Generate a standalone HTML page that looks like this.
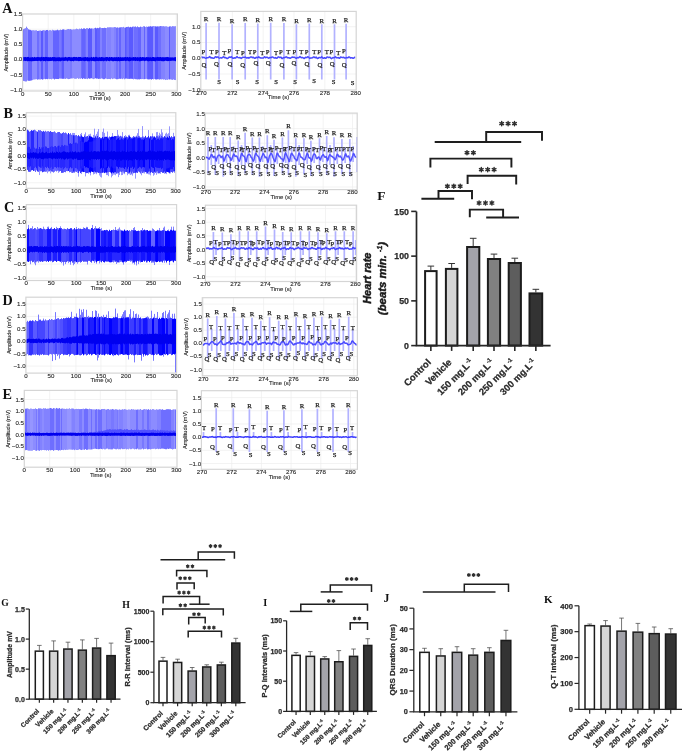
<!DOCTYPE html>
<html><head><meta charset="utf-8"><style>
html,body{margin:0;padding:0;background:#fff;}
svg{display:block;filter:blur(0.45px);}
text{font-family:"Liberation Sans", sans-serif;}
.sb{font-family:"Liberation Serif", serif;font-weight:bold;}
.se{font-family:"Liberation Serif", serif;}
.mo{font-family:"Liberation Mono", monospace;}
.b{font-weight:bold;stroke:#2b2b2b;stroke-width:0.25px;}
.bi{font-weight:bold;font-style:italic;stroke:#1a1a1a;stroke-width:0.45px;}
</style></head><body>
<svg width="685" height="753" viewBox="0 0 685 753">
<rect width="685" height="753" fill="#fff"/>
<path d="M22.6 29.16H177.4M22.6 44.32H177.4M22.6 59.48H177.4M22.6 74.64H177.4M22.6 89.8H177.4M48.22 14V91M73.83 14V91M99.45 14V91M125.07 14V91M150.68 14V91M176.3 14V91" stroke="#eeeeee" stroke-width="0.7" fill="none"/>
<path d="M41.5 30.84V79.16M42.5 30.49V79.62M62.5 29.49V78.81M63.5 29.33V78.81M88.5 28.8V78.32M89.5 27.96V78.75M90.5 28.59V78.46M91.5 28.42V78.26M95.5 27.75V78.28M96.5 28.34V78.61M125.5 27.49V78.65M129.5 27.31V78.9M130.5 26.86V78.78M131.5 27.3V78.79M132.5 26.69V78.9M148.5 26.49V79.43M149.5 26.52V79.36M150.5 26.18V79.17M151.5 26.54V79.62M152.5 26.34V79.02M155.5 26.32V79.4M156.5 26.53V79.51M157.5 26.35V79.25M169.5 26.42V79.46" stroke="#5a5aff" stroke-width="1" fill="none"/>
<path d="M23.5 29.23V80.92M28.5 29.3V80.81M29.5 29.7V80.84M30.5 29.86V80.66M31.5 30.43V80.45M45.5 30.51V79.21M46.5 30.01V78.94M47.5 29.96V79.19M53.5 30.28V78.75M54.5 30.46V79.48M55.5 30.33V78.9M56.5 30.23V78.97M57.5 29.69V79.01M58.5 30.27V79.05M82.5 29.09V79.05M83.5 28.42V78.34M84.5 28.38V78.76M97.5 27.87V78.57M98.5 28.17V78.96M99.5 27.51V78.78M119.5 27.44V78.75M120.5 27.3V78.86M126.5 26.97V78.59M138.5 27.14V79.31M139.5 27.21V79.42M140.5 26.62V79.06M144.5 26.37V79.17M147.5 26.86V79.28" stroke="#6464ff" stroke-width="1" fill="none"/>
<path d="M37.5 30.96V79.68M38.5 30.81V79.37M61.5 30.02V78.67M81.5 28.36V78.27M85.5 28.97V78.86M102.5 28.01V78.71M103.5 28.06V79.19M104.5 27.75V79.15M105.5 27.96V78.5M116.5 27.66V79.27M117.5 27.35V79.24M127.5 26.9V78.84M128.5 26.67V78.88M134.5 26.76V78.87M135.5 26.45V79.18M136.5 27.16V79.25M137.5 26.4V79.45M158.5 26.44V79.25M159.5 26.31V79.58M160.5 26.03V79.26" stroke="#6e6eff" stroke-width="1" fill="none"/>
<path d="M59.5 30.14V78.56M60.5 29.64V78.61M70.5 29.09V78.65M71.5 29.5V78.48" stroke="#7878ff" stroke-width="1" fill="none"/>
<path d="M24.5 28.6V81.21M25.5 28.17V81.51M26.5 26.67V81.46M39.5 30.59V79.45M40.5 30.43V79.47M43.5 30.11V79.26M44.5 30.32V78.86M64.5 29.65V78.73M65.5 29.91V78.96M66.5 29.64V78.43M67.5 29.2V78.81M68.5 29.03V79.13M69.5 29.26V78.98M86.5 28.16V78.69M87.5 28.2V79.11M100.5 27.52V78.84M101.5 28.05V78.43M107.5 27.3V79.08M108.5 27.39V78.95M109.5 27.27V78.98M110.5 27.25V79.22M114.5 27.08V78.54M115.5 27.15V78.87M118.5 27.72V79.07M121.5 27.13V78.65M122.5 27.28V79.12M123.5 26.87V78.5M124.5 27.62V79.27M133.5 26.52V79.36M161.5 26.14V79.44M162.5 26.24V79.21M163.5 26.13V79.58M164.5 26.42V79.36M170.5 26.24V79.4M171.5 26.67V79.65M172.5 26.1V79.88M173.5 26.24V79.43M174.5 26.32V79.93" stroke="#8282ff" stroke-width="1" fill="none"/>
<path d="M27.5 27.93V80.52M32.5 30.24V80.13M33.5 30.21V79.62M34.5 30.43V79.51M35.5 30.3V79.33M36.5 30.22V79.15M48.5 30.62V78.84M49.5 30.18V79.17M50.5 30.12V79.02M51.5 30.55V79.36M52.5 29.77V78.82M72.5 29.55V78.46M73.5 29.3V78.25M74.5 29.37V78.74M75.5 29.2V78.85M76.5 28.61V78.74M77.5 28.97V78.16M78.5 29.29V78.91M79.5 28.63V78.52M80.5 28.96V78.81M92.5 28.49V78.71M93.5 28.64V79.14M94.5 28.09V78.75M106.5 28.05V78.77M111.5 27.31V78.43M112.5 27.39V79.1M113.5 27.34V78.66M141.5 26.9V79.14M142.5 26.9V79.03M143.5 26.21V79.17M145.5 26.94V78.97M146.5 26.51V78.84M153.5 25.99V79.42M154.5 26.21V78.96M165.5 26.29V80.04M166.5 26.26V79.71M167.5 26.7V79.9M168.5 26.82V79.36M175.5 26.17V80.06" stroke="#8c8cff" stroke-width="1" fill="none"/>
<path d="M23.5 57.05V61.14M24.5 57.11V60.82M25.5 57V61.04M26.5 57.24V60.86M27.5 56.96V61.28M28.5 56.94V61.07M29.5 57.49V61.16M30.5 57.37V61.16M31.5 57.33V61.29M32.5 57.12V61.19M33.5 57.44V61.1M34.5 56.94V61.04M35.5 57.33V60.94M36.5 57.2V60.94M37.5 57.03V61.05M38.5 57.08V60.89M39.5 57.2V60.83M40.5 57.21V61.28M41.5 56.91V60.94M42.5 57.2V60.7M43.5 56.99V61.16M44.5 57.16V61.02M45.5 56.93V61.3M46.5 56.97V60.85M47.5 57.17V61.04M48.5 57.16V61.18M49.5 57.29V61.09M50.5 57.14V61.02M51.5 57.4V60.94M52.5 57.03V60.8M53.5 57.1V61.25M54.5 57.05V61.15M55.5 57.3V61.26M56.5 57.41V61.13M57.5 57.31V61.01M58.5 57.25V61.19M59.5 57.2V61.17M60.5 57.5V61.29M61.5 57.41V60.87M62.5 57.38V60.71M63.5 57.37V60.91M64.5 57.31V60.92M65.5 56.92V60.77M66.5 57.32V60.73M67.5 57.36V61.29M68.5 57.01V60.72M69.5 56.98V60.71M70.5 57.28V61.09M71.5 57.25V61.18M72.5 57.33V61M73.5 56.96V61.29M74.5 56.91V60.82M75.5 57.1V60.79M76.5 56.97V60.88M77.5 57.37V60.86M78.5 56.96V61.17M79.5 57V61.08M80.5 56.98V60.93M81.5 57.43V60.96M82.5 57.46V60.77M83.5 57.3V60.93M84.5 57.16V61.16M85.5 56.97V60.96M86.5 57.34V60.82M87.5 57.1V61.24M88.5 57.48V61.15M89.5 57.44V61.2M90.5 57.45V60.75M91.5 56.96V61.12M92.5 57.45V60.9M93.5 56.91V61.12M94.5 57.32V61.26M95.5 56.92V61.23M96.5 56.91V60.97M97.5 57.35V60.97M98.5 57.46V61.13M99.5 57.11V60.91M100.5 57.32V61.1M101.5 56.97V61.12M102.5 57.16V60.94M103.5 57.36V61.26M104.5 57.46V60.91M105.5 57.21V60.78M106.5 57.03V61.25M107.5 57.04V60.7M108.5 57.44V60.99M109.5 56.97V61.21M110.5 57.32V60.75M111.5 57V60.85M112.5 57.25V61.2M113.5 57.36V61.26M114.5 57.18V60.97M115.5 57.27V61.09M116.5 57.12V61.05M117.5 57.29V61.22M118.5 57.01V61.06M119.5 57.37V61.29M120.5 57.12V61.03M121.5 57.36V61M122.5 57.26V60.96M123.5 57.34V60.91M124.5 57.2V60.77M125.5 56.97V61.11M126.5 57.28V60.87M127.5 56.99V60.76M128.5 57.4V61.15M129.5 57.05V61.27M130.5 57.3V60.99M131.5 57.48V60.7M132.5 57.35V60.75M133.5 57.04V60.79M134.5 57.24V60.74M135.5 57.02V61.04M136.5 57.43V60.75M137.5 57.14V61.05M138.5 57.36V60.84M139.5 57.24V61.29M140.5 57V61.17M141.5 57.34V60.94M142.5 57.03V60.81M143.5 57.21V60.78M144.5 57.28V61.13M145.5 57.44V60.85M146.5 57.05V60.71M147.5 57.16V61.11M148.5 57.19V61.3M149.5 57.32V61.06M150.5 57.21V60.91M151.5 57.51V61.13M152.5 57.01V60.99M153.5 57V61.05M154.5 57.32V61.2M155.5 57.29V61.3M156.5 57.26V60.78M157.5 56.96V60.85M158.5 57.12V60.91M159.5 57.13V60.91M160.5 57V60.83M161.5 57.3V61.14M162.5 57.18V61.21M163.5 57.23V61.27M164.5 57.25V61.08M165.5 57.2V60.73M166.5 57.09V60.93M167.5 56.97V61.14M168.5 57.19V61.08M169.5 57.41V60.9M170.5 57.35V60.93M171.5 57.4V60.82M172.5 57.37V60.71M173.5 57.49V60.75M174.5 57.25V60.84M175.5 57.13V61.2" stroke="#0000ee" stroke-width="1" fill="none"/>
<path d="M26.3 116.12H175.8M26.3 129.45H175.8M26.3 142.77H175.8M26.3 156.1H175.8M26.3 169.43H175.8M26.3 182.75H175.8M51.18 112.7V188.3M76.07 112.7V188.3M100.95 112.7V188.3M125.83 112.7V188.3M150.72 112.7V188.3" stroke="#eeeeee" stroke-width="0.7" fill="none"/>
<path d="M27.5 129.81V169.83M28.5 130.61V171.54M29.5 131.77V171.85M30.5 131.16V171.64M31.5 130.22V170.28M32.5 130.8V170.02M33.5 130.31V170.98M34.5 129.81V170.54M35.5 130.52V171.91M36.5 131.37V170.23M37.5 131.78V171.35M38.5 130.11V171.82M39.5 130.54V175.05M40.5 130.34V171.2M41.5 131.01V171.13M42.5 131.73V172.19M43.5 130.9V171.75M44.5 131.77V171.44M45.5 130.86V171.68M46.5 131.78V171.47M47.5 131.4V173.29M48.5 131.28V171.38M49.5 131.88V171.23M50.5 131.06V173.33M51.5 131.98V171.38M52.5 132.14V171.61M53.5 131.94V172.41M54.5 131.51V171.64M55.5 132.54V170.7M56.5 133.16V171.36M57.5 132.35V170.6M58.5 132.07V172.88M59.5 132.07V171.41M60.5 133.35V171.01M61.5 133.74V172.74M62.5 132.96V172.72M63.5 132.32V172.51M64.5 133.15V172.01M65.5 132.67V172.2M66.5 133.45V171.05M67.5 134.52V171.15M68.5 133.02V170.95M69.5 134.31V172.18M70.5 133.3V171.89M71.5 134.83V173.02M72.5 132.93V172.95M73.5 132.96V172.93M74.5 132.97V173.02M75.5 135.43V171.45M76.5 135.07V171.96M77.5 136.22V172.91M78.5 135.24V176.63M79.5 136.42V171.22M80.5 134.05V173.09M81.5 132.94V174.06M82.5 136.76V171.62M83.5 137.13V172.04M84.5 134.25V172.02M85.5 132.37V176.38M86.5 136.57V173.08M87.5 136.01V172.94M88.5 134.65V173.72M89.5 134.35V172.8M90.5 133.73V175.36M91.5 136.72V171.51M92.5 137.55V171.99M93.5 134.91V174.5M94.5 128.69V173.96M95.5 135.56V173.25M96.5 133.93V174.19M97.5 131.66V172.31M98.5 129.01V172.9M99.5 137.05V175.46M100.5 137.89V176.86M101.5 137.96V177.55M102.5 131.86V172.7M103.5 128.54V172.4M104.5 132.88V173.09M105.5 136.81V172.44M106.5 136.84V175.08M107.5 131.54V175.08M108.5 137.66V176.18M109.5 136.6V171.96M110.5 137.21V172.33M111.5 136.09V177.4M112.5 133.04V175.83M113.5 136.76V174.66M114.5 136.14V174.65M115.5 136.18V175.27M116.5 136.19V173.56M117.5 129.99V173.64M118.5 134.71V177.13M119.5 136.62V174.98M120.5 135.9V171.52M121.5 136.62V175.17M122.5 132.13V174.99M123.5 137.79V173.42M124.5 136.2V174.2M125.5 135.07V171.88M126.5 136.65V171.99M127.5 137.24V175.23M128.5 134.93V173.95M129.5 134.78V174.3M130.5 136.95V175.06M131.5 137.82V174.54M132.5 137.51V175.63M133.5 136.24V173.16M134.5 136.81V172.8M135.5 136.52V178.64M136.5 135.59V172.44M137.5 133.2V172.95M138.5 128.92V171.36M139.5 135.84V172.16M140.5 137.43V173.37M141.5 137.47V175.28M142.5 126.1V173.02M143.5 136.42V173.19M144.5 137.36V173.52M145.5 135.92V172.04M146.5 137.7V173.79M147.5 137.32V173.87M148.5 130.05V174.33M149.5 137.61V174.48M150.5 136.34V175.38M151.5 136.6V172.08M152.5 133.42V172.96M153.5 136.73V175.73M154.5 136.56V174.65M155.5 137.72V172.69M156.5 132.15V174.83M157.5 131.96V173.25M158.5 135.36V173.27M159.5 132.76V173.19M160.5 134.34V173.82M161.5 129.24V171.99M162.5 132.41V172.84M163.5 137.45V172.68M164.5 136.17V173.8M165.5 133.71V173.19M166.5 132.68V174.15M167.5 134.17V172.03M168.5 133.18V172.33M169.5 126.32V173.65M170.5 137.45V173.44M171.5 136.3V171.97M172.5 137.32V172.59M173.5 132.84V171.43M174.5 136.52V172.92" stroke="#9696ff" stroke-width="1" fill="none"/>
<path d="M89.5 136.09V171.96M90.5 136.43V172.71M91.5 136.72V171.51M92.5 137.55V171.99M111.5 137.03V173.41M112.5 136.62V172.38M129.5 136.28V172.67" stroke="#0000ff" stroke-width="1" fill="none"/>
<path d="M82.5 136.76V171.62M83.5 137.13V172.04M106.5 136.84V172.67M154.5 136.56V171.79M166.5 137.74V171.78M167.5 136.72V172.03M168.5 137.81V172.33M169.5 136.09V172.77" stroke="#0a0aff" stroke-width="1" fill="none"/>
<path d="M102.5 137.07V172.7M104.5 137.08V173.09M105.5 136.81V172.44M110.5 137.21V172.33M113.5 136.76V173.08M114.5 136.14V172.34M115.5 136.18V172.27" stroke="#1414ff" stroke-width="1" fill="none"/>
<path d="M68.5 133.02V170.95M73.5 135.19V171.68M81.5 135.45V171.89M93.5 137.68V172.19M94.5 137.79V171.52M95.5 136.48V171.99M150.5 136.34V172.69M174.5 136.52V171.32" stroke="#1e1eff" stroke-width="1" fill="none"/>
<path d="M31.5 130.22V170.28M32.5 130.8V170.02M33.5 130.31V170.98M37.5 131.78V171.35M135.5 137.43V172.85M136.5 136.6V172.44M145.5 135.92V172.04M146.5 137.7V172.38M147.5 137.32V173.06M148.5 135.98V171.73M163.5 137.45V172.68M164.5 136.17V171.64M165.5 137.44V173.19" stroke="#2828ff" stroke-width="1" fill="none"/>
<path d="M42.5 131.73V172.19M78.5 135.24V172.96M79.5 136.42V171.22M80.5 136.57V173.09M96.5 137.76V172.39M97.5 136.01V172.31M98.5 137.92V172.9M99.5 137.05V172.76M126.5 136.65V171.99" stroke="#3232ff" stroke-width="1" fill="none"/>
<path d="M27.5 129.81V169.83M28.5 130.61V171.54M43.5 130.9V171.75M44.5 131.77V171.44M74.5 135.46V171.76M84.5 135.93V172.02M85.5 136.9V172.7M86.5 136.57V173.08M87.5 136.01V172.94M88.5 137.57V172.38M100.5 137.89V173.15M101.5 137.96V172.82M107.5 136.7V172.31M143.5 137.7V171.71M144.5 137.36V171.73M149.5 137.61V171.4M173.5 136.84V171.43" stroke="#3c3cff" stroke-width="1" fill="none"/>
<path d="M49.5 131.88V171.23M50.5 131.06V170.43M51.5 131.98V171.38M52.5 132.14V171.61M61.5 133.74V172.74M62.5 132.96V172.72M103.5 137.63V172.4M116.5 136.19V173.56M117.5 136.1V172.6M118.5 136.08V173.12M119.5 136.62V171.84M124.5 136.2V172.81M125.5 137.08V171.88M127.5 137.24V172.66M130.5 136.95V171.68M131.5 137.82V173.45M132.5 137.51V171.73M133.5 136.24V173.16M134.5 136.81V172.8M137.5 137.09V172.95M138.5 136.2V171.36M139.5 136.67V172.16M151.5 136.6V172.08M152.5 136.13V172.96M153.5 136.73V172.83M155.5 137.72V172.69M156.5 136.12V171.69M157.5 136.22V171.34M158.5 137.36V173.27M159.5 135.95V173.19M160.5 137.61V171.95M161.5 135.9V171.99M162.5 136.71V172.84M170.5 137.45V171.78M171.5 136.3V171.97M172.5 137.32V172.59" stroke="#4646ff" stroke-width="1" fill="none"/>
<path d="M29.5 131.77V171.85M30.5 131.16V171.64M58.5 132.07V170.6M59.5 132.07V171.41M60.5 133.35V171.01M108.5 137.66V172.22M109.5 136.6V171.96M120.5 135.9V171.52M121.5 136.62V172.01M122.5 136.64V171.48M123.5 137.79V171.55M128.5 136.21V173.13M140.5 137.43V173.37M141.5 137.47V171.51M142.5 136.53V173.02" stroke="#5050ff" stroke-width="1" fill="none"/>
<path d="M38.5 130.11V171.82M39.5 130.54V170.59M40.5 130.34V171.2M41.5 131.01V171.13M57.5 132.35V170.6M63.5 132.32V172.51M64.5 133.15V172.01M65.5 132.67V172.2M66.5 133.45V171.05M67.5 134.52V171.15M69.5 134.31V172.18M71.5 134.83V171.66M72.5 135.35V172.95M75.5 135.43V171.45M76.5 135.07V171.96M77.5 136.22V171.13" stroke="#5a5aff" stroke-width="1" fill="none"/>
<path d="M34.5 129.81V170.54M35.5 130.52V171.91M36.5 131.37V170.23M45.5 130.86V171.68M46.5 131.78V171.47M47.5 131.4V170.29M48.5 131.28V171.38M53.5 131.94V172.41M54.5 131.51V171.64M55.5 132.54V170.7M56.5 133.16V171.36M70.5 133.3V171.89" stroke="#6464ff" stroke-width="1" fill="none"/>
<path d="M84.5 142.64V166.04M85.5 141.8V167.5M86.5 141.82V167.2M87.5 141.37V167.74M88.5 140.15V168.1M100.5 139.25V168.74M101.5 139.3V167.85M107.5 138.25V168M143.5 139.88V167.03M144.5 138.84V167.46M149.5 138.68V168.54" stroke="#0000ff" stroke-width="1" fill="none"/>
<path d="M103.5 138.92V168.28M116.5 139.79V166.48M117.5 138.71V166.91M118.5 138.02V168.63M119.5 139.83V166.98M124.5 138.36V168.97M125.5 137.89V167.17M127.5 139.51V168.73M132.5 138.76V166.76M133.5 138.01V169.03M134.5 137.62V167.62M138.5 138.09V167.91M139.5 138.06V166.82M151.5 139.92V166.88M152.5 139.38V167.61M153.5 137.94V168.05M173.5 139.48V167.04" stroke="#0a0aff" stroke-width="1" fill="none"/>
<path d="M89.5 141.78V167.88M90.5 141.77V167.13M91.5 141.64V167.97M92.5 141.28V168.23M108.5 139.03V166.55M109.5 140V167.77M111.5 138.84V166.6M112.5 138.17V167.76M120.5 139.59V167.58M121.5 138.31V167.78M122.5 139.31V167.56M123.5 139.61V167.91M128.5 138.27V166.89M129.5 138.73V166.95M130.5 138.57V167.72M131.5 138.77V167.88M137.5 138.36V168.71M140.5 138.34V167.4M141.5 139.47V168.55M142.5 139.36V167.36M155.5 137.76V167.09M156.5 139.75V167.59M157.5 138.96V167.83M158.5 138.82V167.91M159.5 139.85V168.09M160.5 138.48V167.7M161.5 138.24V169.19M162.5 138.53V168.23M170.5 137.8V169.37M171.5 140.05V169.12M172.5 139.01V169.22" stroke="#1414ff" stroke-width="1" fill="none"/>
<path d="M30.5 148.84V166.33M36.5 148.51V168.27M39.5 147.04V166.92M40.5 148.79V167.72M42.5 147.65V166.33M48.5 148.09V168.08M58.5 145.72V167.54M69.5 143.74V168.45M70.5 143.18V167.23M71.5 144V168.3M80.5 140.86V168.46M82.5 141.87V168.45M83.5 142.12V168.43M102.5 139.4V166.4M104.5 140.23V168.14M105.5 137.91V167.73M106.5 138.12V167.22M110.5 139.9V167.39M113.5 138.19V168.41M114.5 139.63V168.49M115.5 138.03V168.5M154.5 139.96V167.53M166.5 138.05V168.66M167.5 139.83V168.32M168.5 140.06V168.05M169.5 137.52V167.63" stroke="#1e1eff" stroke-width="1" fill="none"/>
<path d="M27.5 147.44V166.86M28.5 146.73V166.14M29.5 146.98V167.29M31.5 148.87V166.72M32.5 146.92V166.35M37.5 146.59V168.78M43.5 147.09V168.29M45.5 146.36V167.07M46.5 146.76V168.06M47.5 148.05V166.81M50.5 146.86V167.78M52.5 146.56V168.9M55.5 146V167.13M56.5 147.27V168.15M60.5 146.92V167.8M61.5 145.34V168.04M62.5 145.11V167.26M63.5 146.08V169.34M64.5 144.9V168.1M75.5 142.71V168.03M77.5 143.47V169.45M81.5 141.74V166.34M93.5 141.2V168.23M94.5 140.28V167.47M95.5 140.07V167.24M126.5 138.9V168.01M135.5 139.59V168.29M136.5 138.31V166.82M145.5 138.68V167.5M146.5 138.37V168.08M147.5 139.99V168.93M148.5 138.44V166.72M150.5 139.83V167.52M163.5 138.87V167.25M164.5 137.79V168.6M165.5 137.73V168.41M174.5 139.53V166.97" stroke="#2828ff" stroke-width="1" fill="none"/>
<path d="M33.5 148.8V166.35M34.5 147.65V167.96M35.5 148.68V166.83M38.5 149V166.23M41.5 147.42V167.81M44.5 148.68V168.51M49.5 147.76V168.77M51.5 146.28V166.9M53.5 146.98V168.83M54.5 146.15V167.18M57.5 146.29V166.98M59.5 145.66V167.25M65.5 145.34V167.17M66.5 145.53V168.22M67.5 145.7V168.24M68.5 144.79V169.22M72.5 143.54V168.15M73.5 143.79V168.5M74.5 143.07V167.57M76.5 142.64V168.3M78.5 141.97V168.27M79.5 142.64V168.47M96.5 140.11V166.38M97.5 139.09V166.51M98.5 138.81V168.7M99.5 138.77V167.12" stroke="#3232ff" stroke-width="1" fill="none"/>
<path d="M27.5 152.71V158.09M28.5 152.94V158.65M29.5 153.26V159.06M30.5 152.44V157.67M31.5 152.85V158.29M32.5 152.66V157.69M33.5 152.09V158.69M34.5 152.71V157.71M35.5 152.46V158.79M36.5 152.81V158.1M37.5 153.43V158.86M38.5 153.38V158.74M39.5 152.21V157.94M40.5 153.19V158.4M41.5 152.48V159.13M42.5 151.76V159.01M43.5 152.49V159.39M44.5 152.96V158.59M45.5 152.47V158.51M46.5 151.8V158.49M47.5 153.22V158.76M48.5 153.1V158.3M49.5 153.08V158.17M50.5 152.45V158.27M51.5 152.79V158.79M52.5 151.54V159.36M53.5 152.75V158.54M54.5 152.27V158.49M55.5 152.84V158.95M56.5 151.56V158.55M57.5 152.04V159.06M58.5 152.98V158.21M59.5 151.8V158.81M60.5 152.64V158.22M61.5 152.41V159.36M62.5 151.85V158.55M63.5 151.36V159.24M64.5 151.42V159.73M65.5 151.85V159.25M66.5 152.4V158.36M67.5 152.11V159.45M68.5 152.49V158.85M69.5 152.23V158.55M70.5 151.55V158.41M71.5 152.44V158.46M72.5 151.38V159.4M73.5 152.14V159.65M74.5 151.83V158.71M75.5 151.31V159.13M76.5 152.45V158.52M77.5 152.33V159.89M78.5 151.78V160.05M79.5 152.38V160M80.5 152.28V160.02M81.5 151.62V159.46M82.5 151.62V159.91M83.5 151.24V158.94M84.5 150.89V158.84M85.5 151.28V159.57M86.5 151.78V159.48M87.5 151.63V159.94M88.5 151.38V159.31M89.5 151.84V159.98M90.5 151.73V160.3M91.5 150.76V158.95M92.5 152.18V159.39M93.5 151.41V159.16M94.5 150.99V159.56M95.5 151.19V159.01M96.5 151.63V159.99M97.5 151.36V159.01M98.5 151.29V159.6M99.5 151.66V159.15M100.5 151.74V160.32M101.5 150.64V160.43M102.5 150.82V159.6M103.5 151.4V159.89M104.5 150.76V159.08M105.5 151.04V159.74M106.5 150.57V160.44M107.5 150.83V160.07M108.5 151.19V159.98M109.5 151.92V159.12M110.5 151.46V159.16M111.5 150.55V159.23M112.5 151.66V159.83M113.5 151.17V160.25M114.5 150.98V159.15M115.5 151.81V160M116.5 151.82V159.34M117.5 151.64V160.59M118.5 151.74V159.64M119.5 151.3V159.16M120.5 152.07V160.6M121.5 151.63V160.53M122.5 150.7V159.77M123.5 151.45V159.58M124.5 151.01V160.03M125.5 151.82V159.57M126.5 151.93V160.26M127.5 150.57V159.14M128.5 151.8V160.63M129.5 151.61V159.96M130.5 151.18V160.12M131.5 151.08V160.38M132.5 151.84V160.52M133.5 151.2V159.2M134.5 150.78V159.83M135.5 151.63V159.1M136.5 152.03V160.12M137.5 150.84V159.96M138.5 150.6V159.18M139.5 152.05V160.58M140.5 151.05V159.97M141.5 151.76V159.56M142.5 150.7V160.3M143.5 151.2V159.59M144.5 151.13V160.06M145.5 151.73V159.63M146.5 151.78V160.09M147.5 151.63V159.37M148.5 150.9V159.44M149.5 150.87V159.34M150.5 150.53V159.88M151.5 151.66V159.42M152.5 150.71V160.03M153.5 151.42V159.47M154.5 151.26V159.99M155.5 151.84V159.53M156.5 152.01V160.3M157.5 150.74V160.47M158.5 151.32V159.1M159.5 150.77V160.36M160.5 151.1V160M161.5 150.81V160.29M162.5 151.59V159.78M163.5 151.57V160.62M164.5 150.89V159.1M165.5 150.63V160.09M166.5 151.2V159.8M167.5 150.88V159.54M168.5 151.25V159.62M169.5 150.86V160M170.5 152.07V160.34M171.5 151.44V160.44M172.5 151.38V160.4M173.5 151.3V160.19M174.5 151.09V160.55" stroke="#0000f0" stroke-width="1" fill="none"/>
<path d="M26.3 208.1H176.6M26.3 222.1H176.6M26.3 236.1H176.6M26.3 250.1H176.6M26.3 264.1H176.6M26.3 278.1H176.6M51.25 204.6V280.5M76.2 204.6V280.5M101.15 204.6V280.5M126.1 204.6V280.5M151.05 204.6V280.5" stroke="#eeeeee" stroke-width="0.7" fill="none"/>
<path d="M27.5 229.26V261.35M28.5 224.91V261.91M29.5 229.41V261.18M30.5 228.39V264.24M31.5 228.46V260.61M32.5 226.23V262.15M33.5 229.01V261.73M34.5 228.22V263.45M35.5 228.46V265.25M36.5 229.51V262.23M37.5 227.01V261.22M38.5 228.81V262.7M39.5 228.3V261.22M40.5 228.15V261.68M41.5 228.72V261.2M42.5 229.26V261.83M43.5 226.68V261.28M44.5 228.88V261.09M45.5 229.56V261.1M46.5 229.12V261.71M47.5 226.87V260.91M48.5 226.53V261.95M49.5 229.1V260.79M50.5 228.57V261.58M51.5 226.96V260.78M52.5 229.08V262.17M53.5 228.96V261.6M54.5 228.08V260.7M55.5 229.29V260.96M56.5 226.88V261.97M57.5 228.14V261.06M58.5 228.24V260.96M59.5 228.08V261.22M60.5 226.29V261.73M61.5 228.11V263.16M62.5 229.2V261.89M63.5 228.75V265.6M64.5 228.82V261.8M65.5 229.05V264.16M66.5 229.53V262.07M67.5 228.31V261.2M68.5 228.95V263.12M69.5 228.95V261.59M70.5 228.33V264.74M71.5 228.33V261.11M72.5 229.65V262.96M73.5 229.36V265.3M74.5 228.06V263.99M75.5 229.48V262.42M76.5 226.97V262.07M77.5 228.99V263.69M78.5 228.4V262.11M79.5 228.85V261.99M80.5 228.79V262.86M81.5 229.13V261.96M82.5 228.97V260.75M83.5 227.29V261.67M84.5 227.99V261.48M85.5 228.72V261.48M86.5 226.83V261.5M87.5 226.94V264.48M88.5 229.23V260.72M89.5 229.5V260.79M90.5 229.65V261.76M91.5 228.06V262.98M92.5 224.97V260.64M93.5 229.16V261.1M94.5 228.04V263.04M95.5 226.15V261.31M96.5 228.56V263.67M97.5 228.73V261.15M98.5 228.46V260.94M99.5 227.04V263.42M100.5 228.98V261.36M101.5 228.14V262.22M102.5 230.64V260.96M103.5 230.67V262.04M104.5 230.03V262.36M105.5 230.41V261.28M106.5 229.9V261.47M107.5 230.23V261.46M108.5 231.28V261.44M109.5 229.84V262.15M110.5 230.95V262.27M111.5 230.17V262.16M112.5 230.1V261.75M113.5 229.39V262.59M114.5 230.17V261.37M115.5 226.99V261.63M116.5 229.88V264M117.5 229.32V262.65M118.5 228.7V262.3M119.5 227.4V262.47M120.5 229.59V261.74M121.5 230.56V261.9M122.5 230.76V262.24M123.5 230.63V264.63M124.5 229.7V261.49M125.5 230.83V262.61M126.5 230.69V261.77M127.5 230.11V260.78M128.5 230.95V260.89M129.5 230.32V261.03M130.5 231.3V261.5M131.5 229.92V261.16M132.5 230.11V263.44M133.5 228.01V262.9M134.5 227.09V264.53M135.5 230.32V261.93M136.5 231.15V265.43M137.5 230.97V260.79M138.5 230.76V264.14M139.5 230.99V261.36M140.5 230.53V262.28M141.5 230.32V262M142.5 228.03V261.99M143.5 230.31V260.59M144.5 229.74V261.47M145.5 230.02V260.59M146.5 230.27V262.34M147.5 230.09V262.35M148.5 231.08V260.93M149.5 230.71V262.1M150.5 230.74V260.75M151.5 230.84V262.87M152.5 228.35V262.32M153.5 229.1V262.35M154.5 230.42V265.04M155.5 231.27V261.58M156.5 230.92V262.15M157.5 229.81V261.87M158.5 230.55V261.12M159.5 227.99V262.09M160.5 230.75V261.53M161.5 230.81V261.4M162.5 230.31V262.36M163.5 227.72V260.63M164.5 226.59V262.79M165.5 230.88V260.56M166.5 231.12V263.13M167.5 230.46V260.96M168.5 229.56V260.54M169.5 231.26V265.05M170.5 229.49V261.15M171.5 226.71V260.71M172.5 230.69V261.45M173.5 226.61V262.27M174.5 230.74V260.56M175.5 230.76V260.95" stroke="#8282ff" stroke-width="1" fill="none"/>
<path d="M76.5 229.25V262.07M96.5 228.56V262.18M97.5 228.73V261.15M98.5 228.46V260.94M99.5 229.02V260.71M124.5 229.7V261.49M156.5 230.92V262.15M157.5 230.41V261.87M165.5 230.88V260.56M166.5 231.12V261.93M167.5 230.46V260.96M168.5 230.87V260.54M169.5 231.26V261.96" stroke="#0000ff" stroke-width="1" fill="none"/>
<path d="M27.5 229.26V261.35M28.5 228.25V261.91M122.5 230.76V262.24M123.5 231.29V262.24M147.5 230.09V260.96M148.5 231.08V260.93M149.5 230.71V262.1M150.5 230.74V260.75M155.5 231.27V261.58M170.5 230.21V261.15M171.5 229.96V260.71M172.5 230.69V260.48M173.5 229.8V262.27M174.5 230.74V260.56" stroke="#0a0aff" stroke-width="1" fill="none"/>
<path d="M47.5 229.03V260.91M48.5 228.31V261.95M49.5 229.1V260.79M50.5 228.57V260.69M58.5 229.64V260.96M59.5 228.08V261.22M60.5 228.35V261.73M104.5 230.03V262.36M105.5 230.41V261.28M108.5 231.28V261.44M109.5 229.84V262.15M110.5 230.95V262.27M111.5 230.17V262.16M121.5 230.56V260.59M125.5 230.83V261.23M133.5 230.38V262.2M134.5 230.36V262.4M135.5 230.32V260.87M136.5 231.15V262.37M141.5 230.32V262M142.5 231.2V261.99M143.5 230.31V260.59M144.5 229.74V261.47" stroke="#1414ff" stroke-width="1" fill="none"/>
<path d="M53.5 228.96V261.6M54.5 228.08V260.7M55.5 229.29V260.96M56.5 229.09V261.97M91.5 228.06V261.65M92.5 228.17V260.64M93.5 229.16V261.1M101.5 230.89V262.22M102.5 230.64V260.96M103.5 230.67V262.04M126.5 230.69V261.77M127.5 230.11V260.78M128.5 230.95V260.89M137.5 230.97V260.79M138.5 230.76V261.24M158.5 230.55V261.12M159.5 230.47V262.09M160.5 230.75V261.53" stroke="#1e1eff" stroke-width="1" fill="none"/>
<path d="M69.5 228.95V261.59M70.5 228.33V261.91M71.5 228.33V261.11M74.5 228.06V261.29M75.5 229.48V260.95M106.5 229.9V261.47M107.5 230.23V261.46M115.5 230.07V261.63M116.5 230.45V261.25M117.5 231.01V262.01M118.5 230.52V262.3M145.5 230.85V260.59M146.5 230.27V262.34M161.5 230.81V261.4M162.5 230.31V262.36M163.5 230.15V260.63M175.5 230.76V260.95" stroke="#2828ff" stroke-width="1" fill="none"/>
<path d="M39.5 228.97V261.22M40.5 228.15V261.68M41.5 228.72V261.2M42.5 229.26V261.83M80.5 228.79V261.55" stroke="#3232ff" stroke-width="1" fill="none"/>
<path d="M29.5 229.41V261.18M30.5 228.39V261.26M31.5 228.46V260.61M32.5 229.5V262.15M33.5 229.01V261.73M34.5 228.22V260.48M37.5 229.59V261.22M38.5 228.81V260.46M43.5 228.96V261.28M44.5 228.88V261.09M45.5 229.56V261.1M46.5 229.12V261.71M51.5 228.3V260.78M52.5 229.08V262.17M61.5 228.11V260.84M66.5 229.53V262.07M67.5 228.31V261.2M68.5 228.95V261.06M72.5 229.65V262.14M73.5 229.36V262.37M81.5 229.13V261.96M82.5 228.97V260.75M83.5 228.85V261.67M84.5 227.99V261.48M85.5 228.72V261.48M86.5 228.05V261.5M87.5 228.23V261.95M88.5 229.23V260.72M89.5 229.5V260.79" stroke="#4646ff" stroke-width="1" fill="none"/>
<path d="M35.5 228.46V262.01M36.5 229.51V260.85M57.5 228.14V261.06M62.5 229.2V261.89M63.5 229.66V262.31M64.5 228.82V261.8M65.5 229.05V262.05M77.5 228.99V261.73M78.5 228.4V262.11M79.5 228.85V261.16M90.5 229.65V261.76" stroke="#5050ff" stroke-width="1" fill="none"/>
<path d="M94.5 228.04V261.1M95.5 228.52V261.31M100.5 228.98V261.36M112.5 230.1V261.75M113.5 230.07V261.47M114.5 230.17V261.37M131.5 229.92V261.16M132.5 230.11V261.77M139.5 230.99V261.36M140.5 230.53V262.28M164.5 229.73V261.16" stroke="#5a5aff" stroke-width="1" fill="none"/>
<path d="M129.5 230.32V261.03M130.5 231.3V261.5M151.5 230.84V261.94M152.5 231.06V262.32M153.5 229.69V262.35M154.5 230.42V262.24" stroke="#6464ff" stroke-width="1" fill="none"/>
<path d="M119.5 230.66V261.64M120.5 230.29V261.74" stroke="#6e6eff" stroke-width="1" fill="none"/>
<path d="M27.5 246.95V252.89M28.5 246.49V252.18M29.5 246.27V252.83M30.5 246.21V251.92M31.5 245.97V251.92M32.5 246.68V252.33M33.5 246.26V251.86M34.5 246.01V252.26M35.5 246.06V251.79M36.5 246.16V251.92M37.5 246.03V251.8M38.5 246.98V252.68M39.5 246.67V251.83M40.5 246.3V252.23M41.5 246.54V252.09M42.5 246.41V252.89M43.5 246.95V252.2M44.5 246.19V252.88M45.5 246.51V252.24M46.5 246.35V252.56M47.5 246.67V252.65M48.5 246.91V252.54M49.5 246.83V252.52M50.5 246.43V252.69M51.5 246.3V252M52.5 246.72V252.51M53.5 246.85V252.89M54.5 245.96V251.86M55.5 246.44V252.58M56.5 246.11V252.85M57.5 246.01V252.25M58.5 246.43V252.44M59.5 246.05V252.37M60.5 246.83V252.01M61.5 246.05V252.84M62.5 246.49V252.03M63.5 246.06V252.8M64.5 246.3V252.24M65.5 246.22V252.47M66.5 246.14V252.47M67.5 246.46V252.11M68.5 246.24V252.82M69.5 246.6V251.89M70.5 246.28V251.91M71.5 246.9V252.24M72.5 246.91V251.91M73.5 246.27V251.96M74.5 246.45V252.1M75.5 246.39V251.97M76.5 246.58V252.49M77.5 245.93V252.44M78.5 246.27V252.32M79.5 246.18V251.87M80.5 246.8V252.24M81.5 246.69V252.11M82.5 246.78V252.87M83.5 246.15V252.74M84.5 246.09V251.98M85.5 246.57V252.08M86.5 246.26V251.83M87.5 246.06V251.89M88.5 246.2V252.8M89.5 246.37V252.14M90.5 246.78V252.24M91.5 246.27V252.77M92.5 246.15V252.05M93.5 246.72V252.06M96.5 246.21V252.23M97.5 246.82V252.82M98.5 246.62V252.6M99.5 246.62V252.53M101.5 246.81V252.69M102.5 246.36V252.74M103.5 246.79V252.62M104.5 245.96V252.47M105.5 246.25V252.56M106.5 247.02V252.04M107.5 246.8V252.31M108.5 246.39V251.83M109.5 246.96V252.5M110.5 246.66V251.93M111.5 245.98V252.1M115.5 246.61V252.48M116.5 246.86V252.38M117.5 246.9V252.71M118.5 246.23V252.84M121.5 246.11V252.2M122.5 246.36V252.9M123.5 246.01V252.68M124.5 245.97V252.86M125.5 246.07V252.77M126.5 246.82V252.07M127.5 246.61V252.44M128.5 246.83V252.09M133.5 246.85V252.18M134.5 246.55V252.03M135.5 246.93V251.98M136.5 246.92V252.38M137.5 246.17V251.92M138.5 246.35V251.99M141.5 246.64V252.42M142.5 246.04V251.8M143.5 245.96V251.89M144.5 245.9V251.87M145.5 246.69V252.32M146.5 246.54V252.51M147.5 246.56V252.81M148.5 245.92V251.92M149.5 246.43V252.29M150.5 246.03V252M155.5 246V251.99M156.5 246.45V251.97M157.5 246.02V251.89M158.5 246.35V252.44M159.5 246.41V252.44M160.5 245.95V252.73M161.5 246.09V251.86M162.5 246.47V252.59M163.5 246.44V251.9M165.5 246.58V252.58M166.5 246.8V252.81M167.5 246.1V252.89M168.5 246.72V252.29M169.5 246.82V251.79M170.5 246.82V252.69M171.5 246.59V252.78M172.5 246.88V252.51M173.5 245.92V252.62M174.5 246.67V252.88M175.5 246.5V252.3" stroke="#0000f0" stroke-width="1" fill="none"/>
<path d="M94.5 250.1V259.7M95.5 250.1V259.91M100.5 250.1V259.96M112.5 250.1V260.35M113.5 250.1V260.07M114.5 250.1V259.97M119.5 250.1V260.24M120.5 250.1V260.34M129.5 250.1V259.63M130.5 250.1V260.1M131.5 250.1V259.76M132.5 250.1V260.37M139.5 250.1V259.96M140.5 250.1V260.88M151.5 250.1V260.54M152.5 250.1V260.92M153.5 250.1V260.95M154.5 250.1V260.84M164.5 250.1V259.76" stroke="#2828ff" stroke-width="1" fill="none"/>
<path d="M94.5 246.63V252.1M95.5 246.82V251.9M100.5 246.07V252.77M112.5 246.06V252.41M113.5 246.84V252.34M114.5 246.68V252.38M119.5 246.49V252.72M120.5 246.71V252.02M129.5 246.85V252.1M130.5 246.91V252.63M131.5 246.52V251.9M132.5 245.95V252.78M139.5 246.93V252.51M140.5 246.55V252.17M151.5 246.43V252.3M152.5 245.92V252.02M153.5 246.64V252.84M154.5 246.55V252.61M164.5 246.09V252.55" stroke="#0000f0" stroke-width="1" fill="none"/>
<path d="M25.9 304H176.6M25.9 316.42H176.6M25.9 328.84H176.6M25.9 341.26H176.6M25.9 353.68H176.6M25.9 366.1H176.6M50.92 297.2V373.1M75.93 297.2V373.1M100.95 297.2V373.1M125.97 297.2V373.1M150.98 297.2V373.1" stroke="#eeeeee" stroke-width="0.7" fill="none"/>
<path d="M26.5 321.98V355.24M27.5 320.88V354.03M28.5 321.9V355.23M29.5 320.88V355.08M30.5 320.68V355.27M31.5 321.2V355.26M32.5 320.47V354.42M33.5 320.85V354.67M34.5 321.59V354.33M35.5 320.09V355.08M36.5 320.96V354.12M37.5 321.31V355.02M38.5 314.62V354.62M39.5 319.8V355.39M40.5 319.74V354.34M41.5 320.86V354.76M42.5 320.73V354.06M43.5 318.61V355.06M44.5 320.75V354.57M45.5 319.57V354.71M46.5 320.59V354.69M47.5 320.51V354.98M48.5 320.26V355.33M49.5 319.05V354.28M50.5 319.99V353.9M51.5 319.03V354.3M52.5 319.74V361.09M53.5 319.99V353.86M54.5 319.72V354.31M55.5 312.11V360.09M56.5 318.98V353.89M57.5 318.56V356.05M58.5 318.34V354.36M59.5 319.53V358.58M60.5 319V355.01M61.5 318.45V353.88M62.5 319.19V353.89M63.5 318.02V355.13M64.5 318.62V354.48M65.5 318.23V354.57M66.5 317.69V354.8M67.5 317.96V354.87M68.5 317.49V354.05M69.5 318.16V356.4M70.5 317.27V354.77M71.5 311.82V353.79M72.5 318.42V353.77M73.5 318.13V354.4M74.5 316.84V355.22M75.5 316.96V354.89M76.5 313.44V354.88M77.5 317.58V354.72M78.5 317.91V354.48M79.5 308.77V355.15M80.5 314.84V355.26M81.5 309.69V355M82.5 312.26V353.75M83.5 309.12V355.21M84.5 317.15V354.28M85.5 317.22V354.16M86.5 309.78V355.3M87.5 316.99V354.85M88.5 315.85V353.75M89.5 317.47V354.59M90.5 317.25V353.82M91.5 317.44V355.23M92.5 311.03V354.38M93.5 317.88V353.86M94.5 317.01V353.88M95.5 310.32V354.8M96.5 310.92V355.07M97.5 316.91V360.46M98.5 313.55V357.62M99.5 317.18V354.9M100.5 316.95V354.11M101.5 315.99V354.66M102.5 317.3V354.71M103.5 314.84V354.53M104.5 317.31V355.27M105.5 317.06V354.26M106.5 314.72V353.7M107.5 318.03V354.43M108.5 311.26V354.17M109.5 318.01V354.85M110.5 318.25V355.05M111.5 318.43V353.85M112.5 318.22V355.18M113.5 317.42V356.15M114.5 317.69V355.08M115.5 308.59V355.09M116.5 317.33V354.15M117.5 313.46V354.74M118.5 318.38V355.37M119.5 318.15V354.45M120.5 318.33V354.35M121.5 316.4V354.03M122.5 314.34V354.32M123.5 311.99V354.97M124.5 310.52V354.6M125.5 310.24V354.38M126.5 317.49V354.37M127.5 317.38V355.06M128.5 317.36V359.45M129.5 314.18V354.67M130.5 309.19V354M131.5 318.71V354.91M132.5 317.73V354.32M133.5 311.16V355.18M134.5 317.87V362.39M135.5 314.02V354.68M136.5 313.55V354.33M137.5 317.92V355.08M138.5 314.51V354.84M139.5 318.07V354.91M140.5 317.61V354.85M141.5 318.76V360.72M142.5 318.45V353.74M143.5 318.4V356.85M144.5 318.19V354.14M145.5 317.83V355.42M146.5 317.46V354.67M147.5 316.37V355.37M148.5 317.56V354.87M149.5 318.74V353.82M150.5 318.25V354.17M151.5 310.7V354.84M152.5 318.64V354.59M153.5 317.67V360.79M154.5 313.91V354.93M155.5 317.96V353.72M156.5 317.85V354.81M157.5 311.99V354.26M158.5 318.95V353.76M159.5 317.84V355.15M160.5 318.91V355.31M161.5 317.82V355.31M162.5 312.99V355.04M163.5 312V356.63M164.5 318.53V354.18M165.5 310.74V354.75M166.5 317.98V353.99M167.5 314.27V355.17M168.5 312.52V354.44M169.5 310.1V353.89M170.5 317.7V353.75M171.5 318.19V355.09M172.5 313.81V354.62M173.5 318.85V354.01M174.5 313.64V354.38M175.5 318.86V372.5" stroke="#7878ff" stroke-width="1" fill="none"/>
<path d="M77.5 317.58V354.72M82.5 317.41V353.75M83.5 317.76V355.21M94.5 317.01V353.88M95.5 316.88V354.8M99.5 317.18V354.9M109.5 318.01V354.85M110.5 318.25V355.05M111.5 318.43V353.85M121.5 317.96V354.03M122.5 318.15V354.32M152.5 318.64V354.59M153.5 317.67V355.2M162.5 317.83V355.04M163.5 317.97V353.83M164.5 318.53V354.18M172.5 319V354.62M173.5 318.85V354.01M174.5 318.54V354.38M175.5 318.86V353.72" stroke="#0000ff" stroke-width="1" fill="none"/>
<path d="M104.5 317.31V355.27M125.5 317.59V354.38M126.5 317.49V354.37M127.5 317.38V355.06M128.5 317.36V354.92M158.5 318.95V353.76M159.5 317.84V355.15M160.5 318.91V355.31M161.5 317.82V355.31M166.5 317.98V353.99M167.5 318.91V355.17" stroke="#0a0aff" stroke-width="1" fill="none"/>
<path d="M88.5 318.26V353.75M89.5 317.47V354.59M112.5 318.22V355.18M113.5 317.42V353.96M114.5 317.69V355.08M115.5 317.14V355.09M116.5 317.33V354.15M117.5 317.5V354.74M120.5 318.33V354.35M143.5 318.4V355.26M144.5 318.19V354.14M145.5 317.83V355.42M146.5 317.46V354.67" stroke="#1414ff" stroke-width="1" fill="none"/>
<path d="M76.5 317.12V354.88M90.5 317.25V353.82M91.5 317.44V355.23M92.5 316.99V354.38M93.5 317.88V353.86M98.5 318.36V354.14M102.5 317.3V354.71M134.5 317.87V355.21M135.5 317.94V354.68M139.5 318.07V354.91M140.5 317.61V354.85" stroke="#1e1eff" stroke-width="1" fill="none"/>
<path d="M97.5 316.91V353.98M103.5 318.05V354.53M105.5 317.06V354.26M106.5 317.78V353.7M107.5 318.03V354.43M108.5 318.21V354.17M123.5 317.24V354.97M124.5 318.35V354.6M147.5 318.56V355.37" stroke="#2828ff" stroke-width="1" fill="none"/>
<path d="M29.5 320.88V355.08M30.5 320.68V355.27M31.5 321.2V355.26M32.5 320.47V354.42M67.5 317.96V354.87M68.5 317.49V354.05M69.5 318.16V354.27M70.5 317.27V354.77" stroke="#3232ff" stroke-width="1" fill="none"/>
<path d="M37.5 321.31V355.02M48.5 320.26V355.33M63.5 318.02V355.13M64.5 318.62V354.48M65.5 318.23V354.57M66.5 317.69V354.8M84.5 317.15V354.28M85.5 317.22V354.16M96.5 317.99V355.07M118.5 318.38V355.37M119.5 318.15V354.45M130.5 317.28V354M131.5 318.71V354.91M132.5 317.73V354.32M133.5 318.08V355.18M137.5 317.92V355.08M138.5 318.11V354.84M141.5 318.76V355.41M142.5 318.45V353.74M168.5 318.53V354.44M169.5 318.25V353.89M170.5 317.7V353.75M171.5 318.19V355.09" stroke="#3c3cff" stroke-width="1" fill="none"/>
<path d="M38.5 321.05V354.62M39.5 319.8V355.39M40.5 319.74V354.34M41.5 320.86V354.76M42.5 320.73V354.06M43.5 320.26V355.06M44.5 320.75V354.57M55.5 319.88V353.81M56.5 318.98V353.89M71.5 317.93V353.79M72.5 318.42V353.77M73.5 318.13V354.4M74.5 316.84V355.22M75.5 316.96V354.89M78.5 317.91V354.48M79.5 317.27V355.15M80.5 317.74V355.26M81.5 317.99V355M86.5 317.54V355.3M87.5 316.99V354.85M100.5 316.95V354.11M101.5 317.36V354.66M129.5 318.58V354.67M136.5 318.39V354.33M148.5 317.56V354.87M149.5 318.74V353.82M150.5 318.25V354.17M151.5 318.48V354.84M154.5 317.83V354.93M155.5 317.96V353.72M156.5 317.85V354.81M157.5 317.86V354.26M165.5 318.32V354.75" stroke="#4646ff" stroke-width="1" fill="none"/>
<path d="M60.5 319V355.01M61.5 318.45V353.88M62.5 319.19V353.89" stroke="#5050ff" stroke-width="1" fill="none"/>
<path d="M33.5 320.85V354.67M34.5 321.59V354.33M35.5 320.09V355.08M36.5 320.96V354.12M53.5 319.99V353.86M54.5 319.72V354.31M58.5 318.34V354.36M59.5 319.53V353.96" stroke="#5a5aff" stroke-width="1" fill="none"/>
<path d="M26.5 321.98V355.24M27.5 320.88V354.03M28.5 321.9V355.23M45.5 319.57V354.71M46.5 320.59V354.69M47.5 320.51V354.98M49.5 319.05V354.28M50.5 319.99V353.9M51.5 319.03V354.3M52.5 319.74V353.81M57.5 318.56V354.6" stroke="#6464ff" stroke-width="1" fill="none"/>
<path d="M26.5 339.46V342.85M27.5 338.99V342.97M28.5 338.7V342.45M29.5 338.79V342.4M30.5 339.02V343.07M31.5 338.98V342.95M32.5 339.02V342.84M33.5 338.71V343.2M34.5 339.05V342.91M35.5 338.89V342.97M36.5 338.62V343.15M37.5 339.29V342.92M38.5 338.57V342.52M39.5 338.75V342.84M40.5 339.33V342.81M41.5 339.51V343.2M42.5 339.42V342.27M43.5 338.85V343.1M44.5 339.4V342.72M45.5 339.28V342.84M46.5 338.7V342.75M47.5 339.29V342.38M48.5 338.54V342.85M49.5 339.03V343.15M50.5 339.19V342.59M51.5 338.87V342.57M52.5 338.57V342.58M53.5 338.86V343.19M54.5 338.6V343.03M55.5 338.74V342.37M56.5 339.12V342.38M57.5 338.73V342.81M58.5 338.44V342.81M59.5 338.7V342.58M60.5 338.86V343.28M61.5 337.98V342.65M62.5 337.87V343.03M63.5 338.43V342.99M64.5 338.45V343.2M65.5 338.26V343.3M66.5 337.59V342.9M67.5 337.18V343.3M68.5 337.82V342.87M69.5 337.03V343.49M70.5 337.09V343.61M71.5 337.29V343.71M72.5 336.66V342.81M73.5 336.41V343.04M74.5 336.47V343.21M75.5 336.5V342.96M76.5 335.98V342.99M77.5 336.43V343.9M78.5 336.36V343M79.5 335.68V343.38M80.5 335.58V343.24M81.5 335.56V343.36M82.5 336.13V344.04M83.5 335.21V343.41M84.5 335.26V343.58M85.5 335.7V343.33M86.5 335.34V343.52M87.5 335.57V343.36M88.5 334.66V344.03M89.5 334.53V343.3M90.5 334.39V343.49M91.5 334.8V343.71M92.5 334.13V343.72M93.5 334.03V343.53M94.5 334.13V343.92M95.5 334.07V343.88M96.5 333.86V344.37M97.5 333.93V343.87M98.5 333.67V343.75M99.5 334.52V344.08M100.5 333.87V343.71M101.5 333.63V344.22M102.5 334.23V343.87M103.5 333.64V344.36M104.5 334.46V344.28M105.5 334.44V344.15M106.5 334.44V343.52M107.5 334.48V343.65M108.5 334.35V344.45M109.5 334.19V343.51M110.5 333.87V343.52M111.5 333.72V344.39M112.5 334.02V344.13M113.5 334.34V344.25M114.5 334.19V343.79M115.5 334.53V344.3M116.5 334.51V344.18M117.5 334.2V344.05M118.5 334.14V344.38M119.5 333.59V343.97M120.5 333.83V344.47M121.5 334.27V344.06M122.5 334.01V343.54M123.5 334.19V343.63M124.5 333.57V344.35M125.5 334.47V343.55M126.5 334.5V344.02M127.5 333.87V343.54M128.5 333.71V343.65M129.5 334.27V343.65M130.5 333.56V344.48M131.5 334.46V343.85M132.5 333.87V344.43M133.5 334.22V344.21M134.5 334.4V343.73M135.5 334.03V343.96M136.5 334.01V343.91M137.5 333.83V343.54M138.5 334.24V344.28M139.5 334.24V343.63M140.5 334.46V343.5M141.5 334V344.27M142.5 334.11V343.76M143.5 334.55V343.5M144.5 334.21V344.14M145.5 333.98V344M146.5 334.47V344.1M147.5 333.82V343.74M148.5 334.16V343.58M149.5 333.73V343.78M150.5 333.94V343.57M151.5 333.88V344.25M152.5 334.13V344.07M153.5 333.79V344.02M154.5 333.84V343.93M155.5 333.59V343.57M156.5 333.77V343.6M157.5 333.91V344.31M158.5 334.51V343.68M159.5 333.98V344.22M160.5 333.92V344.27M161.5 334.55V344.3M162.5 333.98V343.92M163.5 334.46V343.63M164.5 334.35V344.24M165.5 333.69V343.65M166.5 333.74V343.58M167.5 334.03V343.64M168.5 334.55V344.09M169.5 334.4V343.72M170.5 334.01V343.84M171.5 334.48V344.18M172.5 333.73V343.73M173.5 333.65V344.48M174.5 334.21V343.79M175.5 333.79V344.16" stroke="#0000f0" stroke-width="1" fill="none"/>
<path d="M24.3 399.5H177M24.3 411.18H177M24.3 422.86H177M24.3 434.54H177M24.3 446.22H177M24.3 457.9H177M49.65 390.4V467.2M75 390.4V467.2M100.35 390.4V467.2M125.7 390.4V467.2M151.05 390.4V467.2" stroke="#eeeeee" stroke-width="0.7" fill="none"/>
<path d="M25.5 408.71V450.2M26.5 408.59V450.03M50.5 407.99V450.39M51.5 408.34V450.12M52.5 408.83V450.04M53.5 408.08V450.77M56.5 407.95V450.04M57.5 408.44V450.12M58.5 408.54V450.64M59.5 408.05V450.16M61.5 408.65V449.95M84.5 409.11V449.84M85.5 408.58V449.04M86.5 408.66V449.91M87.5 408.94V449.75M91.5 409.21V449.46M95.5 409.53V448.72M96.5 409.1V449.04M98.5 409.31V449.21M99.5 409.53V449.09M100.5 409.77V448.76M101.5 409.19V449.04M136.5 409.74V449.27M137.5 409.49V448.58M147.5 409.71V449.38M148.5 409.16V449.2M161.5 409.67V448.64M162.5 409.25V448.62M163.5 409.88V448.73M164.5 409.94V448.95M165.5 409.78V449.23M166.5 409.28V449.26M167.5 409.2V448.7M168.5 409.21V449.03M169.5 409.32V448.65M170.5 409.36V448.68M175.5 409.45V448.86" stroke="#6e6eff" stroke-width="1" fill="none"/>
<path d="M36.5 408.99V450.83M38.5 408.33V450.44M39.5 408.42V450.84M79.5 409.13V449.29M80.5 409.11V449.72M81.5 409.04V450.04M106.5 409.58V448.72M111.5 409.46V449.42M112.5 408.99V449.36M113.5 409.36V448.61M117.5 409.66V448.82M142.5 409.87V448.58M143.5 409.41V449.41" stroke="#7878ff" stroke-width="1" fill="none"/>
<path d="M40.5 408.36V450.1M41.5 408.7V450.35M44.5 408.51V450.17M45.5 408.24V450.09M46.5 408.89V450.57M47.5 408.64V450.03M48.5 408.64V450.73M49.5 408.28V449.96M72.5 408.48V449.8M73.5 408.65V449.59M74.5 409.22V450.13M107.5 409.13V448.58M108.5 409.02V449.29M109.5 409.68V449.22M110.5 409.42V449.34M114.5 409.68V448.9M115.5 409.24V449.24M116.5 409.34V449.37M119.5 409.39V449.19M120.5 409.79V449.35M121.5 409.73V448.58M122.5 409.26V449.16M149.5 409.85V449.09M150.5 409.28V449.45M157.5 409.62V448.69M158.5 409.56V449.15M159.5 409.19V448.81M160.5 409.3V449.07M171.5 409.99V449.01M172.5 409.7V449.47M173.5 409.35V449.12" stroke="#8282ff" stroke-width="1" fill="none"/>
<path d="M27.5 408.38V450.29M28.5 408.81V450.66M29.5 409.22V450.69M33.5 408.9V449.99M34.5 408.96V450.01M35.5 408.3V450.61M42.5 408.86V450M43.5 408.15V450.01M54.5 408.26V450.16M55.5 408.72V450.08M60.5 408.88V450.46M62.5 408.38V449.94M63.5 408.76V450.17M64.5 408.77V449.71M65.5 409.05V450.05M66.5 408.65V449.77M71.5 408.54V449.7M75.5 409.06V449.61M76.5 408.85V450.01M77.5 409.01V450.02M78.5 408.9V449.81M82.5 408.9V449.72M83.5 408.67V449.62M88.5 409.18V449.45M89.5 408.65V449.47M90.5 409.02V449.55M92.5 409.35V449.29M93.5 409.36V448.97M94.5 409.4V448.8M97.5 409.44V449.08M102.5 408.99V449.31M103.5 409.01V448.84M104.5 408.94V449.36M105.5 409.49V449.35M118.5 409.75V449.37M123.5 409.52V449.13M124.5 409.1V449.09M125.5 409.32V448.8M126.5 409.67V449.45M130.5 409.72V449.22M131.5 409.01V449.15M132.5 409.44V448.61M133.5 409.25V448.81M134.5 409.67V449.42M135.5 409.59V449.05M138.5 409.51V449.45M139.5 409.57V449.4M140.5 409.03V449.44M141.5 409.85V449.25M144.5 409.05V448.93M145.5 409.41V449.04M146.5 409.24V448.64M151.5 409.84V449.1M152.5 409.1V448.88M153.5 409.18V448.88M154.5 409.69V448.73M155.5 409.79V449.25M156.5 409.24V448.97" stroke="#8c8cff" stroke-width="1" fill="none"/>
<path d="M30.5 408.5V450.74M31.5 408.62V450.77M32.5 408.99V450.69M37.5 409.11V450.26M67.5 408.78V449.9M68.5 408.8V449.68M69.5 408.23V449.54M70.5 409.01V449.63M127.5 409.86V449.05M128.5 409.43V449.4M129.5 409.51V448.67M174.5 409.36V448.86" stroke="#9696ff" stroke-width="1" fill="none"/>
<path d="M25.5 432.65V435.5M26.5 433.01V435.72M27.5 432.6V435.89M28.5 432.77V435.67M29.5 432.89V435.51M30.5 432.65V435.88M31.5 433.02V435.53M32.5 432.56V435.53M33.5 432.77V435.62M34.5 432.7V435.49M35.5 432.85V435.86M36.5 432.88V435.66M37.5 432.86V435.8M38.5 432.87V435.72M39.5 432.57V435.93M40.5 433.01V435.57M41.5 433.02V435.92M42.5 432.93V435.59M43.5 432.86V435.78M44.5 432.97V435.59M45.5 433V435.5M46.5 432.74V435.51M47.5 432.77V435.8M48.5 432.99V435.87M49.5 432.95V435.92M50.5 432.83V435.83M51.5 432.81V435.74M52.5 433.01V435.71M53.5 432.68V435.5M54.5 432.97V435.74M55.5 432.88V435.73M56.5 432.57V435.73M57.5 432.8V435.81M58.5 432.85V435.48M59.5 432.79V435.78M60.5 432.66V435.54M61.5 432.66V435.62M62.5 432.85V435.61M63.5 432.66V435.62M64.5 432.72V435.67M65.5 432.9V435.63M66.5 432.72V435.57M67.5 432.68V435.55M68.5 432.62V435.62M69.5 432.78V435.69M70.5 432.58V435.72M71.5 432.68V435.86M72.5 432.71V435.75M73.5 432.72V435.61M74.5 432.82V435.64M75.5 432.73V435.92M76.5 433V435.88M77.5 432.93V435.92M78.5 432.74V435.67M79.5 433.02V435.75M80.5 432.97V435.55M81.5 432.73V435.9M82.5 432.75V435.49M83.5 432.64V435.64M84.5 432.74V435.68M85.5 432.74V435.78M86.5 432.97V435.68M87.5 432.73V435.53M88.5 432.92V435.81M89.5 432.57V435.51M90.5 432.56V435.71M91.5 432.56V435.71" stroke="#0000ee" stroke-width="1" fill="none"/>
<path d="M92.5 432.86V435.71M93.5 432.03V435.71M94.5 431.9V435.71M95.5 432.18V435.71M96.5 431.59V435.71M97.5 431.8V435.71M98.5 431.24V435.71M99.5 430.91V435.71M100.5 431.19V435.71M101.5 430.57V435.71M102.5 430.97V435.71M103.5 430.67V435.71M104.5 430.46V435.71M105.5 430.18V435.71M106.5 429.82V435.71M107.5 429.45V435.71M108.5 429.61V435.71M109.5 429.18V435.71M110.5 429.29V435.71M111.5 429.83V435.71M112.5 429.49V435.71M113.5 429.55V435.71M114.5 429.44V435.71M115.5 429.41V435.71M116.5 429.72V435.71M117.5 429.34V435.71M118.5 429.41V435.71M119.5 429.23V435.71M120.5 429.09V435.71M121.5 429.37V435.71M122.5 429.79V435.71M123.5 429.89V435.71M124.5 429.23V435.71M125.5 429.67V435.71M126.5 429.22V435.71M127.5 429.23V435.71M128.5 429.93V435.71M129.5 429.94V435.71M130.5 429.88V435.71M131.5 429.23V435.71M132.5 430.01V435.71M133.5 429.98V435.71M134.5 429.77V435.71M135.5 429.89V435.71M136.5 429.54V435.71M137.5 430.17V435.71M138.5 429.68V435.71M139.5 430.14V435.71M140.5 429.99V435.71M141.5 429.84V435.71M142.5 430.07V435.71M143.5 429.95V435.71M144.5 429.46V435.71M145.5 429.74V435.71M146.5 430V435.71M147.5 430V435.71M148.5 430.18V435.71M149.5 429.78V435.71M150.5 430.14V435.71M151.5 430.06V435.71M152.5 429.68V435.71M153.5 429.53V435.71M154.5 430.11V435.71M155.5 429.87V435.71M156.5 430.51V435.71M157.5 429.69V435.71M158.5 430.3V435.71M159.5 430.56V435.71M160.5 429.81V435.71M161.5 430.29V435.71M162.5 430.26V435.71M163.5 430.4V435.71M164.5 430.38V435.71M165.5 430.68V435.71M166.5 430.58V435.71M167.5 430.36V435.71M168.5 430.94V435.71M169.5 430.83V435.71M170.5 430.47V435.71M171.5 430.54V435.71M172.5 430.83V435.71M173.5 430.24V435.71M174.5 430.7V435.71M175.5 430.75V435.71" stroke="#5050ff" stroke-width="1" fill="none"/>
<path d="M92.5 432.73V435.73M93.5 433.02V435.69M94.5 432.91V435.82M95.5 432.74V435.72M96.5 432.97V435.59M97.5 432.88V435.69M98.5 432.75V435.92M99.5 432.61V435.69M100.5 432.75V435.61M101.5 432.84V435.76M102.5 432.63V435.91M103.5 432.89V435.58M104.5 432.77V435.71M105.5 432.64V435.91M106.5 432.71V435.93M107.5 432.69V435.92M108.5 432.58V435.61M109.5 432.95V435.66M110.5 433V435.89M111.5 432.75V435.59M112.5 432.87V435.66M113.5 433V435.62M114.5 432.6V435.68M115.5 432.9V435.59M116.5 432.85V435.6M117.5 432.98V435.63M118.5 432.91V435.53M119.5 433.01V435.6M120.5 432.7V435.84M121.5 432.64V435.88M122.5 432.87V435.65M123.5 432.63V435.64M124.5 432.78V435.66M125.5 432.98V435.93M126.5 432.8V435.59M127.5 432.73V435.74M128.5 432.95V435.77M129.5 432.9V435.81M130.5 432.8V435.93M131.5 432.7V435.63M132.5 432.71V435.81M133.5 432.93V435.93M134.5 432.57V435.77M135.5 432.68V435.61M136.5 432.58V435.64M137.5 432.99V435.58M138.5 432.56V435.7M139.5 432.6V435.71M140.5 433V435.76M141.5 432.88V435.92M142.5 432.78V435.75M143.5 432.97V435.69M144.5 432.92V435.93M145.5 432.85V435.65M146.5 432.81V435.56M147.5 432.98V435.58M148.5 432.98V435.83M149.5 432.91V435.91M150.5 432.89V435.77M151.5 432.67V435.68M152.5 432.75V435.74M153.5 432.68V435.61M154.5 432.96V435.91M155.5 432.89V435.91M156.5 433V435.88M157.5 432.74V435.83M158.5 433.02V435.67M159.5 432.77V435.86M160.5 432.65V435.89M161.5 432.82V435.74M162.5 432.57V435.66M163.5 433V435.48M164.5 432.61V435.76M165.5 432.76V435.77M166.5 432.91V435.48M167.5 432.83V435.87M168.5 432.94V435.9M169.5 432.65V435.79M170.5 432.65V435.77M171.5 432.94V435.76M172.5 432.84V435.72M173.5 432.64V435.51M174.5 432.65V435.77M175.5 432.89V435.91" stroke="#0000ee" stroke-width="1" fill="none"/>
<rect x="22.6" y="14" width="154.8" height="77" fill="none" stroke="#d5d5d5" stroke-width="1.2"/>
<g font-size="5.5" fill="#2c2c2c" stroke="#2c2c2c" stroke-width="0.12"><text transform="translate(22.3 16) scale(1.12 1)" text-anchor="end">1.5</text><text transform="translate(22.3 31.16) scale(1.12 1)" text-anchor="end">1.0</text><text transform="translate(22.3 46.32) scale(1.12 1)" text-anchor="end">0.5</text><text transform="translate(22.3 61.48) scale(1.12 1)" text-anchor="end">0.0</text><text transform="translate(22.3 76.64) scale(1.12 1)" text-anchor="end">−0.5</text><text transform="translate(22.3 91.8) scale(1.12 1)" text-anchor="end">−1.0</text><text transform="translate(22.6 95.8) scale(1.12 1)" text-anchor="middle">0</text><text transform="translate(48.22 95.8) scale(1.12 1)" text-anchor="middle">50</text><text transform="translate(73.83 95.8) scale(1.12 1)" text-anchor="middle">100</text><text transform="translate(99.45 95.8) scale(1.12 1)" text-anchor="middle">150</text><text transform="translate(125.07 95.8) scale(1.12 1)" text-anchor="middle">200</text><text transform="translate(150.68 95.8) scale(1.12 1)" text-anchor="middle">250</text><text transform="translate(176.3 95.8) scale(1.12 1)" text-anchor="middle">300</text><text transform="translate(100 100.3) scale(1.08 1)" text-anchor="middle">Time (s)</text><text transform="translate(8.3 52.5) rotate(-90)" text-anchor="middle">Amplitude (mV)</text></g>
<rect x="26.3" y="112.7" width="149.5" height="75.6" fill="none" stroke="#d5d5d5" stroke-width="1.2"/>
<g font-size="5.5" fill="#2c2c2c" stroke="#2c2c2c" stroke-width="0.12"><text transform="translate(26 118.12) scale(1.12 1)" text-anchor="end">1.5</text><text transform="translate(26 131.45) scale(1.12 1)" text-anchor="end">1.0</text><text transform="translate(26 144.77) scale(1.12 1)" text-anchor="end">0.5</text><text transform="translate(26 158.1) scale(1.12 1)" text-anchor="end">0.0</text><text transform="translate(26 171.43) scale(1.12 1)" text-anchor="end">−0.5</text><text transform="translate(26 184.75) scale(1.12 1)" text-anchor="end">−1.0</text><text transform="translate(26.3 193.1) scale(1.12 1)" text-anchor="middle">0</text><text transform="translate(51.18 193.1) scale(1.12 1)" text-anchor="middle">50</text><text transform="translate(76.07 193.1) scale(1.12 1)" text-anchor="middle">100</text><text transform="translate(100.95 193.1) scale(1.12 1)" text-anchor="middle">150</text><text transform="translate(125.83 193.1) scale(1.12 1)" text-anchor="middle">200</text><text transform="translate(150.72 193.1) scale(1.12 1)" text-anchor="middle">250</text><text transform="translate(175.6 193.1) scale(1.12 1)" text-anchor="middle">300</text><text transform="translate(101.05 197.6) scale(1.08 1)" text-anchor="middle">Time (s)</text><text transform="translate(11.7 150.5) rotate(-90)" text-anchor="middle">Amplitude (mV)</text></g>
<rect x="26.3" y="204.6" width="150.3" height="75.9" fill="none" stroke="#d5d5d5" stroke-width="1.2"/>
<g font-size="5.5" fill="#2c2c2c" stroke="#2c2c2c" stroke-width="0.12"><text transform="translate(26 210.1) scale(1.12 1)" text-anchor="end">1.5</text><text transform="translate(26 224.1) scale(1.12 1)" text-anchor="end">1.0</text><text transform="translate(26 238.1) scale(1.12 1)" text-anchor="end">0.5</text><text transform="translate(26 252.1) scale(1.12 1)" text-anchor="end">0.0</text><text transform="translate(26 266.1) scale(1.12 1)" text-anchor="end">−0.5</text><text transform="translate(26 280.1) scale(1.12 1)" text-anchor="end">−1.0</text><text transform="translate(26.3 285.3) scale(1.12 1)" text-anchor="middle">0</text><text transform="translate(51.25 285.3) scale(1.12 1)" text-anchor="middle">50</text><text transform="translate(76.2 285.3) scale(1.12 1)" text-anchor="middle">100</text><text transform="translate(101.15 285.3) scale(1.12 1)" text-anchor="middle">150</text><text transform="translate(126.1 285.3) scale(1.12 1)" text-anchor="middle">200</text><text transform="translate(151.05 285.3) scale(1.12 1)" text-anchor="middle">250</text><text transform="translate(176 285.3) scale(1.12 1)" text-anchor="middle">300</text><text transform="translate(101.45 289.8) scale(1.08 1)" text-anchor="middle">Time (s)</text><text transform="translate(11.3 242.55) rotate(-90)" text-anchor="middle">Amplitude (mV)</text></g>
<rect x="25.9" y="297.2" width="150.7" height="75.9" fill="none" stroke="#d5d5d5" stroke-width="1.2"/>
<g font-size="5.5" fill="#2c2c2c" stroke="#2c2c2c" stroke-width="0.12"><text transform="translate(25.6 306) scale(1.12 1)" text-anchor="end">1.5</text><text transform="translate(25.6 318.42) scale(1.12 1)" text-anchor="end">1.0</text><text transform="translate(25.6 330.84) scale(1.12 1)" text-anchor="end">0.5</text><text transform="translate(25.6 343.26) scale(1.12 1)" text-anchor="end">0.0</text><text transform="translate(25.6 355.68) scale(1.12 1)" text-anchor="end">−0.5</text><text transform="translate(25.6 368.1) scale(1.12 1)" text-anchor="end">−1.0</text><text transform="translate(25.9 377.9) scale(1.12 1)" text-anchor="middle">0</text><text transform="translate(50.92 377.9) scale(1.12 1)" text-anchor="middle">50</text><text transform="translate(75.93 377.9) scale(1.12 1)" text-anchor="middle">100</text><text transform="translate(100.95 377.9) scale(1.12 1)" text-anchor="middle">150</text><text transform="translate(125.97 377.9) scale(1.12 1)" text-anchor="middle">200</text><text transform="translate(150.98 377.9) scale(1.12 1)" text-anchor="middle">250</text><text transform="translate(176 377.9) scale(1.12 1)" text-anchor="middle">300</text><text transform="translate(101.25 382.4) scale(1.08 1)" text-anchor="middle">Time (s)</text><text transform="translate(11.3 335.15) rotate(-90)" text-anchor="middle">Amplitude (mV)</text></g>
<rect x="24.3" y="390.4" width="152.7" height="76.8" fill="none" stroke="#d5d5d5" stroke-width="1.2"/>
<g font-size="5.5" fill="#2c2c2c" stroke="#2c2c2c" stroke-width="0.12"><text transform="translate(24 401.5) scale(1.12 1)" text-anchor="end">1.5</text><text transform="translate(24 413.18) scale(1.12 1)" text-anchor="end">1.0</text><text transform="translate(24 424.86) scale(1.12 1)" text-anchor="end">0.5</text><text transform="translate(24 436.54) scale(1.12 1)" text-anchor="end">0.0</text><text transform="translate(24 448.22) scale(1.12 1)" text-anchor="end">−0.5</text><text transform="translate(24 459.9) scale(1.12 1)" text-anchor="end">−1.0</text><text transform="translate(24.3 472) scale(1.12 1)" text-anchor="middle">0</text><text transform="translate(49.65 472) scale(1.12 1)" text-anchor="middle">50</text><text transform="translate(75 472) scale(1.12 1)" text-anchor="middle">100</text><text transform="translate(100.35 472) scale(1.12 1)" text-anchor="middle">150</text><text transform="translate(125.7 472) scale(1.12 1)" text-anchor="middle">200</text><text transform="translate(151.05 472) scale(1.12 1)" text-anchor="middle">250</text><text transform="translate(176.4 472) scale(1.12 1)" text-anchor="middle">300</text><text transform="translate(100.65 476.5) scale(1.08 1)" text-anchor="middle">Time (s)</text><text transform="translate(10.2 428.8) rotate(-90)" text-anchor="middle">Amplitude (mV)</text></g>
<path d="M200.8 26.7H356.2M200.8 42.48H356.2M200.8 58.25H356.2M200.8 74.03H356.2M232.34 11.4V90M263.18 11.4V90M294.02 11.4V90M324.86 11.4V90" stroke="#eeeeee" stroke-width="0.7" fill="none"/>
<path d="M205.2 114H357.2M205.2 128.6H357.2M205.2 143.2H357.2M205.2 157.8H357.2M205.2 172.4H357.2M205.2 187H357.2M235.14 113.1V189.6M264.48 113.1V189.6M293.82 113.1V189.6M323.16 113.1V189.6M352.5 113.1V189.6" stroke="#eeeeee" stroke-width="0.7" fill="none"/>
<path d="M205.4 208.6H356.6M205.4 222.24H356.6M205.4 235.88H356.6M205.4 249.52H356.6M205.4 263.16H356.6M205.4 276.8H356.6M235.42 205.2V281.5M265.44 205.2V281.5M295.46 205.2V281.5M325.48 205.2V281.5M355.5 205.2V281.5" stroke="#eeeeee" stroke-width="0.7" fill="none"/>
<path d="M202.3 304.1H357.4M202.3 317.18H357.4M202.3 330.26H357.4M202.3 343.34H357.4M202.3 356.42H357.4M202.3 369.5H357.4M203.4 297.7V375.8M233.48 297.7V375.8M263.56 297.7V375.8M293.64 297.7V375.8M323.72 297.7V375.8M353.8 297.7V375.8" stroke="#eeeeee" stroke-width="0.7" fill="none"/>
<path d="M201.4 397.6H357.4M201.4 410.78H357.4M201.4 423.96H357.4M201.4 437.14H357.4M201.4 450.32H357.4M201.4 463.5H357.4M231.7 390.7V469.3M261.4 390.7V469.3M291.1 390.7V469.3M320.8 390.7V469.3M350.5 390.7V469.3" stroke="#eeeeee" stroke-width="0.7" fill="none"/>
<path d="M206.1 23.1V79.5M219 22.8V79.5M232.1 24.3V79.5M245.2 23.1V79.5M257.8 23.6V79.5M270.7 22.8V79.5M283.9 23.1V79.5M296.4 24.3V79.5M309.3 23.6V79.5M321.8 24.3V79.5M334.5 24.3V79.5M346.1 23.8V79.5" stroke="#b2b2ff" stroke-width="1.7" fill="none"/>
<polyline points="201.3,57.02 202,57 202.7,57.64 203.4,57.4 204.1,57.24 204.8,57.78 205.5,58.24 206.2,58.19 206.9,57.65 207.6,57.72 208.3,57.48 209,57.08 209.7,56.56 210.4,57.42 211.1,58.01 211.8,57.62 212.5,57.96 213.2,58.36 213.9,58.34 214.6,57.62 215.3,56.82 216,56.99 216.7,57.46 217.4,56.94 218.1,57.09 218.8,57.89 219.5,58.14 220.2,57.89 220.9,57.59 221.6,57.99 222.3,57.62 223,56.98 223.7,56.85 224.4,57.61 225.1,57.81 225.8,57.51 226.5,58.09 227.2,58.6 227.9,58.28 228.6,57.43 229.3,57.04 230,57.3 230.7,57.17 231.4,56.76 232.1,57.59 232.8,58.16 233.5,58.35 234.2,57.68 234.9,58.05 235.6,58.12 236.3,57.12 237,56.63 237.7,57.3 238.4,57.64 239.1,57.84 239.8,57.49 240.5,57.89 241.2,58.49 241.9,57.98 242.6,57.14 243.3,57.18 244,57.38 244.7,57.25 245.4,57.11 246.1,57.55 246.8,58.09 247.5,57.72 248.2,57.55 248.9,58.22 249.6,57.72 250.3,57.12 251,56.82 251.7,57.2 252.4,57.69 253.1,57.18 253.8,57.74 254.5,58.15 255.2,58.25 255.9,57.45 256.6,57.27 257.3,57.82 258,57.44 258.7,56.72 259.4,57.37 260.1,57.8 260.8,57.98 261.5,57.93 262.2,58.04 262.9,58.01 263.6,57.89 264.3,56.79 265,56.95 265.7,57.62 266.4,57.26 267.1,57.18 267.8,57.72 268.5,58.23 269.2,58.06 269.9,57.39 270.6,57.68 271.3,57.55 272,57 272.7,57.03 273.4,57.45 274.1,58 274.8,57.96 275.5,57.62 276.2,58.06 276.9,58.36 277.6,57.52 278.3,56.86 279,57.17 279.7,57.53 280.4,57.33 281.1,57.25 281.8,58.41 282.5,58.51 283.2,57.83 283.9,57.61 284.6,57.64 285.3,57.22 286,57.04 286.7,56.85 287.4,57.77 288.1,57.67 288.8,57.77 289.5,58.03 290.2,58.29 290.9,57.76 291.6,57.31 292.3,56.99 293,57.32 293.7,57.21 294.4,57.19 295.1,57.72 295.8,58.18 296.5,58.27 297.2,57.55 297.9,57.65 298.6,57.76 299.3,57.15 300,56.55 300.7,57.1 301.4,57.63 302.1,57.58 302.8,57.45 303.5,58.18 304.2,58.55 304.9,57.89 305.6,57.31 306.3,57.55 307,57.42 307.7,56.75 308.4,56.88 309.1,57.69 309.8,58.4 310.5,57.93 311.2,58.06 311.9,57.86 312.6,57.78 313.3,56.93 314,57.05 314.7,57.38 315.4,57.78 316.1,57.15 316.8,57.86 317.5,58.55 318.2,58.34 318.9,57.59 319.6,57.54 320.3,57.73 321,57.35 321.7,56.74 322.4,57.47 323.1,58.25 323.8,58.14 324.5,57.71 325.2,58.22 325.9,58.33 326.6,57.47 327.3,56.95 328,57.14 328.7,57.54 329.4,57.33 330.1,57.17 330.8,58.19 331.5,58.66 332.2,58.05 332.9,57.61 333.6,57.63 334.3,57.63 335,56.93 335.7,56.87 336.4,57.81 337.1,57.76 337.8,57.85 338.5,57.63 339.2,58.35 339.9,57.99 340.6,57.06 341.3,57.13 342,57.4 342.7,57.39 343.4,57.31 344.1,57.46 344.8,58.07 345.5,58.11 346.2,57.77 346.9,57.55 347.6,57.65 348.3,57.47 349,56.83 349.7,57.12 350.4,57.97 351.1,57.65 351.8,57.72 352.5,57.97 353.2,58.33 353.9,57.88 354.6,57.33 355.3,57.48" stroke="#4848ff" stroke-width="1.5" fill="none" stroke-linejoin="round"/>
<text class="se" x="206.1" y="21.3" text-anchor="middle" font-size="6.7" fill="#262626" stroke="#262626" stroke-width="0.25">R</text>
<text class="se" x="203.38" y="53.77" text-anchor="middle" font-size="6.7" fill="#262626" stroke="#262626" stroke-width="0.25">P</text>
<text class="se" x="203.9" y="66.77" text-anchor="middle" font-size="6.7" fill="#262626" stroke="#262626" stroke-width="0.25">Q</text>
<text class="se" x="219" y="21" text-anchor="middle" font-size="6.7" fill="#262626" stroke="#262626" stroke-width="0.25">R</text>
<text class="se" x="216.75" y="54.02" text-anchor="middle" font-size="6.7" fill="#262626" stroke="#262626" stroke-width="0.25">P</text>
<text class="se" x="211.65" y="53.95" text-anchor="middle" font-size="6.7" fill="#262626" stroke="#262626" stroke-width="0.25">T</text>
<text class="se" x="216.54" y="66" text-anchor="middle" font-size="6.7" fill="#262626" stroke="#262626" stroke-width="0.25">Q</text>
<text class="se" x="232.1" y="22.5" text-anchor="middle" font-size="6.7" fill="#262626" stroke="#262626" stroke-width="0.25">R</text>
<text class="se" x="229.28" y="53.03" text-anchor="middle" font-size="6.7" fill="#262626" stroke="#262626" stroke-width="0.25">P</text>
<text class="se" x="224.21" y="54.65" text-anchor="middle" font-size="6.7" fill="#262626" stroke="#262626" stroke-width="0.25">T</text>
<text class="se" x="229.9" y="65.73" text-anchor="middle" font-size="6.7" fill="#262626" stroke="#262626" stroke-width="0.25">Q</text>
<text class="se" x="245.2" y="21.3" text-anchor="middle" font-size="6.7" fill="#262626" stroke="#262626" stroke-width="0.25">R</text>
<text class="se" x="242.94" y="54.56" text-anchor="middle" font-size="6.7" fill="#262626" stroke="#262626" stroke-width="0.25">P</text>
<text class="se" x="237.35" y="53.55" text-anchor="middle" font-size="6.7" fill="#262626" stroke="#262626" stroke-width="0.25">T</text>
<text class="se" x="242.63" y="66.85" text-anchor="middle" font-size="6.7" fill="#262626" stroke="#262626" stroke-width="0.25">Q</text>
<text class="se" x="257.8" y="21.8" text-anchor="middle" font-size="6.7" fill="#262626" stroke="#262626" stroke-width="0.25">R</text>
<text class="se" x="254.74" y="54.02" text-anchor="middle" font-size="6.7" fill="#262626" stroke="#262626" stroke-width="0.25">P</text>
<text class="se" x="250.07" y="54.02" text-anchor="middle" font-size="6.7" fill="#262626" stroke="#262626" stroke-width="0.25">T</text>
<text class="se" x="255.83" y="65.14" text-anchor="middle" font-size="6.7" fill="#262626" stroke="#262626" stroke-width="0.25">Q</text>
<text class="se" x="270.7" y="21" text-anchor="middle" font-size="6.7" fill="#262626" stroke="#262626" stroke-width="0.25">R</text>
<text class="se" x="267.74" y="53.51" text-anchor="middle" font-size="6.7" fill="#262626" stroke="#262626" stroke-width="0.25">P</text>
<text class="se" x="262.42" y="55.06" text-anchor="middle" font-size="6.7" fill="#262626" stroke="#262626" stroke-width="0.25">T</text>
<text class="se" x="268.29" y="65.38" text-anchor="middle" font-size="6.7" fill="#262626" stroke="#262626" stroke-width="0.25">Q</text>
<text class="se" x="283.9" y="21.3" text-anchor="middle" font-size="6.7" fill="#262626" stroke="#262626" stroke-width="0.25">R</text>
<text class="se" x="280.85" y="53.86" text-anchor="middle" font-size="6.7" fill="#262626" stroke="#262626" stroke-width="0.25">P</text>
<text class="se" x="276.05" y="54.66" text-anchor="middle" font-size="6.7" fill="#262626" stroke="#262626" stroke-width="0.25">T</text>
<text class="se" x="281.82" y="66.71" text-anchor="middle" font-size="6.7" fill="#262626" stroke="#262626" stroke-width="0.25">Q</text>
<text class="se" x="296.4" y="22.5" text-anchor="middle" font-size="6.7" fill="#262626" stroke="#262626" stroke-width="0.25">R</text>
<text class="se" x="294.26" y="53.97" text-anchor="middle" font-size="6.7" fill="#262626" stroke="#262626" stroke-width="0.25">P</text>
<text class="se" x="288.3" y="54.35" text-anchor="middle" font-size="6.7" fill="#262626" stroke="#262626" stroke-width="0.25">T</text>
<text class="se" x="293.94" y="65.12" text-anchor="middle" font-size="6.7" fill="#262626" stroke="#262626" stroke-width="0.25">Q</text>
<text class="se" x="309.3" y="21.8" text-anchor="middle" font-size="6.7" fill="#262626" stroke="#262626" stroke-width="0.25">R</text>
<text class="se" x="306.67" y="54.03" text-anchor="middle" font-size="6.7" fill="#262626" stroke="#262626" stroke-width="0.25">P</text>
<text class="se" x="301.18" y="53.94" text-anchor="middle" font-size="6.7" fill="#262626" stroke="#262626" stroke-width="0.25">T</text>
<text class="se" x="306.98" y="66.49" text-anchor="middle" font-size="6.7" fill="#262626" stroke="#262626" stroke-width="0.25">Q</text>
<text class="se" x="321.8" y="22.5" text-anchor="middle" font-size="6.7" fill="#262626" stroke="#262626" stroke-width="0.25">R</text>
<text class="se" x="319.22" y="53.83" text-anchor="middle" font-size="6.7" fill="#262626" stroke="#262626" stroke-width="0.25">P</text>
<text class="se" x="314.26" y="54.19" text-anchor="middle" font-size="6.7" fill="#262626" stroke="#262626" stroke-width="0.25">T</text>
<text class="se" x="319.83" y="66.91" text-anchor="middle" font-size="6.7" fill="#262626" stroke="#262626" stroke-width="0.25">Q</text>
<text class="se" x="334.5" y="22.5" text-anchor="middle" font-size="6.7" fill="#262626" stroke="#262626" stroke-width="0.25">R</text>
<text class="se" x="331.49" y="54.47" text-anchor="middle" font-size="6.7" fill="#262626" stroke="#262626" stroke-width="0.25">P</text>
<text class="se" x="326.92" y="53.66" text-anchor="middle" font-size="6.7" fill="#262626" stroke="#262626" stroke-width="0.25">T</text>
<text class="se" x="332.26" y="66.35" text-anchor="middle" font-size="6.7" fill="#262626" stroke="#262626" stroke-width="0.25">Q</text>
<text class="se" x="346.1" y="22" text-anchor="middle" font-size="6.7" fill="#262626" stroke="#262626" stroke-width="0.25">R</text>
<text class="se" x="343.91" y="53.35" text-anchor="middle" font-size="6.7" fill="#262626" stroke="#262626" stroke-width="0.25">P</text>
<text class="se" x="338.37" y="55.16" text-anchor="middle" font-size="6.7" fill="#262626" stroke="#262626" stroke-width="0.25">T</text>
<text class="se" x="344.14" y="66.99" text-anchor="middle" font-size="6.7" fill="#262626" stroke="#262626" stroke-width="0.25">Q</text>
<text class="se" x="219" y="83.8" text-anchor="middle" font-size="6.7" fill="#262626" stroke="#262626" stroke-width="0.25">S</text>
<text class="se" x="237.7" y="83.5" text-anchor="middle" font-size="6.7" fill="#262626" stroke="#262626" stroke-width="0.25">S</text>
<text class="se" x="257" y="83.8" text-anchor="middle" font-size="6.7" fill="#262626" stroke="#262626" stroke-width="0.25">S</text>
<text class="se" x="276" y="83.5" text-anchor="middle" font-size="6.7" fill="#262626" stroke="#262626" stroke-width="0.25">S</text>
<text class="se" x="295" y="83.8" text-anchor="middle" font-size="6.7" fill="#262626" stroke="#262626" stroke-width="0.25">S</text>
<text class="se" x="314" y="83.2" text-anchor="middle" font-size="6.7" fill="#262626" stroke="#262626" stroke-width="0.25">S</text>
<text class="se" x="333.5" y="84" text-anchor="middle" font-size="6.7" fill="#262626" stroke="#262626" stroke-width="0.25">S</text>
<text class="se" x="352.5" y="84.5" text-anchor="middle" font-size="6.7" fill="#262626" stroke="#262626" stroke-width="0.25">S</text>
<path d="M208 136.9V173.5M215.3 136.9V175.1M223.2 136.9V176.7M230.2 136.9V174.3M238.2 140.4V175.9M245.1 132.8V173.5M252.3 137.5V175.1M259.4 137.5V176.7M267.3 135.2V174.3M274 139.8V175.9M282.4 137.6V173.5M288.4 130.2V175.1M295.8 138.3V176.7M303.9 138.3V174.3M310.9 140.7V175.9M319.5 138.3V173.5M326.7 136V175.1M334 137.2V176.7M341.9 138.9V174.3M349.8 138.9V175.9M211.3 145V165M218.6 148V164M226.5 147V163M233.5 146V162M241.5 145V165M248.4 148V164M255.6 147V163M262.7 146V162M270.6 145V165M277.3 148V164M285.7 147V163M291.7 146V162M299.1 145V165M307.2 148V164M314.2 147V163M322.8 146V162M330 145V165M337.3 148V164M345.2 147V163M353.1 146V162M357 137V172" stroke="#b2b2ff" stroke-width="1.7" fill="none"/>
<polyline points="205.7,157.89 206.4,157.22 207.1,157.53 207.8,157.8 208.5,158.92 209.2,159.23 209.9,157.54 210.6,156.38 211.3,154.63 212,154.84 212.7,156.78 213.4,157.61 214.1,156.36 214.8,156.64 215.5,158.75 216.2,161.02 216.9,157.95 217.6,156.44 218.3,155.28 219,155.3 219.7,155.11 220.4,156.32 221.1,157.66 221.8,156.57 222.5,155.98 223.2,158.4 223.9,161.22 224.6,159.9 225.3,157.37 226,155.87 226.7,154.79 227.4,154.84 228.1,154.96 228.8,156.26 229.5,157.46 230.2,157.93 230.9,160.29 231.6,159.84 232.3,157.82 233,155.72 233.7,153.91 234.4,154.96 235.1,156.4 235.8,156.16 236.5,156.06 237.2,156.89 237.9,158.69 238.6,160.54 239.3,161.3 240,159.23 240.7,156.39 241.4,153.75 242.1,153.6 242.8,155.41 243.5,156.13 244.2,156.27 244.9,157.75 245.6,161.22 246.3,161.7 247,157.87 247.7,155.14 248.4,154.88 249.1,154.17 249.8,154.57 250.5,155.76 251.2,157.38 251.9,157.94 252.6,159.83 253.3,161.13 254,159.78 254.7,156.14 255.4,153.92 256.1,153.32 256.8,155.03 257.5,155.78 258.2,156.39 258.9,157.46 259.6,160.37 260.3,161.3 261,158.91 261.7,156.75 262.4,155.35 263.1,153.41 263.8,154.28 264.5,155.75 265.2,157.62 265.9,157.07 266.6,157.38 267.3,160.05 268,162.31 268.7,159.44 269.4,156.2 270.1,154.95 270.8,153.51 271.5,153.39 272.2,154.98 272.9,157.23 273.6,158.76 274.3,160.4 275,161.68 275.7,159.38 276.4,155.7 277.1,153.16 277.8,153.41 278.5,155.43 279.2,156.52 279.9,156.57 280.6,157.85 281.3,158.82 282,158.88 282.7,159.43 283.4,161.11 284.1,158.81 284.8,154.79 285.5,152.8 286.2,154.05 286.9,155.81 287.6,157.56 288.3,158.56 289,161.59 289.7,161.22 290.4,156.74 291.1,153.84 291.8,153.26 292.5,154.49 293.2,155.49 293.9,156.3 294.6,158.53 295.3,158.98 296,159.61 296.7,160.83 297.4,159.56 298.1,156.08 298.8,153.36 299.5,153.28 300.2,155.55 300.9,157.16 301.6,157.26 302.3,158 303,159.1 303.7,159.21 304.4,159.84 305.1,159.52 305.8,157.2 306.5,154.93 307.2,153.18 307.9,153.95 308.6,157.06 309.3,158.16 310,157.87 310.7,158.93 311.4,161.15 312.1,159.92 312.8,156.46 313.5,154.47 314.2,153.91 314.9,154.32 315.6,155.65 316.3,158.18 317,158.82 317.7,157.77 318.4,157 319.1,157.28 319.8,159.49 320.5,160.01 321.2,157.44 321.9,155.99 322.6,155.23 323.3,154.49 324,155.82 324.7,157.14 325.4,157.32 326.1,156.61 326.8,158.05 327.5,160.77 328.2,159.4 328.9,156.47 329.6,154.73 330.3,154.89 331,155.98 331.7,156.23 332.4,156.58 333.1,157.6 333.8,157.58 334.5,158.89 335.2,159.71 335.9,158.58 336.6,155.59 337.3,154.2 338,154.86 338.7,156.5 339.4,156.81 340.1,156.04 340.8,157.05 341.5,157.78 342.2,159.49 342.9,160.12 343.6,159.05 344.3,157.26 345,155.14 345.7,153.77 346.4,155.4 347.1,156.93 347.8,156.58 348.5,156.05 349.2,157.65 349.9,159.93 350.6,161.08 351.3,159.75 352,157.61 352.7,155.77 353.4,153.55 354.1,154.12 354.8,155.87 355.5,157.08 356.2,156.55" stroke="#5252ff" stroke-width="1.5" fill="none" stroke-linejoin="round"/>
<text class="se" x="208" y="135.1" text-anchor="middle" font-size="6.7" fill="#262626" stroke="#262626" stroke-width="0.25">R</text>
<text class="se" x="210.4" y="150.52" text-anchor="middle" font-size="6.7" fill="#262626" stroke="#262626" stroke-width="0.25">P</text>
<text class="se" x="209.2" y="174.89" text-anchor="middle" font-size="6.7" fill="#262626" stroke="#262626" stroke-width="0.25">S</text>
<text class="se" x="215.3" y="135.1" text-anchor="middle" font-size="6.7" fill="#262626" stroke="#262626" stroke-width="0.25">R</text>
<text class="se" x="218" y="150.37" text-anchor="middle" font-size="6.7" fill="#262626" stroke="#262626" stroke-width="0.25">P</text>
<text class="se" x="213.44" y="152" text-anchor="middle" font-size="6.7" fill="#262626" stroke="#262626" stroke-width="0.25">T</text>
<text class="se" x="213.61" y="168.75" text-anchor="middle" font-size="6.7" fill="#262626" stroke="#262626" stroke-width="0.25">Q</text>
<text class="se" x="217.02" y="175.44" text-anchor="middle" font-size="6.7" fill="#262626" stroke="#262626" stroke-width="0.25">S</text>
<text class="se" x="223.2" y="135.1" text-anchor="middle" font-size="6.7" fill="#262626" stroke="#262626" stroke-width="0.25">R</text>
<text class="se" x="225.23" y="151.08" text-anchor="middle" font-size="6.7" fill="#262626" stroke="#262626" stroke-width="0.25">P</text>
<text class="se" x="221.24" y="152.02" text-anchor="middle" font-size="6.7" fill="#262626" stroke="#262626" stroke-width="0.25">T</text>
<text class="se" x="221.83" y="167.82" text-anchor="middle" font-size="6.7" fill="#262626" stroke="#262626" stroke-width="0.25">Q</text>
<text class="se" x="224.69" y="175.33" text-anchor="middle" font-size="6.7" fill="#262626" stroke="#262626" stroke-width="0.25">S</text>
<text class="se" x="230.2" y="135.1" text-anchor="middle" font-size="6.7" fill="#262626" stroke="#262626" stroke-width="0.25">R</text>
<text class="se" x="232.51" y="150.56" text-anchor="middle" font-size="6.7" fill="#262626" stroke="#262626" stroke-width="0.25">P</text>
<text class="se" x="227.78" y="151.6" text-anchor="middle" font-size="6.7" fill="#262626" stroke="#262626" stroke-width="0.25">T</text>
<text class="se" x="228.85" y="167.34" text-anchor="middle" font-size="6.7" fill="#262626" stroke="#262626" stroke-width="0.25">Q</text>
<text class="se" x="231.36" y="175.31" text-anchor="middle" font-size="6.7" fill="#262626" stroke="#262626" stroke-width="0.25">S</text>
<text class="se" x="238.2" y="138.6" text-anchor="middle" font-size="6.7" fill="#262626" stroke="#262626" stroke-width="0.25">R</text>
<text class="se" x="241.07" y="150.85" text-anchor="middle" font-size="6.7" fill="#262626" stroke="#262626" stroke-width="0.25">P</text>
<text class="se" x="235.45" y="152.47" text-anchor="middle" font-size="6.7" fill="#262626" stroke="#262626" stroke-width="0.25">T</text>
<text class="se" x="236.9" y="168.64" text-anchor="middle" font-size="6.7" fill="#262626" stroke="#262626" stroke-width="0.25">Q</text>
<text class="se" x="239.49" y="176.27" text-anchor="middle" font-size="6.7" fill="#262626" stroke="#262626" stroke-width="0.25">S</text>
<text class="se" x="245.1" y="131" text-anchor="middle" font-size="6.7" fill="#262626" stroke="#262626" stroke-width="0.25">R</text>
<text class="se" x="247.31" y="150.07" text-anchor="middle" font-size="6.7" fill="#262626" stroke="#262626" stroke-width="0.25">P</text>
<text class="se" x="243.17" y="152.47" text-anchor="middle" font-size="6.7" fill="#262626" stroke="#262626" stroke-width="0.25">T</text>
<text class="se" x="243.27" y="168.76" text-anchor="middle" font-size="6.7" fill="#262626" stroke="#262626" stroke-width="0.25">Q</text>
<text class="se" x="246.12" y="175.42" text-anchor="middle" font-size="6.7" fill="#262626" stroke="#262626" stroke-width="0.25">S</text>
<text class="se" x="252.3" y="135.7" text-anchor="middle" font-size="6.7" fill="#262626" stroke="#262626" stroke-width="0.25">R</text>
<text class="se" x="254.21" y="150.14" text-anchor="middle" font-size="6.7" fill="#262626" stroke="#262626" stroke-width="0.25">P</text>
<text class="se" x="249.66" y="152.23" text-anchor="middle" font-size="6.7" fill="#262626" stroke="#262626" stroke-width="0.25">T</text>
<text class="se" x="250.54" y="167.38" text-anchor="middle" font-size="6.7" fill="#262626" stroke="#262626" stroke-width="0.25">Q</text>
<text class="se" x="253.45" y="175.42" text-anchor="middle" font-size="6.7" fill="#262626" stroke="#262626" stroke-width="0.25">S</text>
<text class="se" x="259.4" y="135.7" text-anchor="middle" font-size="6.7" fill="#262626" stroke="#262626" stroke-width="0.25">R</text>
<text class="se" x="262.16" y="151.01" text-anchor="middle" font-size="6.7" fill="#262626" stroke="#262626" stroke-width="0.25">P</text>
<text class="se" x="256.7" y="152.17" text-anchor="middle" font-size="6.7" fill="#262626" stroke="#262626" stroke-width="0.25">T</text>
<text class="se" x="257.83" y="167.9" text-anchor="middle" font-size="6.7" fill="#262626" stroke="#262626" stroke-width="0.25">Q</text>
<text class="se" x="260.82" y="176.1" text-anchor="middle" font-size="6.7" fill="#262626" stroke="#262626" stroke-width="0.25">S</text>
<text class="se" x="267.3" y="133.4" text-anchor="middle" font-size="6.7" fill="#262626" stroke="#262626" stroke-width="0.25">R</text>
<text class="se" x="270" y="150.81" text-anchor="middle" font-size="6.7" fill="#262626" stroke="#262626" stroke-width="0.25">P</text>
<text class="se" x="265.14" y="151.73" text-anchor="middle" font-size="6.7" fill="#262626" stroke="#262626" stroke-width="0.25">T</text>
<text class="se" x="265.81" y="167.78" text-anchor="middle" font-size="6.7" fill="#262626" stroke="#262626" stroke-width="0.25">Q</text>
<text class="se" x="268.63" y="175.83" text-anchor="middle" font-size="6.7" fill="#262626" stroke="#262626" stroke-width="0.25">S</text>
<text class="se" x="274" y="138" text-anchor="middle" font-size="6.7" fill="#262626" stroke="#262626" stroke-width="0.25">R</text>
<text class="se" x="276.62" y="150.36" text-anchor="middle" font-size="6.7" fill="#262626" stroke="#262626" stroke-width="0.25">P</text>
<text class="se" x="272.12" y="151.78" text-anchor="middle" font-size="6.7" fill="#262626" stroke="#262626" stroke-width="0.25">T</text>
<text class="se" x="272.68" y="168.38" text-anchor="middle" font-size="6.7" fill="#262626" stroke="#262626" stroke-width="0.25">Q</text>
<text class="se" x="275.77" y="176.16" text-anchor="middle" font-size="6.7" fill="#262626" stroke="#262626" stroke-width="0.25">S</text>
<text class="se" x="282.4" y="135.8" text-anchor="middle" font-size="6.7" fill="#262626" stroke="#262626" stroke-width="0.25">R</text>
<text class="se" x="284.73" y="150.61" text-anchor="middle" font-size="6.7" fill="#262626" stroke="#262626" stroke-width="0.25">P</text>
<text class="se" x="280.21" y="152.31" text-anchor="middle" font-size="6.7" fill="#262626" stroke="#262626" stroke-width="0.25">T</text>
<text class="se" x="281.07" y="167.26" text-anchor="middle" font-size="6.7" fill="#262626" stroke="#262626" stroke-width="0.25">Q</text>
<text class="se" x="283.45" y="175.02" text-anchor="middle" font-size="6.7" fill="#262626" stroke="#262626" stroke-width="0.25">S</text>
<text class="se" x="288.4" y="128.4" text-anchor="middle" font-size="6.7" fill="#262626" stroke="#262626" stroke-width="0.25">R</text>
<text class="se" x="290.38" y="149.91" text-anchor="middle" font-size="6.7" fill="#262626" stroke="#262626" stroke-width="0.25">P</text>
<text class="se" x="285.61" y="151.3" text-anchor="middle" font-size="6.7" fill="#262626" stroke="#262626" stroke-width="0.25">T</text>
<text class="se" x="286.49" y="168.37" text-anchor="middle" font-size="6.7" fill="#262626" stroke="#262626" stroke-width="0.25">Q</text>
<text class="se" x="289.89" y="176.73" text-anchor="middle" font-size="6.7" fill="#262626" stroke="#262626" stroke-width="0.25">S</text>
<text class="se" x="295.8" y="136.5" text-anchor="middle" font-size="6.7" fill="#262626" stroke="#262626" stroke-width="0.25">R</text>
<text class="se" x="298.66" y="151.29" text-anchor="middle" font-size="6.7" fill="#262626" stroke="#262626" stroke-width="0.25">P</text>
<text class="se" x="293.95" y="150.86" text-anchor="middle" font-size="6.7" fill="#262626" stroke="#262626" stroke-width="0.25">T</text>
<text class="se" x="293.98" y="168.85" text-anchor="middle" font-size="6.7" fill="#262626" stroke="#262626" stroke-width="0.25">Q</text>
<text class="se" x="297.18" y="175.21" text-anchor="middle" font-size="6.7" fill="#262626" stroke="#262626" stroke-width="0.25">S</text>
<text class="se" x="303.9" y="136.5" text-anchor="middle" font-size="6.7" fill="#262626" stroke="#262626" stroke-width="0.25">R</text>
<text class="se" x="306.56" y="150.65" text-anchor="middle" font-size="6.7" fill="#262626" stroke="#262626" stroke-width="0.25">P</text>
<text class="se" x="301.64" y="151.43" text-anchor="middle" font-size="6.7" fill="#262626" stroke="#262626" stroke-width="0.25">T</text>
<text class="se" x="302.09" y="167.17" text-anchor="middle" font-size="6.7" fill="#262626" stroke="#262626" stroke-width="0.25">Q</text>
<text class="se" x="305.39" y="176.71" text-anchor="middle" font-size="6.7" fill="#262626" stroke="#262626" stroke-width="0.25">S</text>
<text class="se" x="310.9" y="138.9" text-anchor="middle" font-size="6.7" fill="#262626" stroke="#262626" stroke-width="0.25">R</text>
<text class="se" x="313.79" y="151.33" text-anchor="middle" font-size="6.7" fill="#262626" stroke="#262626" stroke-width="0.25">P</text>
<text class="se" x="309.03" y="151.52" text-anchor="middle" font-size="6.7" fill="#262626" stroke="#262626" stroke-width="0.25">T</text>
<text class="se" x="309.14" y="168.85" text-anchor="middle" font-size="6.7" fill="#262626" stroke="#262626" stroke-width="0.25">Q</text>
<text class="se" x="312.38" y="176.14" text-anchor="middle" font-size="6.7" fill="#262626" stroke="#262626" stroke-width="0.25">S</text>
<text class="se" x="319.5" y="136.5" text-anchor="middle" font-size="6.7" fill="#262626" stroke="#262626" stroke-width="0.25">R</text>
<text class="se" x="321.41" y="150.26" text-anchor="middle" font-size="6.7" fill="#262626" stroke="#262626" stroke-width="0.25">P</text>
<text class="se" x="317.18" y="152.26" text-anchor="middle" font-size="6.7" fill="#262626" stroke="#262626" stroke-width="0.25">T</text>
<text class="se" x="318.16" y="168.51" text-anchor="middle" font-size="6.7" fill="#262626" stroke="#262626" stroke-width="0.25">Q</text>
<text class="se" x="320.77" y="175.56" text-anchor="middle" font-size="6.7" fill="#262626" stroke="#262626" stroke-width="0.25">S</text>
<text class="se" x="326.7" y="134.2" text-anchor="middle" font-size="6.7" fill="#262626" stroke="#262626" stroke-width="0.25">R</text>
<text class="se" x="329.46" y="151.78" text-anchor="middle" font-size="6.7" fill="#262626" stroke="#262626" stroke-width="0.25">P</text>
<text class="se" x="324.38" y="151.19" text-anchor="middle" font-size="6.7" fill="#262626" stroke="#262626" stroke-width="0.25">T</text>
<text class="se" x="325.2" y="168.07" text-anchor="middle" font-size="6.7" fill="#262626" stroke="#262626" stroke-width="0.25">Q</text>
<text class="se" x="327.99" y="175.26" text-anchor="middle" font-size="6.7" fill="#262626" stroke="#262626" stroke-width="0.25">S</text>
<text class="se" x="334" y="135.4" text-anchor="middle" font-size="6.7" fill="#262626" stroke="#262626" stroke-width="0.25">R</text>
<text class="se" x="336.29" y="151.02" text-anchor="middle" font-size="6.7" fill="#262626" stroke="#262626" stroke-width="0.25">P</text>
<text class="se" x="331.33" y="151.88" text-anchor="middle" font-size="6.7" fill="#262626" stroke="#262626" stroke-width="0.25">T</text>
<text class="se" x="332.76" y="168.49" text-anchor="middle" font-size="6.7" fill="#262626" stroke="#262626" stroke-width="0.25">Q</text>
<text class="se" x="335.2" y="175.64" text-anchor="middle" font-size="6.7" fill="#262626" stroke="#262626" stroke-width="0.25">S</text>
<text class="se" x="341.9" y="137.1" text-anchor="middle" font-size="6.7" fill="#262626" stroke="#262626" stroke-width="0.25">R</text>
<text class="se" x="343.9" y="151.27" text-anchor="middle" font-size="6.7" fill="#262626" stroke="#262626" stroke-width="0.25">P</text>
<text class="se" x="339.73" y="151.15" text-anchor="middle" font-size="6.7" fill="#262626" stroke="#262626" stroke-width="0.25">T</text>
<text class="se" x="340.34" y="168.19" text-anchor="middle" font-size="6.7" fill="#262626" stroke="#262626" stroke-width="0.25">Q</text>
<text class="se" x="343.36" y="175.56" text-anchor="middle" font-size="6.7" fill="#262626" stroke="#262626" stroke-width="0.25">S</text>
<text class="se" x="349.8" y="137.1" text-anchor="middle" font-size="6.7" fill="#262626" stroke="#262626" stroke-width="0.25">R</text>
<text class="se" x="352.01" y="150.51" text-anchor="middle" font-size="6.7" fill="#262626" stroke="#262626" stroke-width="0.25">P</text>
<text class="se" x="348" y="151.46" text-anchor="middle" font-size="6.7" fill="#262626" stroke="#262626" stroke-width="0.25">T</text>
<text class="se" x="348.2" y="167.92" text-anchor="middle" font-size="6.7" fill="#262626" stroke="#262626" stroke-width="0.25">Q</text>
<text class="se" x="350.94" y="175.6" text-anchor="middle" font-size="6.7" fill="#262626" stroke="#262626" stroke-width="0.25">S</text>
<path d="M213.4 231.9V260.5M222.3 232.5V260.5M230.9 234.2V260.5M239.5 231.3V260.5M248.2 231.3V260.5M256.7 231.3V260.5M265.5 226.6V260.5M274.5 229.6V260.5M282.7 231.9V260.5M291.2 232.3V260.5M300.5 231.3V260.5M309.3 231.3V260.5M318 232.3V260.5M326.8 233.3V260.5M335.5 231.3V260.5M344.3 231.3V260.5M353.1 231.3V260.5M216 240V255M233.5 240V255M250.8 240V255M268.1 240V255M285.3 240V255M303.1 240V255M320.6 240V255M338.1 240V255M355.7 240V255" stroke="#b2b2ff" stroke-width="1.7" fill="none"/>
<polyline points="205.9,247.86 206.6,248.43 207.3,248.26 208,247.9 208.7,247.96 209.4,248.94 210.1,248.99 210.8,248.55 211.5,248.93 212.2,248.81 212.9,248.41 213.6,247.41 214.3,247.68 215,248.42 215.7,248.64 216.4,248.39 217.1,248.7 217.8,249.38 218.5,248.73 219.2,248.43 219.9,248.47 220.6,248.58 221.3,248.03 222,247.79 222.7,248.75 223.4,249.33 224.1,248.75 224.8,248.91 225.5,249.09 226.2,249.15 226.9,248.09 227.6,247.57 228.3,248.04 229,248.37 229.7,248.03 230.4,248.2 231.1,249.49 231.8,249.58 232.5,248.93 233.2,248.43 233.9,248.59 234.6,248.38 235.3,247.35 236,247.95 236.7,248.73 237.4,248.78 238.1,248.48 238.8,248.93 239.5,249.16 240.2,248.71 240.9,247.89 241.6,247.79 242.3,248.09 243,248.15 243.7,247.84 244.4,248.57 245.1,249.27 245.8,249.03 246.5,248.24 247.2,248.69 247.9,248.91 248.6,247.84 249.3,247.63 250,248.43 250.7,248.56 251.4,248.46 252.1,248.83 252.8,249.44 253.5,249.38 254.2,248.19 254.9,247.78 255.6,248.38 256.3,248.5 257,248.04 257.7,247.91 258.4,249.27 259.1,249.29 259.8,248.93 260.5,248.39 261.2,249.15 261.9,248.53 262.6,247.76 263.3,247.49 264,248.52 264.7,248.71 265.4,248.49 266.1,248.78 266.8,249.6 267.5,248.96 268.2,248.04 268.9,247.86 269.6,248.46 270.3,247.78 271,247.53 271.7,248.13 272.4,249.32 273.1,249.12 273.8,248.69 274.5,248.61 275.2,248.93 275.9,248.06 276.6,247.28 277.3,247.69 278,248.83 278.7,248.14 279.4,248.3 280.1,249.05 280.8,249.53 281.5,248.47 282.2,248.13 282.9,248.28 283.6,248.51 284.3,247.41 285,247.68 285.7,248.72 286.4,249.44 287.1,248.8 287.8,248.75 288.5,249.27 289.2,248.69 289.9,247.57 290.6,247.68 291.3,248.51 292,248.51 292.7,247.98 293.4,248.74 294.1,249.65 294.8,249.11 295.5,248.53 296.2,248.28 296.9,248.4 297.6,247.92 298.3,247.34 299,247.97 299.7,248.63 300.4,248.84 301.1,248.4 301.8,249.21 302.5,249.34 303.2,248.19 303.9,247.89 304.6,247.79 305.3,248.33 306,248.1 306.7,247.99 307.4,248.84 308.1,249.43 308.8,248.71 309.5,248.68 310.2,248.43 310.9,248.71 311.6,247.55 312.3,247.46 313,248.32 313.7,248.57 314.4,248.38 315.1,248.67 315.8,249.31 316.5,249.36 317.2,248.47 317.9,247.58 318.6,248.27 319.3,247.96 320,248 320.7,248.19 321.4,249.47 322.1,249.3 322.8,248.46 323.5,248.37 324.2,248.71 324.9,248.48 325.6,247.31 326.3,247.83 327,248.51 327.7,248.51 328.4,248.64 329.1,248.87 329.8,249.61 330.5,248.93 331.2,248.3 331.9,248.16 332.6,248.59 333.3,247.84 334,247.81 334.7,248.71 335.4,249.5 336.1,249.19 336.8,248.43 337.5,248.75 338.2,248.86 338.9,248.11 339.6,247.57 340.3,248.04 341,248.82 341.7,248.19 342.4,248.31 343.1,249.09 343.8,249.08 344.5,248.65 345.2,247.92 345.9,248.55 346.6,248.4 347.3,247.91 348,248.15 348.7,248.87 349.4,249.18 350.1,248.91 350.8,249 351.5,249.06 352.2,248.74 352.9,247.46 353.6,247.68 354.3,248.66 355,248.28 355.7,248.02" stroke="#4646ff" stroke-width="1.5" fill="none" stroke-linejoin="round"/>
<text class="se" x="213.4" y="230.1" text-anchor="middle" font-size="6.7" fill="#262626" stroke="#262626" stroke-width="0.25">R</text>
<text class="se" x="210.88" y="245.2" text-anchor="middle" font-size="6.7" fill="#262626" stroke="#262626" stroke-width="0.25">P</text>
<text class="se" x="215.5" y="243.56" text-anchor="middle" font-size="6.7" fill="#262626" stroke="#262626" stroke-width="0.25">T</text>
<text class="se" x="211.71" y="264.46" text-anchor="middle" font-size="6.7" fill="#262626" stroke="#262626" stroke-width="0.25">Q</text>
<text class="se" x="215.35" y="260.69" text-anchor="middle" font-size="6.7" fill="#262626" stroke="#262626" stroke-width="0.25">S</text>
<text class="se" x="222.3" y="230.7" text-anchor="middle" font-size="6.7" fill="#262626" stroke="#262626" stroke-width="0.25">R</text>
<text class="se" x="219.85" y="246.01" text-anchor="middle" font-size="6.7" fill="#262626" stroke="#262626" stroke-width="0.25">P</text>
<text class="se" x="224.82" y="245.49" text-anchor="middle" font-size="6.7" fill="#262626" stroke="#262626" stroke-width="0.25">T</text>
<text class="se" x="221.01" y="264.77" text-anchor="middle" font-size="6.7" fill="#262626" stroke="#262626" stroke-width="0.25">Q</text>
<text class="se" x="223.71" y="261.12" text-anchor="middle" font-size="6.7" fill="#262626" stroke="#262626" stroke-width="0.25">S</text>
<text class="se" x="230.9" y="232.4" text-anchor="middle" font-size="6.7" fill="#262626" stroke="#262626" stroke-width="0.25">R</text>
<text class="se" x="228.5" y="245.37" text-anchor="middle" font-size="6.7" fill="#262626" stroke="#262626" stroke-width="0.25">P</text>
<text class="se" x="233.19" y="244.25" text-anchor="middle" font-size="6.7" fill="#262626" stroke="#262626" stroke-width="0.25">T</text>
<text class="se" x="229.38" y="264.18" text-anchor="middle" font-size="6.7" fill="#262626" stroke="#262626" stroke-width="0.25">Q</text>
<text class="se" x="232.56" y="260.27" text-anchor="middle" font-size="6.7" fill="#262626" stroke="#262626" stroke-width="0.25">S</text>
<text class="se" x="239.5" y="229.5" text-anchor="middle" font-size="6.7" fill="#262626" stroke="#262626" stroke-width="0.25">R</text>
<text class="se" x="237.02" y="244.66" text-anchor="middle" font-size="6.7" fill="#262626" stroke="#262626" stroke-width="0.25">P</text>
<text class="se" x="241.7" y="244.68" text-anchor="middle" font-size="6.7" fill="#262626" stroke="#262626" stroke-width="0.25">T</text>
<text class="se" x="237.85" y="265.57" text-anchor="middle" font-size="6.7" fill="#262626" stroke="#262626" stroke-width="0.25">Q</text>
<text class="se" x="241.1" y="261.24" text-anchor="middle" font-size="6.7" fill="#262626" stroke="#262626" stroke-width="0.25">S</text>
<text class="se" x="248.2" y="229.5" text-anchor="middle" font-size="6.7" fill="#262626" stroke="#262626" stroke-width="0.25">R</text>
<text class="se" x="245.73" y="244.73" text-anchor="middle" font-size="6.7" fill="#262626" stroke="#262626" stroke-width="0.25">P</text>
<text class="se" x="251.05" y="244.8" text-anchor="middle" font-size="6.7" fill="#262626" stroke="#262626" stroke-width="0.25">T</text>
<text class="se" x="246.64" y="265.72" text-anchor="middle" font-size="6.7" fill="#262626" stroke="#262626" stroke-width="0.25">Q</text>
<text class="se" x="249.42" y="261.92" text-anchor="middle" font-size="6.7" fill="#262626" stroke="#262626" stroke-width="0.25">S</text>
<text class="se" x="256.7" y="229.5" text-anchor="middle" font-size="6.7" fill="#262626" stroke="#262626" stroke-width="0.25">R</text>
<text class="se" x="253.54" y="245.98" text-anchor="middle" font-size="6.7" fill="#262626" stroke="#262626" stroke-width="0.25">P</text>
<text class="se" x="258.95" y="243.61" text-anchor="middle" font-size="6.7" fill="#262626" stroke="#262626" stroke-width="0.25">T</text>
<text class="se" x="255.2" y="265.65" text-anchor="middle" font-size="6.7" fill="#262626" stroke="#262626" stroke-width="0.25">Q</text>
<text class="se" x="258.11" y="261.17" text-anchor="middle" font-size="6.7" fill="#262626" stroke="#262626" stroke-width="0.25">S</text>
<text class="se" x="265.5" y="224.8" text-anchor="middle" font-size="6.7" fill="#262626" stroke="#262626" stroke-width="0.25">R</text>
<text class="se" x="262.81" y="244.79" text-anchor="middle" font-size="6.7" fill="#262626" stroke="#262626" stroke-width="0.25">P</text>
<text class="se" x="268.13" y="243.52" text-anchor="middle" font-size="6.7" fill="#262626" stroke="#262626" stroke-width="0.25">T</text>
<text class="se" x="263.96" y="265.32" text-anchor="middle" font-size="6.7" fill="#262626" stroke="#262626" stroke-width="0.25">Q</text>
<text class="se" x="266.97" y="260.64" text-anchor="middle" font-size="6.7" fill="#262626" stroke="#262626" stroke-width="0.25">S</text>
<text class="se" x="274.5" y="227.8" text-anchor="middle" font-size="6.7" fill="#262626" stroke="#262626" stroke-width="0.25">R</text>
<text class="se" x="271.25" y="245.7" text-anchor="middle" font-size="6.7" fill="#262626" stroke="#262626" stroke-width="0.25">P</text>
<text class="se" x="277.03" y="245.33" text-anchor="middle" font-size="6.7" fill="#262626" stroke="#262626" stroke-width="0.25">T</text>
<text class="se" x="273.19" y="264" text-anchor="middle" font-size="6.7" fill="#262626" stroke="#262626" stroke-width="0.25">Q</text>
<text class="se" x="276.43" y="262.06" text-anchor="middle" font-size="6.7" fill="#262626" stroke="#262626" stroke-width="0.25">S</text>
<text class="se" x="282.7" y="230.1" text-anchor="middle" font-size="6.7" fill="#262626" stroke="#262626" stroke-width="0.25">R</text>
<text class="se" x="280.22" y="245.96" text-anchor="middle" font-size="6.7" fill="#262626" stroke="#262626" stroke-width="0.25">P</text>
<text class="se" x="285.48" y="244.94" text-anchor="middle" font-size="6.7" fill="#262626" stroke="#262626" stroke-width="0.25">T</text>
<text class="se" x="281.33" y="264.98" text-anchor="middle" font-size="6.7" fill="#262626" stroke="#262626" stroke-width="0.25">Q</text>
<text class="se" x="284.11" y="260.47" text-anchor="middle" font-size="6.7" fill="#262626" stroke="#262626" stroke-width="0.25">S</text>
<text class="se" x="291.2" y="230.5" text-anchor="middle" font-size="6.7" fill="#262626" stroke="#262626" stroke-width="0.25">R</text>
<text class="se" x="288.63" y="245.49" text-anchor="middle" font-size="6.7" fill="#262626" stroke="#262626" stroke-width="0.25">P</text>
<text class="se" x="293.36" y="244.78" text-anchor="middle" font-size="6.7" fill="#262626" stroke="#262626" stroke-width="0.25">T</text>
<text class="se" x="289.79" y="264.82" text-anchor="middle" font-size="6.7" fill="#262626" stroke="#262626" stroke-width="0.25">Q</text>
<text class="se" x="293.02" y="261.95" text-anchor="middle" font-size="6.7" fill="#262626" stroke="#262626" stroke-width="0.25">S</text>
<text class="se" x="300.5" y="229.5" text-anchor="middle" font-size="6.7" fill="#262626" stroke="#262626" stroke-width="0.25">R</text>
<text class="se" x="297.58" y="245.93" text-anchor="middle" font-size="6.7" fill="#262626" stroke="#262626" stroke-width="0.25">P</text>
<text class="se" x="303.1" y="244.64" text-anchor="middle" font-size="6.7" fill="#262626" stroke="#262626" stroke-width="0.25">T</text>
<text class="se" x="298.93" y="265.67" text-anchor="middle" font-size="6.7" fill="#262626" stroke="#262626" stroke-width="0.25">Q</text>
<text class="se" x="302.06" y="262.1" text-anchor="middle" font-size="6.7" fill="#262626" stroke="#262626" stroke-width="0.25">S</text>
<text class="se" x="309.3" y="229.5" text-anchor="middle" font-size="6.7" fill="#262626" stroke="#262626" stroke-width="0.25">R</text>
<text class="se" x="306.34" y="245.64" text-anchor="middle" font-size="6.7" fill="#262626" stroke="#262626" stroke-width="0.25">P</text>
<text class="se" x="312.31" y="244.87" text-anchor="middle" font-size="6.7" fill="#262626" stroke="#262626" stroke-width="0.25">T</text>
<text class="se" x="307.7" y="263.96" text-anchor="middle" font-size="6.7" fill="#262626" stroke="#262626" stroke-width="0.25">Q</text>
<text class="se" x="310.88" y="261.03" text-anchor="middle" font-size="6.7" fill="#262626" stroke="#262626" stroke-width="0.25">S</text>
<text class="se" x="318" y="230.5" text-anchor="middle" font-size="6.7" fill="#262626" stroke="#262626" stroke-width="0.25">R</text>
<text class="se" x="315.51" y="245.87" text-anchor="middle" font-size="6.7" fill="#262626" stroke="#262626" stroke-width="0.25">P</text>
<text class="se" x="321.09" y="244.4" text-anchor="middle" font-size="6.7" fill="#262626" stroke="#262626" stroke-width="0.25">T</text>
<text class="se" x="316.43" y="264.93" text-anchor="middle" font-size="6.7" fill="#262626" stroke="#262626" stroke-width="0.25">Q</text>
<text class="se" x="319.8" y="260.36" text-anchor="middle" font-size="6.7" fill="#262626" stroke="#262626" stroke-width="0.25">S</text>
<text class="se" x="326.8" y="231.5" text-anchor="middle" font-size="6.7" fill="#262626" stroke="#262626" stroke-width="0.25">R</text>
<text class="se" x="323.72" y="244.59" text-anchor="middle" font-size="6.7" fill="#262626" stroke="#262626" stroke-width="0.25">P</text>
<text class="se" x="329.22" y="244.1" text-anchor="middle" font-size="6.7" fill="#262626" stroke="#262626" stroke-width="0.25">T</text>
<text class="se" x="325.67" y="264.22" text-anchor="middle" font-size="6.7" fill="#262626" stroke="#262626" stroke-width="0.25">Q</text>
<text class="se" x="328.75" y="260.79" text-anchor="middle" font-size="6.7" fill="#262626" stroke="#262626" stroke-width="0.25">S</text>
<text class="se" x="335.5" y="229.5" text-anchor="middle" font-size="6.7" fill="#262626" stroke="#262626" stroke-width="0.25">R</text>
<text class="se" x="332.4" y="246.25" text-anchor="middle" font-size="6.7" fill="#262626" stroke="#262626" stroke-width="0.25">P</text>
<text class="se" x="337.69" y="243.73" text-anchor="middle" font-size="6.7" fill="#262626" stroke="#262626" stroke-width="0.25">T</text>
<text class="se" x="333.7" y="263.93" text-anchor="middle" font-size="6.7" fill="#262626" stroke="#262626" stroke-width="0.25">Q</text>
<text class="se" x="337.01" y="260.62" text-anchor="middle" font-size="6.7" fill="#262626" stroke="#262626" stroke-width="0.25">S</text>
<text class="se" x="344.3" y="229.5" text-anchor="middle" font-size="6.7" fill="#262626" stroke="#262626" stroke-width="0.25">R</text>
<text class="se" x="341.16" y="244.33" text-anchor="middle" font-size="6.7" fill="#262626" stroke="#262626" stroke-width="0.25">P</text>
<text class="se" x="347.1" y="243.6" text-anchor="middle" font-size="6.7" fill="#262626" stroke="#262626" stroke-width="0.25">T</text>
<text class="se" x="342.59" y="264.93" text-anchor="middle" font-size="6.7" fill="#262626" stroke="#262626" stroke-width="0.25">Q</text>
<text class="se" x="346.21" y="261.52" text-anchor="middle" font-size="6.7" fill="#262626" stroke="#262626" stroke-width="0.25">S</text>
<text class="se" x="353.1" y="229.5" text-anchor="middle" font-size="6.7" fill="#262626" stroke="#262626" stroke-width="0.25">R</text>
<text class="se" x="350.51" y="245.7" text-anchor="middle" font-size="6.7" fill="#262626" stroke="#262626" stroke-width="0.25">P</text>
<text class="se" x="351.32" y="263.91" text-anchor="middle" font-size="6.7" fill="#262626" stroke="#262626" stroke-width="0.25">Q</text>
<text class="se" x="354.8" y="261.24" text-anchor="middle" font-size="6.7" fill="#262626" stroke="#262626" stroke-width="0.25">S</text>
<path d="M207.7 318.4V358.4M216.8 316.1V358.4M225.4 318.4V358.4M233.9 313.1V358.4M243 318.4V358.4M252 317.8V358.4M260.8 320.7V358.4M269.6 317.2V358.4M278.7 320.7V358.4M286.4 320.3V358.4M296.1 317.3V358.4M304.9 319.3V358.4M313.9 317.8V358.4M321.8 316.8V358.4M330.6 319.8V358.4M339.3 318.8V358.4M348.7 316.8V358.4M211.7 329V351M220.8 329V351M229.4 329V351M237.9 329V351M247 329V351M256 329V351M264.8 329V351M273.6 329V351M282.7 329V351M290.4 329V351M300.1 329V351M308.9 329V351M317.9 329V351M325.8 329V351M334.6 329V351M343.3 329V351M352.7 329V351" stroke="#b2b2ff" stroke-width="1.7" fill="none"/>
<polyline points="202.8,344.45 203.5,345.03 204.2,344.09 204.9,343.54 205.6,343.4 206.3,343.63 207,343.53 207.7,343.6 208.4,344.36 209.1,344.95 209.8,343.8 210.5,342.99 211.2,342.1 211.9,341.7 212.6,341.77 213.3,342.12 214,343.44 214.7,344.37 215.4,344.05 216.1,344.08 216.8,345.03 217.5,344.77 218.2,343.31 218.9,343.01 219.6,342.31 220.3,341.46 221,340.71 221.7,341.98 222.4,344.26 223.1,344.38 223.8,344.45 224.5,344.29 225.2,344.57 225.9,343.95 226.6,342.97 227.3,342.7 228,343.07 228.7,342.2 229.4,341.48 230.1,342.57 230.8,344.3 231.5,343.95 232.2,343.3 232.9,343.73 233.6,343.64 234.3,343.4 235,343.08 235.7,343.55 236.4,344.05 237.1,342.41 237.8,341.91 238.5,342.44 239.2,343.43 239.9,342.66 240.6,342.93 241.3,343.39 242,343.9 242.7,343.76 243.4,344.07 244.1,344.85 244.8,344.56 245.5,343.07 246.2,342.13 246.9,341.58 247.6,341.67 248.3,341.66 249,343.2 249.7,344.56 250.4,344.21 251.1,343.94 251.8,344.64 252.5,344.87 253.2,343.68 253.9,342.92 254.6,342.61 255.3,341.97 256,341.32 256.7,341.76 257.4,343.67 258.1,344.52 258.8,344.32 259.5,343.72 260.2,344.19 260.9,344.03 261.6,343.05 262.3,342.69 263,342.86 263.7,342.92 264.4,342.43 265.1,342.15 265.8,343.22 266.5,344.33 267.2,343.41 267.9,343.04 268.6,343.36 269.3,343.49 270,343.1 270.7,343.44 271.4,344.65 272.1,343.84 272.8,342.37 273.5,341.99 274.2,342.73 274.9,342.56 275.6,342.68 276.3,342.98 277,344.07 277.7,344.25 278.4,344.26 279.1,344.65 279.8,344.97 280.5,344.34 281.2,342.52 281.9,341.75 282.6,341.93 283.3,341.53 284,342.23 284.7,343.46 285.4,345.01 286.1,344.63 286.8,343.97 287.5,344.63 288.2,344.05 288.9,342.45 289.6,341.07 290.3,341.1 291,341.97 291.7,342.85 292.4,343.32 293.1,344.56 293.8,344.93 294.5,344.12 295.2,343.5 295.9,344.04 296.6,343.54 297.3,342.91 298,342.9 298.7,343.12 299.4,342.73 300.1,341.85 300.8,342.65 301.5,343.45 302.2,343.9 302.9,342.89 303.6,343.23 304.3,343.91 305,343.75 305.7,343.88 306.4,344.2 307.1,344.49 307.8,343.04 308.5,341.75 309.2,341.57 309.9,342.5 310.6,342.98 311.3,342.96 312,343.34 312.7,344.64 313.4,344.7 314.1,344.21 314.8,344.34 315.5,344.77 316.2,343.06 316.9,341.94 317.6,341.61 318.3,341.99 319,342.43 319.7,342.77 320.4,344.65 321.1,344.87 321.8,344.11 322.5,343.81 323.2,344.07 323.9,343.05 324.6,341.78 325.3,341.27 326,341.85 326.7,342.83 327.4,343.18 328.1,344.38 328.8,344.71 329.5,344.66 330.2,343.6 330.9,342.97 331.6,344.02 332.3,343.17 333,342.8 333.7,342.62 334.4,342.99 335.1,343.01 335.8,342.81 336.5,343.61 337.2,344.08 337.9,343.84 338.6,342.59 339.3,343.16 340,344.44 340.7,344.15 341.4,343.62 342.1,343.74 342.8,343.04 343.5,342.25 344.2,341.79 344.9,343.09 345.6,343.23 346.3,343.18 347,343.35 347.7,344.5 348.4,344.84 349.1,344.54 349.8,344.39 350.5,344.12 351.2,343.13 351.9,341.22 352.6,341.05 353.3,341.82 354,342.86 354.7,343.37 355.4,343.81 356.1,344.79 356.8,344.66" stroke="#4a4aff" stroke-width="1.5" fill="none" stroke-linejoin="round"/>
<text class="se" x="207.7" y="316.6" text-anchor="middle" font-size="6.7" fill="#262626" stroke="#262626" stroke-width="0.25">R</text>
<text class="se" x="205.26" y="340.92" text-anchor="middle" font-size="6.7" fill="#262626" stroke="#262626" stroke-width="0.25">P</text>
<text class="se" x="211.05" y="328.98" text-anchor="middle" font-size="6.7" fill="#262626" stroke="#262626" stroke-width="0.25">T</text>
<text class="se" x="206.99" y="360.72" text-anchor="middle" font-size="6.7" fill="#262626" stroke="#262626" stroke-width="0.25">Q</text>
<text class="se" x="209.52" y="356.55" text-anchor="middle" font-size="6.7" fill="#262626" stroke="#262626" stroke-width="0.25">S</text>
<text class="se" x="216.8" y="314.3" text-anchor="middle" font-size="6.7" fill="#262626" stroke="#262626" stroke-width="0.25">R</text>
<text class="se" x="214.79" y="340.5" text-anchor="middle" font-size="6.7" fill="#262626" stroke="#262626" stroke-width="0.25">P</text>
<text class="se" x="220.67" y="329.65" text-anchor="middle" font-size="6.7" fill="#262626" stroke="#262626" stroke-width="0.25">T</text>
<text class="se" x="215.58" y="361.09" text-anchor="middle" font-size="6.7" fill="#262626" stroke="#262626" stroke-width="0.25">Q</text>
<text class="se" x="219.1" y="356.61" text-anchor="middle" font-size="6.7" fill="#262626" stroke="#262626" stroke-width="0.25">S</text>
<text class="se" x="225.4" y="316.6" text-anchor="middle" font-size="6.7" fill="#262626" stroke="#262626" stroke-width="0.25">R</text>
<text class="se" x="222.88" y="339.95" text-anchor="middle" font-size="6.7" fill="#262626" stroke="#262626" stroke-width="0.25">P</text>
<text class="se" x="229.19" y="329.57" text-anchor="middle" font-size="6.7" fill="#262626" stroke="#262626" stroke-width="0.25">T</text>
<text class="se" x="224.48" y="360.55" text-anchor="middle" font-size="6.7" fill="#262626" stroke="#262626" stroke-width="0.25">Q</text>
<text class="se" x="227.8" y="355.9" text-anchor="middle" font-size="6.7" fill="#262626" stroke="#262626" stroke-width="0.25">S</text>
<text class="se" x="233.9" y="311.3" text-anchor="middle" font-size="6.7" fill="#262626" stroke="#262626" stroke-width="0.25">R</text>
<text class="se" x="231.7" y="340.86" text-anchor="middle" font-size="6.7" fill="#262626" stroke="#262626" stroke-width="0.25">P</text>
<text class="se" x="237.31" y="329.15" text-anchor="middle" font-size="6.7" fill="#262626" stroke="#262626" stroke-width="0.25">T</text>
<text class="se" x="233.01" y="359.87" text-anchor="middle" font-size="6.7" fill="#262626" stroke="#262626" stroke-width="0.25">Q</text>
<text class="se" x="236.39" y="355.75" text-anchor="middle" font-size="6.7" fill="#262626" stroke="#262626" stroke-width="0.25">S</text>
<text class="se" x="243" y="316.6" text-anchor="middle" font-size="6.7" fill="#262626" stroke="#262626" stroke-width="0.25">R</text>
<text class="se" x="241.2" y="340.27" text-anchor="middle" font-size="6.7" fill="#262626" stroke="#262626" stroke-width="0.25">P</text>
<text class="se" x="246.25" y="329.84" text-anchor="middle" font-size="6.7" fill="#262626" stroke="#262626" stroke-width="0.25">T</text>
<text class="se" x="242.15" y="360.57" text-anchor="middle" font-size="6.7" fill="#262626" stroke="#262626" stroke-width="0.25">Q</text>
<text class="se" x="245.31" y="355.94" text-anchor="middle" font-size="6.7" fill="#262626" stroke="#262626" stroke-width="0.25">S</text>
<text class="se" x="252" y="316" text-anchor="middle" font-size="6.7" fill="#262626" stroke="#262626" stroke-width="0.25">R</text>
<text class="se" x="250.26" y="339.55" text-anchor="middle" font-size="6.7" fill="#262626" stroke="#262626" stroke-width="0.25">P</text>
<text class="se" x="255.9" y="328.85" text-anchor="middle" font-size="6.7" fill="#262626" stroke="#262626" stroke-width="0.25">T</text>
<text class="se" x="251.01" y="359.73" text-anchor="middle" font-size="6.7" fill="#262626" stroke="#262626" stroke-width="0.25">Q</text>
<text class="se" x="253.91" y="356.38" text-anchor="middle" font-size="6.7" fill="#262626" stroke="#262626" stroke-width="0.25">S</text>
<text class="se" x="260.8" y="318.9" text-anchor="middle" font-size="6.7" fill="#262626" stroke="#262626" stroke-width="0.25">R</text>
<text class="se" x="259" y="339.82" text-anchor="middle" font-size="6.7" fill="#262626" stroke="#262626" stroke-width="0.25">P</text>
<text class="se" x="264.3" y="329.75" text-anchor="middle" font-size="6.7" fill="#262626" stroke="#262626" stroke-width="0.25">T</text>
<text class="se" x="259.88" y="360.3" text-anchor="middle" font-size="6.7" fill="#262626" stroke="#262626" stroke-width="0.25">Q</text>
<text class="se" x="262.88" y="356.91" text-anchor="middle" font-size="6.7" fill="#262626" stroke="#262626" stroke-width="0.25">S</text>
<text class="se" x="269.6" y="315.4" text-anchor="middle" font-size="6.7" fill="#262626" stroke="#262626" stroke-width="0.25">R</text>
<text class="se" x="267.46" y="339.9" text-anchor="middle" font-size="6.7" fill="#262626" stroke="#262626" stroke-width="0.25">P</text>
<text class="se" x="273.52" y="330.8" text-anchor="middle" font-size="6.7" fill="#262626" stroke="#262626" stroke-width="0.25">T</text>
<text class="se" x="268.55" y="359.63" text-anchor="middle" font-size="6.7" fill="#262626" stroke="#262626" stroke-width="0.25">Q</text>
<text class="se" x="271.64" y="357" text-anchor="middle" font-size="6.7" fill="#262626" stroke="#262626" stroke-width="0.25">S</text>
<text class="se" x="278.7" y="318.9" text-anchor="middle" font-size="6.7" fill="#262626" stroke="#262626" stroke-width="0.25">R</text>
<text class="se" x="276.17" y="339.6" text-anchor="middle" font-size="6.7" fill="#262626" stroke="#262626" stroke-width="0.25">P</text>
<text class="se" x="282.59" y="329.03" text-anchor="middle" font-size="6.7" fill="#262626" stroke="#262626" stroke-width="0.25">T</text>
<text class="se" x="277.98" y="360.05" text-anchor="middle" font-size="6.7" fill="#262626" stroke="#262626" stroke-width="0.25">Q</text>
<text class="se" x="280.81" y="356.39" text-anchor="middle" font-size="6.7" fill="#262626" stroke="#262626" stroke-width="0.25">S</text>
<text class="se" x="286.4" y="318.5" text-anchor="middle" font-size="6.7" fill="#262626" stroke="#262626" stroke-width="0.25">R</text>
<text class="se" x="283.81" y="340.75" text-anchor="middle" font-size="6.7" fill="#262626" stroke="#262626" stroke-width="0.25">P</text>
<text class="se" x="289.94" y="330.34" text-anchor="middle" font-size="6.7" fill="#262626" stroke="#262626" stroke-width="0.25">T</text>
<text class="se" x="285.61" y="359.75" text-anchor="middle" font-size="6.7" fill="#262626" stroke="#262626" stroke-width="0.25">Q</text>
<text class="se" x="288.86" y="356.84" text-anchor="middle" font-size="6.7" fill="#262626" stroke="#262626" stroke-width="0.25">S</text>
<text class="se" x="296.1" y="315.5" text-anchor="middle" font-size="6.7" fill="#262626" stroke="#262626" stroke-width="0.25">R</text>
<text class="se" x="293.64" y="340.38" text-anchor="middle" font-size="6.7" fill="#262626" stroke="#262626" stroke-width="0.25">P</text>
<text class="se" x="299.41" y="329.88" text-anchor="middle" font-size="6.7" fill="#262626" stroke="#262626" stroke-width="0.25">T</text>
<text class="se" x="295.3" y="360.35" text-anchor="middle" font-size="6.7" fill="#262626" stroke="#262626" stroke-width="0.25">Q</text>
<text class="se" x="298.33" y="355.46" text-anchor="middle" font-size="6.7" fill="#262626" stroke="#262626" stroke-width="0.25">S</text>
<text class="se" x="304.9" y="317.5" text-anchor="middle" font-size="6.7" fill="#262626" stroke="#262626" stroke-width="0.25">R</text>
<text class="se" x="303.06" y="340.45" text-anchor="middle" font-size="6.7" fill="#262626" stroke="#262626" stroke-width="0.25">P</text>
<text class="se" x="308.83" y="328.96" text-anchor="middle" font-size="6.7" fill="#262626" stroke="#262626" stroke-width="0.25">T</text>
<text class="se" x="304.1" y="359.78" text-anchor="middle" font-size="6.7" fill="#262626" stroke="#262626" stroke-width="0.25">Q</text>
<text class="se" x="307.15" y="355.66" text-anchor="middle" font-size="6.7" fill="#262626" stroke="#262626" stroke-width="0.25">S</text>
<text class="se" x="313.9" y="316" text-anchor="middle" font-size="6.7" fill="#262626" stroke="#262626" stroke-width="0.25">R</text>
<text class="se" x="312.1" y="339.41" text-anchor="middle" font-size="6.7" fill="#262626" stroke="#262626" stroke-width="0.25">P</text>
<text class="se" x="317.47" y="329.74" text-anchor="middle" font-size="6.7" fill="#262626" stroke="#262626" stroke-width="0.25">T</text>
<text class="se" x="312.81" y="359.73" text-anchor="middle" font-size="6.7" fill="#262626" stroke="#262626" stroke-width="0.25">Q</text>
<text class="se" x="316.23" y="357.14" text-anchor="middle" font-size="6.7" fill="#262626" stroke="#262626" stroke-width="0.25">S</text>
<text class="se" x="321.8" y="315" text-anchor="middle" font-size="6.7" fill="#262626" stroke="#262626" stroke-width="0.25">R</text>
<text class="se" x="319.46" y="341" text-anchor="middle" font-size="6.7" fill="#262626" stroke="#262626" stroke-width="0.25">P</text>
<text class="se" x="325.24" y="329.35" text-anchor="middle" font-size="6.7" fill="#262626" stroke="#262626" stroke-width="0.25">T</text>
<text class="se" x="320.76" y="361.55" text-anchor="middle" font-size="6.7" fill="#262626" stroke="#262626" stroke-width="0.25">Q</text>
<text class="se" x="324.22" y="356.47" text-anchor="middle" font-size="6.7" fill="#262626" stroke="#262626" stroke-width="0.25">S</text>
<text class="se" x="330.6" y="318" text-anchor="middle" font-size="6.7" fill="#262626" stroke="#262626" stroke-width="0.25">R</text>
<text class="se" x="327.94" y="340.1" text-anchor="middle" font-size="6.7" fill="#262626" stroke="#262626" stroke-width="0.25">P</text>
<text class="se" x="333.71" y="328.92" text-anchor="middle" font-size="6.7" fill="#262626" stroke="#262626" stroke-width="0.25">T</text>
<text class="se" x="329.5" y="360.09" text-anchor="middle" font-size="6.7" fill="#262626" stroke="#262626" stroke-width="0.25">Q</text>
<text class="se" x="332.48" y="356.22" text-anchor="middle" font-size="6.7" fill="#262626" stroke="#262626" stroke-width="0.25">S</text>
<text class="se" x="339.3" y="317" text-anchor="middle" font-size="6.7" fill="#262626" stroke="#262626" stroke-width="0.25">R</text>
<text class="se" x="337.38" y="341.05" text-anchor="middle" font-size="6.7" fill="#262626" stroke="#262626" stroke-width="0.25">P</text>
<text class="se" x="343.32" y="329.65" text-anchor="middle" font-size="6.7" fill="#262626" stroke="#262626" stroke-width="0.25">T</text>
<text class="se" x="338.04" y="361.53" text-anchor="middle" font-size="6.7" fill="#262626" stroke="#262626" stroke-width="0.25">Q</text>
<text class="se" x="341.44" y="355.89" text-anchor="middle" font-size="6.7" fill="#262626" stroke="#262626" stroke-width="0.25">S</text>
<text class="se" x="348.7" y="315" text-anchor="middle" font-size="6.7" fill="#262626" stroke="#262626" stroke-width="0.25">R</text>
<text class="se" x="346.82" y="340.32" text-anchor="middle" font-size="6.7" fill="#262626" stroke="#262626" stroke-width="0.25">P</text>
<text class="se" x="352.75" y="330.2" text-anchor="middle" font-size="6.7" fill="#262626" stroke="#262626" stroke-width="0.25">T</text>
<text class="se" x="348.06" y="359.91" text-anchor="middle" font-size="6.7" fill="#262626" stroke="#262626" stroke-width="0.25">Q</text>
<text class="se" x="351.25" y="356.28" text-anchor="middle" font-size="6.7" fill="#262626" stroke="#262626" stroke-width="0.25">S</text>
<path d="M216.2 408.3V452M233.3 408.3V452M249.4 409.3V452M267.2 410.8V452M283.9 410.3V452M301.9 409.3V452M317.4 408.8V452M333 408.8V452M348.3 408.3V452M220.4 432V437.5M237.5 432V437.5M253.6 432V437.5M271.4 432V437.5M288.1 432V437.5M306.1 432V437.5M321.6 432V437.5M337.2 432V437.5M352.5 432V437.5M203.5 432V437.5" stroke="#b2b2ff" stroke-width="1.7" fill="none"/>
<polyline points="201.9,437.31 202.6,437.19 203.3,437.07 204,436.58 204.7,436.87 205.4,436.82 206.1,436.96 206.8,436.89 207.5,437.26 208.2,437.54 208.9,437.14 209.6,436.92 210.3,437.08 211,436.95 211.7,436.64 212.4,436.54 213.1,437.03 213.8,437.27 214.5,437.15 215.2,437.02 215.9,437.43 216.6,437.28 217.3,436.81 218,436.69 218.7,436.85 219.4,436.79 220.1,436.76 220.8,436.87 221.5,437.32 222.2,437.46 222.9,437.12 223.6,437.01 224.3,437.22 225,437.04 225.7,436.6 226.4,436.81 227.1,436.92 227.8,437 228.5,436.92 229.2,437.31 229.9,437.45 230.6,437.21 231.3,436.74 232,436.81 232.7,437.03 233.4,436.68 234.1,436.61 234.8,436.93 235.5,437.34 236.2,437.31 236.9,437.07 237.6,437.13 238.3,437.14 239,436.7 239.7,436.7 240.4,436.8 241.1,436.98 241.8,436.91 242.5,437.1 243.2,437.29 243.9,437.47 244.6,436.98 245.3,436.81 246,436.83 246.7,436.99 247.4,436.73 248.1,436.76 248.8,437.07 249.5,437.29 250.2,437.08 250.9,437.21 251.6,437.37 252.3,437.11 253,436.61 253.7,436.56 254.4,437.04 255.1,437.07 255.8,436.79 256.5,437.13 257.2,437.41 257.9,437.38 258.6,436.82 259.3,436.82 260,437.08 260.7,436.78 261.4,436.6 262.1,436.97 262.8,437.25 263.5,437.22 264.2,437.01 264.9,437.14 265.6,437.15 266.3,436.87 267,436.68 267.7,436.78 268.4,436.91 269.1,436.86 269.8,436.95 270.5,437.29 271.2,437.35 271.9,437.2 272.6,437.03 273.3,437.15 274,437.05 274.7,436.51 275.4,436.7 276.1,436.99 276.8,437.15 277.5,437.06 278.2,437.05 278.9,437.29 279.6,437.31 280.3,436.75 281,436.83 281.7,436.95 282.4,436.81 283.1,436.7 283.8,437.03 284.5,437.41 285.2,437.26 285.9,436.93 286.6,436.98 287.3,437.2 288,436.88 288.7,436.48 289.4,436.87 290.1,437.1 290.8,437.01 291.5,437.12 292.2,437.18 292.9,437.28 293.6,437.01 294.3,436.82 295,436.87 295.7,436.91 296.4,436.83 297.1,436.73 297.8,437.21 298.5,437.23 299.2,437.23 299.9,436.97 300.6,437.22 301.3,437.16 302,436.73 302.7,436.64 303.4,436.93 304.1,437.1 304.8,436.91 305.5,437.02 306.2,437.4 306.9,437.31 307.6,436.84 308.3,436.84 309,436.94 309.7,436.74 310.4,436.69 311.1,436.93 311.8,437.2 312.5,437.35 313.2,437.2 313.9,437.2 314.6,437.23 315.3,436.89 316,436.53 316.7,436.68 317.4,437.1 318.1,436.81 318.8,437.01 319.5,437.27 320.2,437.49 320.9,437.07 321.6,436.94 322.3,436.89 323,437.01 323.7,436.77 324.4,436.69 325.1,437.01 325.8,437.34 326.5,437.06 327.2,437.01 327.9,437.38 328.6,437.1 329.3,436.79 330,436.64 330.7,436.96 331.4,436.9 332.1,436.83 332.8,436.97 333.5,437.34 334.2,437.35 334.9,437.04 335.6,436.99 336.3,437.04 337,436.86 337.7,436.7 338.4,436.85 339.1,437.04 339.8,437.26 340.5,436.93 341.2,437.16 341.9,437.46 342.6,437.01 343.3,436.78 344,436.89 344.7,436.95 345.4,436.81 346.1,436.65 346.8,437.09 347.5,437.38 348.2,437.3 348.9,436.99 349.6,437.17 350.3,437.05 351,436.77 351.7,436.65 352.4,436.79 353.1,437.22 353.8,437.01 354.5,437.05 355.2,437.45 355.9,437.35 356.6,436.96" stroke="#3d3dff" stroke-width="1.5" fill="none" stroke-linejoin="round"/>
<text class="se" x="216.2" y="406.5" text-anchor="middle" font-size="6.7" fill="#262626" stroke="#262626" stroke-width="0.25">R</text>
<text class="se" x="212.91" y="431.44" text-anchor="middle" font-size="6.7" fill="#262626" stroke="#262626" stroke-width="0.25">P</text>
<text class="se" x="220.06" y="429.81" text-anchor="middle" font-size="6.7" fill="#262626" stroke="#262626" stroke-width="0.25">T</text>
<text class="se" x="212.53" y="449.19" text-anchor="middle" font-size="6.7" fill="#262626" stroke="#262626" stroke-width="0.25">Q</text>
<text class="se" x="217.85" y="455.35" text-anchor="middle" font-size="6.7" fill="#262626" stroke="#262626" stroke-width="0.25">S</text>
<text class="se" x="233.3" y="406.5" text-anchor="middle" font-size="6.7" fill="#262626" stroke="#262626" stroke-width="0.25">R</text>
<text class="se" x="230.66" y="431.9" text-anchor="middle" font-size="6.7" fill="#262626" stroke="#262626" stroke-width="0.25">P</text>
<text class="se" x="236.58" y="430.53" text-anchor="middle" font-size="6.7" fill="#262626" stroke="#262626" stroke-width="0.25">T</text>
<text class="se" x="229.82" y="448.04" text-anchor="middle" font-size="6.7" fill="#262626" stroke="#262626" stroke-width="0.25">Q</text>
<text class="se" x="235.11" y="456.08" text-anchor="middle" font-size="6.7" fill="#262626" stroke="#262626" stroke-width="0.25">S</text>
<text class="se" x="249.4" y="407.5" text-anchor="middle" font-size="6.7" fill="#262626" stroke="#262626" stroke-width="0.25">R</text>
<text class="se" x="246.17" y="432.15" text-anchor="middle" font-size="6.7" fill="#262626" stroke="#262626" stroke-width="0.25">P</text>
<text class="se" x="253.42" y="429.1" text-anchor="middle" font-size="6.7" fill="#262626" stroke="#262626" stroke-width="0.25">T</text>
<text class="se" x="245.73" y="448.28" text-anchor="middle" font-size="6.7" fill="#262626" stroke="#262626" stroke-width="0.25">Q</text>
<text class="se" x="250.62" y="456.6" text-anchor="middle" font-size="6.7" fill="#262626" stroke="#262626" stroke-width="0.25">S</text>
<text class="se" x="267.2" y="409" text-anchor="middle" font-size="6.7" fill="#262626" stroke="#262626" stroke-width="0.25">R</text>
<text class="se" x="264.7" y="432.31" text-anchor="middle" font-size="6.7" fill="#262626" stroke="#262626" stroke-width="0.25">P</text>
<text class="se" x="271.09" y="429.59" text-anchor="middle" font-size="6.7" fill="#262626" stroke="#262626" stroke-width="0.25">T</text>
<text class="se" x="263.34" y="449.03" text-anchor="middle" font-size="6.7" fill="#262626" stroke="#262626" stroke-width="0.25">Q</text>
<text class="se" x="268.95" y="456.1" text-anchor="middle" font-size="6.7" fill="#262626" stroke="#262626" stroke-width="0.25">S</text>
<text class="se" x="283.9" y="408.5" text-anchor="middle" font-size="6.7" fill="#262626" stroke="#262626" stroke-width="0.25">R</text>
<text class="se" x="280.87" y="432.26" text-anchor="middle" font-size="6.7" fill="#262626" stroke="#262626" stroke-width="0.25">P</text>
<text class="se" x="287.4" y="430.42" text-anchor="middle" font-size="6.7" fill="#262626" stroke="#262626" stroke-width="0.25">T</text>
<text class="se" x="280.4" y="449.35" text-anchor="middle" font-size="6.7" fill="#262626" stroke="#262626" stroke-width="0.25">Q</text>
<text class="se" x="285.26" y="455.46" text-anchor="middle" font-size="6.7" fill="#262626" stroke="#262626" stroke-width="0.25">S</text>
<text class="se" x="301.9" y="407.5" text-anchor="middle" font-size="6.7" fill="#262626" stroke="#262626" stroke-width="0.25">R</text>
<text class="se" x="299.38" y="431.76" text-anchor="middle" font-size="6.7" fill="#262626" stroke="#262626" stroke-width="0.25">P</text>
<text class="se" x="305.66" y="428.99" text-anchor="middle" font-size="6.7" fill="#262626" stroke="#262626" stroke-width="0.25">T</text>
<text class="se" x="297.81" y="448.25" text-anchor="middle" font-size="6.7" fill="#262626" stroke="#262626" stroke-width="0.25">Q</text>
<text class="se" x="303.54" y="455.16" text-anchor="middle" font-size="6.7" fill="#262626" stroke="#262626" stroke-width="0.25">S</text>
<text class="se" x="317.4" y="407" text-anchor="middle" font-size="6.7" fill="#262626" stroke="#262626" stroke-width="0.25">R</text>
<text class="se" x="314.56" y="431.15" text-anchor="middle" font-size="6.7" fill="#262626" stroke="#262626" stroke-width="0.25">P</text>
<text class="se" x="321.19" y="430.2" text-anchor="middle" font-size="6.7" fill="#262626" stroke="#262626" stroke-width="0.25">T</text>
<text class="se" x="313.41" y="448.28" text-anchor="middle" font-size="6.7" fill="#262626" stroke="#262626" stroke-width="0.25">Q</text>
<text class="se" x="318.7" y="455.69" text-anchor="middle" font-size="6.7" fill="#262626" stroke="#262626" stroke-width="0.25">S</text>
<text class="se" x="333" y="407" text-anchor="middle" font-size="6.7" fill="#262626" stroke="#262626" stroke-width="0.25">R</text>
<text class="se" x="329.68" y="431.47" text-anchor="middle" font-size="6.7" fill="#262626" stroke="#262626" stroke-width="0.25">P</text>
<text class="se" x="336.9" y="430.67" text-anchor="middle" font-size="6.7" fill="#262626" stroke="#262626" stroke-width="0.25">T</text>
<text class="se" x="328.93" y="448.84" text-anchor="middle" font-size="6.7" fill="#262626" stroke="#262626" stroke-width="0.25">Q</text>
<text class="se" x="334.63" y="456.6" text-anchor="middle" font-size="6.7" fill="#262626" stroke="#262626" stroke-width="0.25">S</text>
<text class="se" x="348.3" y="406.5" text-anchor="middle" font-size="6.7" fill="#262626" stroke="#262626" stroke-width="0.25">R</text>
<text class="se" x="345.36" y="432.06" text-anchor="middle" font-size="6.7" fill="#262626" stroke="#262626" stroke-width="0.25">P</text>
<text class="se" x="352.17" y="430.38" text-anchor="middle" font-size="6.7" fill="#262626" stroke="#262626" stroke-width="0.25">T</text>
<text class="se" x="344.67" y="449.05" text-anchor="middle" font-size="6.7" fill="#262626" stroke="#262626" stroke-width="0.25">Q</text>
<text class="se" x="350.05" y="454.78" text-anchor="middle" font-size="6.7" fill="#262626" stroke="#262626" stroke-width="0.25">S</text>
<text class="se" x="204" y="430.3" text-anchor="middle" font-size="6.7" fill="#262626" stroke="#262626" stroke-width="0.25">T</text>
<rect x="200.8" y="11.4" width="155.4" height="78.6" fill="none" stroke="#d5d5d5" stroke-width="1.2"/>
<g font-size="5.5" fill="#2c2c2c" stroke="#2c2c2c" stroke-width="0.12"><text transform="translate(200.5 28.7) scale(1.12 1)" text-anchor="end">1.0</text><text transform="translate(200.5 44.48) scale(1.12 1)" text-anchor="end">0.5</text><text transform="translate(200.5 60.25) scale(1.12 1)" text-anchor="end">0.0</text><text transform="translate(200.5 76.03) scale(1.12 1)" text-anchor="end">−0.5</text><text transform="translate(200.5 91.8) scale(1.12 1)" text-anchor="end">−1.0</text><text transform="translate(201.5 94.8) scale(1.12 1)" text-anchor="middle">270</text><text transform="translate(232.34 94.8) scale(1.12 1)" text-anchor="middle">272</text><text transform="translate(263.18 94.8) scale(1.12 1)" text-anchor="middle">274</text><text transform="translate(294.02 94.8) scale(1.12 1)" text-anchor="middle">276</text><text transform="translate(324.86 94.8) scale(1.12 1)" text-anchor="middle">278</text><text transform="translate(355.7 94.8) scale(1.12 1)" text-anchor="middle">280</text><text transform="translate(278.5 99.3) scale(1.08 1)" text-anchor="middle">Time (s)</text><text transform="translate(186.2 50.7) rotate(-90)" text-anchor="middle">Amplitude (mV)</text></g>
<rect x="205.2" y="113.1" width="152" height="76.5" fill="none" stroke="#d5d5d5" stroke-width="1.2"/>
<g font-size="5.5" fill="#2c2c2c" stroke="#2c2c2c" stroke-width="0.12"><text transform="translate(204.9 116) scale(1.12 1)" text-anchor="end">1.5</text><text transform="translate(204.9 130.6) scale(1.12 1)" text-anchor="end">1.0</text><text transform="translate(204.9 145.2) scale(1.12 1)" text-anchor="end">0.5</text><text transform="translate(204.9 159.8) scale(1.12 1)" text-anchor="end">0.0</text><text transform="translate(204.9 174.4) scale(1.12 1)" text-anchor="end">−0.5</text><text transform="translate(204.9 189) scale(1.12 1)" text-anchor="end">−1.0</text><text transform="translate(205.8 194.4) scale(1.12 1)" text-anchor="middle">270</text><text transform="translate(235.14 194.4) scale(1.12 1)" text-anchor="middle">272</text><text transform="translate(264.48 194.4) scale(1.12 1)" text-anchor="middle">274</text><text transform="translate(293.82 194.4) scale(1.12 1)" text-anchor="middle">276</text><text transform="translate(323.16 194.4) scale(1.12 1)" text-anchor="middle">278</text><text transform="translate(352.5 194.4) scale(1.12 1)" text-anchor="middle">280</text><text transform="translate(281.2 198.9) scale(1.08 1)" text-anchor="middle">Time (s)</text><text transform="translate(190.6 151.35) rotate(-90)" text-anchor="middle">Amplitude (mV)</text></g>
<rect x="205.4" y="205.2" width="151.2" height="76.3" fill="none" stroke="#d5d5d5" stroke-width="1.2"/>
<g font-size="5.5" fill="#2c2c2c" stroke="#2c2c2c" stroke-width="0.12"><text transform="translate(205.1 210.6) scale(1.12 1)" text-anchor="end">1.5</text><text transform="translate(205.1 224.24) scale(1.12 1)" text-anchor="end">1.0</text><text transform="translate(205.1 237.88) scale(1.12 1)" text-anchor="end">0.5</text><text transform="translate(205.1 251.52) scale(1.12 1)" text-anchor="end">0.0</text><text transform="translate(205.1 265.16) scale(1.12 1)" text-anchor="end">−0.5</text><text transform="translate(205.1 278.8) scale(1.12 1)" text-anchor="end">−1.0</text><text transform="translate(205.4 286.3) scale(1.12 1)" text-anchor="middle">270</text><text transform="translate(235.42 286.3) scale(1.12 1)" text-anchor="middle">272</text><text transform="translate(265.44 286.3) scale(1.12 1)" text-anchor="middle">274</text><text transform="translate(295.46 286.3) scale(1.12 1)" text-anchor="middle">276</text><text transform="translate(325.48 286.3) scale(1.12 1)" text-anchor="middle">278</text><text transform="translate(355.5 286.3) scale(1.12 1)" text-anchor="middle">280</text><text transform="translate(281 290.8) scale(1.08 1)" text-anchor="middle">Time (s)</text><text transform="translate(191 243.35) rotate(-90)" text-anchor="middle">Amplitude (mV)</text></g>
<rect x="202.3" y="297.7" width="155.1" height="78.1" fill="none" stroke="#d5d5d5" stroke-width="1.2"/>
<g font-size="5.5" fill="#2c2c2c" stroke="#2c2c2c" stroke-width="0.12"><text transform="translate(202 306.1) scale(1.12 1)" text-anchor="end">1.5</text><text transform="translate(202 319.18) scale(1.12 1)" text-anchor="end">1.0</text><text transform="translate(202 332.26) scale(1.12 1)" text-anchor="end">0.5</text><text transform="translate(202 345.34) scale(1.12 1)" text-anchor="end">0.0</text><text transform="translate(202 358.42) scale(1.12 1)" text-anchor="end">−0.5</text><text transform="translate(202 371.5) scale(1.12 1)" text-anchor="end">−1.0</text><text transform="translate(203.4 380.6) scale(1.12 1)" text-anchor="middle">270</text><text transform="translate(233.48 380.6) scale(1.12 1)" text-anchor="middle">272</text><text transform="translate(263.56 380.6) scale(1.12 1)" text-anchor="middle">274</text><text transform="translate(293.64 380.6) scale(1.12 1)" text-anchor="middle">276</text><text transform="translate(323.72 380.6) scale(1.12 1)" text-anchor="middle">278</text><text transform="translate(353.8 380.6) scale(1.12 1)" text-anchor="middle">280</text><text transform="translate(279.85 385.1) scale(1.08 1)" text-anchor="middle">Time (s)</text><text transform="translate(188 336.75) rotate(-90)" text-anchor="middle">Amplitude (mV)</text></g>
<rect x="201.4" y="390.7" width="156" height="78.6" fill="none" stroke="#d5d5d5" stroke-width="1.2"/>
<g font-size="5.5" fill="#2c2c2c" stroke="#2c2c2c" stroke-width="0.12"><text transform="translate(201.1 399.6) scale(1.12 1)" text-anchor="end">1.5</text><text transform="translate(201.1 412.78) scale(1.12 1)" text-anchor="end">1.0</text><text transform="translate(201.1 425.96) scale(1.12 1)" text-anchor="end">0.5</text><text transform="translate(201.1 439.14) scale(1.12 1)" text-anchor="end">0.0</text><text transform="translate(201.1 452.32) scale(1.12 1)" text-anchor="end">−0.5</text><text transform="translate(201.1 465.5) scale(1.12 1)" text-anchor="end">−1.0</text><text transform="translate(202 474.1) scale(1.12 1)" text-anchor="middle">270</text><text transform="translate(231.7 474.1) scale(1.12 1)" text-anchor="middle">272</text><text transform="translate(261.4 474.1) scale(1.12 1)" text-anchor="middle">274</text><text transform="translate(291.1 474.1) scale(1.12 1)" text-anchor="middle">276</text><text transform="translate(320.8 474.1) scale(1.12 1)" text-anchor="middle">278</text><text transform="translate(350.5 474.1) scale(1.12 1)" text-anchor="middle">280</text><text transform="translate(279.4 478.6) scale(1.08 1)" text-anchor="middle">Time (s)</text><text transform="translate(186.6 430) rotate(-90)" text-anchor="middle">Amplitude (mV)</text></g>
<path d="M430.85 270.1V266.1 M427.55 266.1H434.15" stroke="#333" stroke-width="1" fill="none"/>
<rect x="425.1" y="271.1" width="11.5" height="74.5" fill="#ffffff" stroke="#1c1c1c" stroke-width="2"/>
<path d="M451.65 267.9V263.5 M448.35 263.5H454.95" stroke="#333" stroke-width="1" fill="none"/>
<rect x="445.9" y="268.9" width="11.5" height="76.7" fill="#d5d5d5" stroke="#1c1c1c" stroke-width="2"/>
<path d="M473.2 246V238.3 M469.9 238.3H476.5" stroke="#333" stroke-width="1" fill="none"/>
<rect x="467.1" y="247" width="12.2" height="98.6" fill="#a3a3aa" stroke="#1c1c1c" stroke-width="2"/>
<path d="M494 258V254.1 M490.7 254.1H497.3" stroke="#333" stroke-width="1" fill="none"/>
<rect x="487.9" y="259" width="12.2" height="86.6" fill="#818181" stroke="#1c1c1c" stroke-width="2"/>
<path d="M514.8 262V258.2 M511.5 258.2H518.1" stroke="#333" stroke-width="1" fill="none"/>
<rect x="508.7" y="263" width="12.2" height="82.6" fill="#5d5d5d" stroke="#1c1c1c" stroke-width="2"/>
<path d="M535.85 292.4V289.3 M532.55 289.3H539.15" stroke="#333" stroke-width="1" fill="none"/>
<rect x="529.5" y="293.4" width="12.7" height="52.2" fill="#333333" stroke="#1c1c1c" stroke-width="2"/>
<path d="M416.5 211.4V345.6 H550.6" stroke="#262626" stroke-width="1.7" fill="none"/>
<path d="M411.2 211.4H416.5" stroke="#262626" stroke-width="1.6"/>
<text class="b" x="409" y="214.57" text-anchor="end" font-size="8.8" fill="#2b2b2b">150</text>
<path d="M411.2 256.13H416.5" stroke="#262626" stroke-width="1.6"/>
<text class="b" x="409" y="259.3" text-anchor="end" font-size="8.8" fill="#2b2b2b">100</text>
<path d="M411.2 300.87H416.5" stroke="#262626" stroke-width="1.6"/>
<text class="b" x="409" y="304.03" text-anchor="end" font-size="8.8" fill="#2b2b2b">50</text>
<path d="M411.2 345.6H416.5" stroke="#262626" stroke-width="1.6"/>
<text class="b" x="409" y="348.77" text-anchor="end" font-size="8.8" fill="#2b2b2b">0</text>
<path d="M430.85 345.6V350.9" stroke="#262626" stroke-width="1.6"/>
<text class="b" transform="translate(431.55 362.9) rotate(-45)" text-anchor="end" font-size="9.5" fill="#2b2b2b">Control</text>
<path d="M451.65 345.6V350.9" stroke="#262626" stroke-width="1.6"/>
<text class="b" transform="translate(452.35 362.9) rotate(-45)" text-anchor="end" font-size="9.5" fill="#2b2b2b">Vehicle</text>
<path d="M473.2 345.6V350.9" stroke="#262626" stroke-width="1.6"/>
<text class="b" transform="translate(473.9 362.9) rotate(-45)" text-anchor="end" font-size="9.5" fill="#2b2b2b">150 mg.L<tspan font-size="5.89" dy="-3.99">-1</tspan></text>
<path d="M494 345.6V350.9" stroke="#262626" stroke-width="1.6"/>
<text class="b" transform="translate(494.7 362.9) rotate(-45)" text-anchor="end" font-size="9.5" fill="#2b2b2b">200 mg.L<tspan font-size="5.89" dy="-3.99">-1</tspan></text>
<path d="M514.8 345.6V350.9" stroke="#262626" stroke-width="1.6"/>
<text class="b" transform="translate(515.5 362.9) rotate(-45)" text-anchor="end" font-size="9.5" fill="#2b2b2b">250 mg.L<tspan font-size="5.89" dy="-3.99">-1</tspan></text>
<path d="M535.85 345.6V350.9" stroke="#262626" stroke-width="1.6"/>
<text class="b" transform="translate(536.55 362.9) rotate(-45)" text-anchor="end" font-size="9.5" fill="#2b2b2b">300 mg.L<tspan font-size="5.89" dy="-3.99">-1</tspan></text>
<path d="M486.2 141.7V131.9H542V140.7" stroke="#1e1e1e" stroke-width="1.95" fill="none"/>
<path d="M434.7 142H521.2" stroke="#1e1e1e" stroke-width="1.95"/>
<path d="M501.7 121.5L501.7 125.7M499.88 122.55L503.52 124.65M499.88 124.65L503.52 122.55M508.1 121.5L508.1 125.7M506.28 122.55L509.92 124.65M506.28 124.65L509.92 122.55M514.5 121.5L514.5 125.7M512.68 122.55L516.32 124.65M512.68 124.65L516.32 122.55" stroke="#2e2e2e" stroke-width="1.45" stroke-linecap="round" fill="none"/>
<path d="M430.4 167.4V158.6H511.4V167.4" stroke="#1e1e1e" stroke-width="1.95" fill="none"/>
<path d="M467 150.6L467 154.8M465.18 151.65L468.82 153.75M465.18 153.75L468.82 151.65M473.4 150.6L473.4 154.8M471.58 151.65L475.22 153.75M471.58 153.75L475.22 151.65" stroke="#2e2e2e" stroke-width="1.45" stroke-linecap="round" fill="none"/>
<path d="M467.6 184V175.7H516.2V184.4" stroke="#1e1e1e" stroke-width="1.95" fill="none"/>
<path d="M481.3 167.5L481.3 171.7M479.48 168.55L483.12 170.65M479.48 170.65L483.12 168.55M487.7 167.5L487.7 171.7M485.88 168.55L489.52 170.65M485.88 170.65L489.52 168.55M494.1 167.5L494.1 171.7M492.28 168.55L495.92 170.65M492.28 170.65L495.92 168.55" stroke="#2e2e2e" stroke-width="1.45" stroke-linecap="round" fill="none"/>
<path d="M438.5 198.7V191H472V199.3" stroke="#1e1e1e" stroke-width="1.95" fill="none"/>
<path d="M421.4 198.7H454.2" stroke="#1e1e1e" stroke-width="1.95"/>
<path d="M447.4 184.1L447.4 188.3M445.58 185.15L449.22 187.25M445.58 187.25L449.22 185.15M453.8 184.1L453.8 188.3M451.98 185.15L455.62 187.25M451.98 187.25L455.62 185.15M460.2 184.1L460.2 188.3M458.38 185.15L462.02 187.25M458.38 187.25L462.02 185.15" stroke="#2e2e2e" stroke-width="1.45" stroke-linecap="round" fill="none"/>
<path d="M469.8 217.3V209.6H503.1V217.5" stroke="#1e1e1e" stroke-width="1.95" fill="none"/>
<path d="M486.2 217.5H519" stroke="#1e1e1e" stroke-width="1.95"/>
<path d="M479.1 200.9L479.1 205.1M477.28 201.95L480.92 204.05M477.28 204.05L480.92 201.95M485.5 200.9L485.5 205.1M483.68 201.95L487.32 204.05M483.68 204.05L487.32 201.95M491.9 200.9L491.9 205.1M490.08 201.95L493.72 204.05M490.08 204.05L493.72 201.95" stroke="#2e2e2e" stroke-width="1.45" stroke-linecap="round" fill="none"/>
<text class="bi" transform="translate(370.9 278.2) rotate(-90)" text-anchor="middle" font-size="11" fill="#1a1a1a">Heart rate</text>
<text class="bi" transform="translate(386.4 278.6) rotate(-90)" text-anchor="middle" font-size="11.4" fill="#1a1a1a">(beats  min. <tspan font-size="6.8" dy="-4.6">-1</tspan><tspan dy="4.6">)</tspan></text>
<text class="sb" x="377.2" y="199.6" font-size="13.5" fill="#111">F</text>
<path d="M39.35 650.4V645.4 M37.05 645.4H41.65" stroke="#4a4a4a" stroke-width="0.75" fill="none"/>
<rect x="35.3" y="651.15" width="8.1" height="48.05" fill="#ffffff" stroke="#1c1c1c" stroke-width="1.5"/>
<path d="M53.65 650.4V640.9 M51.35 640.9H55.95" stroke="#4a4a4a" stroke-width="0.75" fill="none"/>
<rect x="49.6" y="651.15" width="8.1" height="48.05" fill="#d5d5d5" stroke="#1c1c1c" stroke-width="1.5"/>
<path d="M67.95 648.3V642.2 M65.65 642.2H70.25" stroke="#4a4a4a" stroke-width="0.75" fill="none"/>
<rect x="63.8" y="649.05" width="8.3" height="50.15" fill="#a3a3aa" stroke="#1c1c1c" stroke-width="1.5"/>
<path d="M82.35 649.4V639.9 M80.05 639.9H84.65" stroke="#4a4a4a" stroke-width="0.75" fill="none"/>
<rect x="78.4" y="650.15" width="7.9" height="49.05" fill="#818181" stroke="#1c1c1c" stroke-width="1.5"/>
<path d="M96.6 647.3V638.4 M94.3 638.4H98.9" stroke="#4a4a4a" stroke-width="0.75" fill="none"/>
<rect x="92.6" y="648.05" width="8" height="51.15" fill="#5d5d5d" stroke="#1c1c1c" stroke-width="1.5"/>
<path d="M111.05 654.9V643.1 M108.75 643.1H113.35" stroke="#4a4a4a" stroke-width="0.75" fill="none"/>
<rect x="106.9" y="655.65" width="8.3" height="43.55" fill="#333333" stroke="#1c1c1c" stroke-width="1.5"/>
<path d="M29.3 609V699.2 H120.5" stroke="#262626" stroke-width="1.27" fill="none"/>
<path d="M25.8 609.05H29.3" stroke="#262626" stroke-width="1.2"/>
<text class="b" x="24.8" y="611.57" text-anchor="end" font-size="7" fill="#2b2b2b">1.5</text>
<path d="M25.8 639.1H29.3" stroke="#262626" stroke-width="1.2"/>
<text class="b" x="24.8" y="641.62" text-anchor="end" font-size="7" fill="#2b2b2b">1.0</text>
<path d="M25.8 669.15H29.3" stroke="#262626" stroke-width="1.2"/>
<text class="b" x="24.8" y="671.67" text-anchor="end" font-size="7" fill="#2b2b2b">0.5</text>
<path d="M25.8 699.2H29.3" stroke="#262626" stroke-width="1.2"/>
<text class="b" x="24.8" y="701.72" text-anchor="end" font-size="7" fill="#2b2b2b">0.0</text>
<path d="M39.35 699.2V702.7" stroke="#262626" stroke-width="1.2"/>
<text class="b" transform="translate(39.65 711.7) rotate(-45)" text-anchor="end" font-size="6.5" fill="#2b2b2b">Control</text>
<path d="M53.65 699.2V702.7" stroke="#262626" stroke-width="1.2"/>
<text class="b" transform="translate(53.95 711.7) rotate(-45)" text-anchor="end" font-size="6.5" fill="#2b2b2b">Vehicle</text>
<path d="M67.95 699.2V702.7" stroke="#262626" stroke-width="1.2"/>
<text class="b" transform="translate(68.25 711.7) rotate(-45)" text-anchor="end" font-size="6.5" fill="#2b2b2b">150 mg.L<tspan font-size="4.03" dy="-2.73">-1</tspan></text>
<path d="M82.35 699.2V702.7" stroke="#262626" stroke-width="1.2"/>
<text class="b" transform="translate(82.65 711.7) rotate(-45)" text-anchor="end" font-size="6.5" fill="#2b2b2b">200 mg.L<tspan font-size="4.03" dy="-2.73">-1</tspan></text>
<path d="M96.6 699.2V702.7" stroke="#262626" stroke-width="1.2"/>
<text class="b" transform="translate(96.9 711.7) rotate(-45)" text-anchor="end" font-size="6.5" fill="#2b2b2b">250 mg.L<tspan font-size="4.03" dy="-2.73">-1</tspan></text>
<path d="M111.05 699.2V702.7" stroke="#262626" stroke-width="1.2"/>
<text class="b" transform="translate(111.35 711.7) rotate(-45)" text-anchor="end" font-size="6.5" fill="#2b2b2b">300 mg.L<tspan font-size="4.03" dy="-2.73">-1</tspan></text>
<text class="b" transform="translate(12 654.5) rotate(-90)" text-anchor="middle" font-size="7" fill="#2b2b2b">Amplitude mV</text>
<text class="sb" x="1.3" y="605.6" font-size="9.6" fill="#111">G</text>
<path d="M163 660.4V657.4 M160.7 657.4H165.3" stroke="#4a4a4a" stroke-width="0.75" fill="none"/>
<rect x="159" y="661.15" width="8" height="41.55" fill="#ffffff" stroke="#1c1c1c" stroke-width="1.5"/>
<path d="M177.6 661.7V659.2 M175.3 659.2H179.9" stroke="#4a4a4a" stroke-width="0.75" fill="none"/>
<rect x="173.5" y="662.45" width="8.2" height="40.25" fill="#d5d5d5" stroke="#1c1c1c" stroke-width="1.5"/>
<path d="M192.2 670.3V667.5 M189.9 667.5H194.5" stroke="#4a4a4a" stroke-width="0.75" fill="none"/>
<rect x="188.1" y="671.05" width="8.2" height="31.65" fill="#a3a3aa" stroke="#1c1c1c" stroke-width="1.5"/>
<path d="M206.75 666.2V664.8 M204.45 664.8H209.05" stroke="#4a4a4a" stroke-width="0.75" fill="none"/>
<rect x="202.7" y="666.95" width="8.1" height="35.75" fill="#818181" stroke="#1c1c1c" stroke-width="1.5"/>
<path d="M221.35 664.2V662.2 M219.05 662.2H223.65" stroke="#4a4a4a" stroke-width="0.75" fill="none"/>
<rect x="217.3" y="664.95" width="8.1" height="37.75" fill="#5d5d5d" stroke="#1c1c1c" stroke-width="1.5"/>
<path d="M235.8 642.3V638.3 M233.5 638.3H238.1" stroke="#4a4a4a" stroke-width="0.75" fill="none"/>
<rect x="231.8" y="643.05" width="8" height="59.65" fill="#333333" stroke="#1c1c1c" stroke-width="1.5"/>
<path d="M153.9 611.2V702.7 H245.6" stroke="#262626" stroke-width="1.27" fill="none"/>
<path d="M150.4 611.2H153.9" stroke="#262626" stroke-width="1.2"/>
<text class="b" x="149.4" y="613.72" text-anchor="end" font-size="7" fill="#2b2b2b">1500</text>
<path d="M150.4 641.7H153.9" stroke="#262626" stroke-width="1.2"/>
<text class="b" x="149.4" y="644.22" text-anchor="end" font-size="7" fill="#2b2b2b">1000</text>
<path d="M150.4 672.2H153.9" stroke="#262626" stroke-width="1.2"/>
<text class="b" x="149.4" y="674.72" text-anchor="end" font-size="7" fill="#2b2b2b">500</text>
<path d="M150.4 702.7H153.9" stroke="#262626" stroke-width="1.2"/>
<text class="b" x="149.4" y="705.22" text-anchor="end" font-size="7" fill="#2b2b2b">0</text>
<path d="M163 702.7V706.2" stroke="#262626" stroke-width="1.2"/>
<text class="b" transform="translate(163.3 713.9) rotate(-45)" text-anchor="end" font-size="6.9" fill="#2b2b2b">Control</text>
<path d="M177.6 702.7V706.2" stroke="#262626" stroke-width="1.2"/>
<text class="b" transform="translate(177.9 713.9) rotate(-45)" text-anchor="end" font-size="6.9" fill="#2b2b2b">Vehicle</text>
<path d="M192.2 702.7V706.2" stroke="#262626" stroke-width="1.2"/>
<text class="b" transform="translate(192.5 713.9) rotate(-45)" text-anchor="end" font-size="6.9" fill="#2b2b2b">150 mg.L<tspan font-size="4.28" dy="-2.9">-1</tspan></text>
<path d="M206.75 702.7V706.2" stroke="#262626" stroke-width="1.2"/>
<text class="b" transform="translate(207.05 713.9) rotate(-45)" text-anchor="end" font-size="6.9" fill="#2b2b2b">200 mg.L<tspan font-size="4.28" dy="-2.9">-1</tspan></text>
<path d="M221.35 702.7V706.2" stroke="#262626" stroke-width="1.2"/>
<text class="b" transform="translate(221.65 713.9) rotate(-45)" text-anchor="end" font-size="6.9" fill="#2b2b2b">250 mg.L<tspan font-size="4.28" dy="-2.9">-1</tspan></text>
<path d="M235.8 702.7V706.2" stroke="#262626" stroke-width="1.2"/>
<text class="b" transform="translate(236.1 713.9) rotate(-45)" text-anchor="end" font-size="6.9" fill="#2b2b2b">300 mg.L<tspan font-size="4.28" dy="-2.9">-1</tspan></text>
<path d="M198.2 559.3V552.1H234.4V558.7" stroke="#1e1e1e" stroke-width="1.5" fill="none"/>
<path d="M160.5 559.7H225.2" stroke="#1e1e1e" stroke-width="1.5"/>
<path d="M210.55 544.75L210.55 547.45M209.38 545.43L211.72 546.77M209.38 546.77L211.72 545.43M215.3 544.75L215.3 547.45M214.13 545.43L216.47 546.77M214.13 546.77L216.47 545.43M220.05 544.75L220.05 547.45M218.88 545.43L221.22 546.77M218.88 546.77L221.22 545.43" stroke="#2e2e2e" stroke-width="1.35" stroke-linecap="round" fill="none"/>
<path d="M176.6 576.5V570.4H206.9V577.2" stroke="#1e1e1e" stroke-width="1.5" fill="none"/>
<path d="M187.72 564.95L187.72 567.65M186.56 565.62L188.89 566.97M186.56 566.97L188.89 565.62M192.47 564.95L192.47 567.65M191.31 565.62L193.64 566.97M191.31 566.97L193.64 565.62" stroke="#2e2e2e" stroke-width="1.35" stroke-linecap="round" fill="none"/>
<path d="M177 589.6V583.1H194.2V589.3" stroke="#1e1e1e" stroke-width="1.5" fill="none"/>
<path d="M180.25 576.85L180.25 579.55M179.08 577.53L181.42 578.88M179.08 578.88L181.42 577.53M185 576.85L185 579.55M183.83 577.53L186.17 578.88M183.83 578.88L186.17 577.53M189.75 576.85L189.75 579.55M188.58 577.53L190.92 578.88M188.58 578.88L190.92 577.53" stroke="#2e2e2e" stroke-width="1.35" stroke-linecap="round" fill="none"/>
<path d="M163.1 603.5V596.6H199.6V604.2" stroke="#1e1e1e" stroke-width="1.5" fill="none"/>
<path d="M189.4 604.2H209.6" stroke="#1e1e1e" stroke-width="1.5"/>
<path d="M179.15 591.25L179.15 593.95M177.98 591.93L180.32 593.27M177.98 593.27L180.32 591.93M183.9 591.25L183.9 593.95M182.73 591.93L185.07 593.27M182.73 593.27L185.07 591.93M188.65 591.25L188.65 593.95M187.48 591.93L189.82 593.27M187.48 593.27L189.82 591.93" stroke="#2e2e2e" stroke-width="1.35" stroke-linecap="round" fill="none"/>
<path d="M162.8 615.2V608.9H223.3V615.6" stroke="#1e1e1e" stroke-width="1.5" fill="none"/>
<path d="M180.43 603.95L180.43 606.65M179.26 604.62L181.59 605.97M179.26 605.97L181.59 604.62M185.18 603.95L185.18 606.65M184.01 604.62L186.34 605.97M184.01 605.97L186.34 604.62" stroke="#2e2e2e" stroke-width="1.35" stroke-linecap="round" fill="none"/>
<path d="M188.7 624.4V617.4H205.2V623.5" stroke="#1e1e1e" stroke-width="1.5" fill="none"/>
<path d="M194.03 612.85L194.03 615.55M192.86 613.53L195.19 614.88M192.86 614.88L195.19 613.53M198.78 612.85L198.78 615.55M197.61 613.53L199.94 614.88M197.61 614.88L199.94 613.53" stroke="#2e2e2e" stroke-width="1.35" stroke-linecap="round" fill="none"/>
<path d="M188.2 637.5V631.2H221.5V637.5" stroke="#1e1e1e" stroke-width="1.5" fill="none"/>
<path d="M204.35 626.25L204.35 628.95M203.18 626.93L205.52 628.27M203.18 628.27L205.52 626.93M209.1 626.25L209.1 628.95M207.93 626.93L210.27 628.27M207.93 628.27L210.27 626.93M213.85 626.25L213.85 628.95M212.68 626.93L215.02 628.27M212.68 628.27L215.02 626.93" stroke="#2e2e2e" stroke-width="1.35" stroke-linecap="round" fill="none"/>
<text class="b" transform="translate(129.8 656.9) rotate(-90)" text-anchor="middle" font-size="7.4" fill="#2b2b2b">R-R Interval (ms)</text>
<text class="sb" x="122.2" y="608" font-size="9.8" fill="#111">H</text>
<path d="M296.05 654.6V652.6 M293.75 652.6H298.35" stroke="#4a4a4a" stroke-width="0.75" fill="none"/>
<rect x="291.9" y="655.35" width="8.3" height="56.05" fill="#ffffff" stroke="#1c1c1c" stroke-width="1.5"/>
<path d="M310.3 655.6V651.6 M308 651.6H312.6" stroke="#4a4a4a" stroke-width="0.75" fill="none"/>
<rect x="306.1" y="656.35" width="8.4" height="55.05" fill="#d5d5d5" stroke="#1c1c1c" stroke-width="1.5"/>
<path d="M324.75 658.2V656.6 M322.45 656.6H327.05" stroke="#4a4a4a" stroke-width="0.75" fill="none"/>
<rect x="320.7" y="658.95" width="8.1" height="52.45" fill="#a3a3aa" stroke="#1c1c1c" stroke-width="1.5"/>
<path d="M338.85 661V650.6 M336.55 650.6H341.15" stroke="#4a4a4a" stroke-width="0.75" fill="none"/>
<rect x="334.7" y="661.75" width="8.3" height="49.65" fill="#818181" stroke="#1c1c1c" stroke-width="1.5"/>
<path d="M353.55 655.6V649 M351.25 649H355.85" stroke="#4a4a4a" stroke-width="0.75" fill="none"/>
<rect x="349.5" y="656.35" width="8.1" height="55.05" fill="#5d5d5d" stroke="#1c1c1c" stroke-width="1.5"/>
<path d="M367.75 644.7V638.7 M365.45 638.7H370.05" stroke="#4a4a4a" stroke-width="0.75" fill="none"/>
<rect x="363.7" y="645.45" width="8.1" height="65.95" fill="#333333" stroke="#1c1c1c" stroke-width="1.5"/>
<path d="M286.6 620.8V711.4 H376.9" stroke="#262626" stroke-width="1.27" fill="none"/>
<path d="M283.1 620.8H286.6" stroke="#262626" stroke-width="1.2"/>
<text class="b" x="282.1" y="623.32" text-anchor="end" font-size="7" fill="#2b2b2b">150</text>
<path d="M283.1 651H286.6" stroke="#262626" stroke-width="1.2"/>
<text class="b" x="282.1" y="653.52" text-anchor="end" font-size="7" fill="#2b2b2b">100</text>
<path d="M283.1 681.2H286.6" stroke="#262626" stroke-width="1.2"/>
<text class="b" x="282.1" y="683.72" text-anchor="end" font-size="7" fill="#2b2b2b">50</text>
<path d="M283.1 711.4H286.6" stroke="#262626" stroke-width="1.2"/>
<text class="b" x="282.1" y="713.92" text-anchor="end" font-size="7" fill="#2b2b2b">0</text>
<path d="M296.05 711.4V714.9" stroke="#262626" stroke-width="1.2"/>
<text class="b" transform="translate(296.35 722.5) rotate(-45)" text-anchor="end" font-size="6.5" fill="#2b2b2b">Control</text>
<path d="M310.3 711.4V714.9" stroke="#262626" stroke-width="1.2"/>
<text class="b" transform="translate(310.6 722.5) rotate(-45)" text-anchor="end" font-size="6.5" fill="#2b2b2b">Vehicle</text>
<path d="M324.75 711.4V714.9" stroke="#262626" stroke-width="1.2"/>
<text class="b" transform="translate(325.05 722.5) rotate(-45)" text-anchor="end" font-size="6.5" fill="#2b2b2b">150 mg.L<tspan font-size="4.03" dy="-2.73">-1</tspan></text>
<path d="M338.85 711.4V714.9" stroke="#262626" stroke-width="1.2"/>
<text class="b" transform="translate(339.15 722.5) rotate(-45)" text-anchor="end" font-size="6.5" fill="#2b2b2b">200 mg.L<tspan font-size="4.03" dy="-2.73">-1</tspan></text>
<path d="M353.55 711.4V714.9" stroke="#262626" stroke-width="1.2"/>
<text class="b" transform="translate(353.85 722.5) rotate(-45)" text-anchor="end" font-size="6.5" fill="#2b2b2b">250 mg.L<tspan font-size="4.03" dy="-2.73">-1</tspan></text>
<path d="M367.75 711.4V714.9" stroke="#262626" stroke-width="1.2"/>
<text class="b" transform="translate(368.05 722.5) rotate(-45)" text-anchor="end" font-size="6.5" fill="#2b2b2b">300 mg.L<tspan font-size="4.03" dy="-2.73">-1</tspan></text>
<path d="M330.3 591.9V584.9H371.5V591.9" stroke="#1e1e1e" stroke-width="1.5" fill="none"/>
<path d="M320.7 591.9H342.6" stroke="#1e1e1e" stroke-width="1.5"/>
<path d="M346.85 577.65L346.85 580.35M345.68 578.33L348.02 579.67M345.68 579.67L348.02 578.33M351.6 577.65L351.6 580.35M350.43 578.33L352.77 579.67M350.43 579.67L352.77 578.33M356.35 577.65L356.35 580.35M355.18 578.33L357.52 579.67M355.18 579.67L357.52 578.33" stroke="#2e2e2e" stroke-width="1.35" stroke-linecap="round" fill="none"/>
<path d="M300.8 611.4V604.2H367.5V610.8" stroke="#1e1e1e" stroke-width="1.5" fill="none"/>
<path d="M289.8 611.4H312.3" stroke="#1e1e1e" stroke-width="1.5"/>
<path d="M328.73 599.55L328.73 602.25M327.56 600.23L329.89 601.57M327.56 601.57L329.89 600.23M333.48 599.55L333.48 602.25M332.31 600.23L334.64 601.57M332.31 601.57L334.64 600.23" stroke="#2e2e2e" stroke-width="1.35" stroke-linecap="round" fill="none"/>
<path d="M350.2 630.1V622.8H367.5V630.1" stroke="#1e1e1e" stroke-width="1.5" fill="none"/>
<path d="M354.62 617.05L354.62 619.75M353.46 617.73L355.79 619.07M353.46 619.07L355.79 617.73M359.38 617.05L359.38 619.75M358.21 617.73L360.54 619.07M358.21 619.07L360.54 617.73" stroke="#2e2e2e" stroke-width="1.35" stroke-linecap="round" fill="none"/>
<text class="b" transform="translate(267.3 665.9) rotate(-90)" text-anchor="middle" font-size="7.4" fill="#2b2b2b">P-Q Intervals (ms)</text>
<text class="sb" x="263.3" y="606.2" font-size="10.2" fill="#111">I</text>
<path d="M424.5 651.6V648.3 M422.2 648.3H426.8" stroke="#4a4a4a" stroke-width="0.75" fill="none"/>
<rect x="419.8" y="652.35" width="9.4" height="59.45" fill="#ffffff" stroke="#1c1c1c" stroke-width="1.5"/>
<path d="M440.75 655.2V648.7 M438.45 648.7H443.05" stroke="#4a4a4a" stroke-width="0.75" fill="none"/>
<rect x="436.4" y="655.95" width="8.7" height="55.85" fill="#d5d5d5" stroke="#1c1c1c" stroke-width="1.5"/>
<path d="M457 651.6V646.7 M454.7 646.7H459.3" stroke="#4a4a4a" stroke-width="0.75" fill="none"/>
<rect x="452.3" y="652.35" width="9.4" height="59.45" fill="#a3a3aa" stroke="#1c1c1c" stroke-width="1.5"/>
<path d="M473.2 654.4V648.7 M470.9 648.7H475.5" stroke="#4a4a4a" stroke-width="0.75" fill="none"/>
<rect x="468.8" y="655.15" width="8.8" height="56.65" fill="#818181" stroke="#1c1c1c" stroke-width="1.5"/>
<path d="M489.35 651.6V647.7 M487.05 647.7H491.65" stroke="#4a4a4a" stroke-width="0.75" fill="none"/>
<rect x="484.8" y="652.35" width="9.1" height="59.45" fill="#5d5d5d" stroke="#1c1c1c" stroke-width="1.5"/>
<path d="M505.95 639.7V630.3 M503.65 630.3H508.25" stroke="#4a4a4a" stroke-width="0.75" fill="none"/>
<rect x="501.1" y="640.45" width="9.7" height="71.35" fill="#333333" stroke="#1c1c1c" stroke-width="1.5"/>
<path d="M413.8 608.2V711.8 H517.4" stroke="#262626" stroke-width="1.27" fill="none"/>
<path d="M409.4 608.2H413.8" stroke="#262626" stroke-width="1.2"/>
<text class="b" x="407.8" y="610.83" text-anchor="end" font-size="7.3" fill="#2b2b2b">50</text>
<path d="M409.4 628.92H413.8" stroke="#262626" stroke-width="1.2"/>
<text class="b" x="407.8" y="631.55" text-anchor="end" font-size="7.3" fill="#2b2b2b">40</text>
<path d="M409.4 649.64H413.8" stroke="#262626" stroke-width="1.2"/>
<text class="b" x="407.8" y="652.27" text-anchor="end" font-size="7.3" fill="#2b2b2b">30</text>
<path d="M409.4 670.36H413.8" stroke="#262626" stroke-width="1.2"/>
<text class="b" x="407.8" y="672.99" text-anchor="end" font-size="7.3" fill="#2b2b2b">20</text>
<path d="M409.4 691.08H413.8" stroke="#262626" stroke-width="1.2"/>
<text class="b" x="407.8" y="693.71" text-anchor="end" font-size="7.3" fill="#2b2b2b">10</text>
<path d="M409.4 711.8H413.8" stroke="#262626" stroke-width="1.2"/>
<text class="b" x="407.8" y="714.43" text-anchor="end" font-size="7.3" fill="#2b2b2b">0</text>
<path d="M424.5 711.8V716.2" stroke="#262626" stroke-width="1.2"/>
<text class="b" transform="translate(424.7 724.8) rotate(-45)" text-anchor="end" font-size="7.5" fill="#2b2b2b">Control</text>
<path d="M440.75 711.8V716.2" stroke="#262626" stroke-width="1.2"/>
<text class="b" transform="translate(440.95 724.8) rotate(-45)" text-anchor="end" font-size="7.5" fill="#2b2b2b">Vehicle</text>
<path d="M457 711.8V716.2" stroke="#262626" stroke-width="1.2"/>
<text class="b" transform="translate(457.2 724.8) rotate(-45)" text-anchor="end" font-size="7.5" fill="#2b2b2b">150 mg.L<tspan font-size="4.65" dy="-3.15">-1</tspan></text>
<path d="M473.2 711.8V716.2" stroke="#262626" stroke-width="1.2"/>
<text class="b" transform="translate(473.4 724.8) rotate(-45)" text-anchor="end" font-size="7.5" fill="#2b2b2b">200 mg.L<tspan font-size="4.65" dy="-3.15">-1</tspan></text>
<path d="M489.35 711.8V716.2" stroke="#262626" stroke-width="1.2"/>
<text class="b" transform="translate(489.55 724.8) rotate(-45)" text-anchor="end" font-size="7.5" fill="#2b2b2b">250 mg.L<tspan font-size="4.65" dy="-3.15">-1</tspan></text>
<path d="M505.95 711.8V716.2" stroke="#262626" stroke-width="1.2"/>
<text class="b" transform="translate(506.15 724.8) rotate(-45)" text-anchor="end" font-size="7.5" fill="#2b2b2b">300 mg.L<tspan font-size="4.65" dy="-3.15">-1</tspan></text>
<path d="M464.3 591.9V584.3H508.5V591.9" stroke="#1e1e1e" stroke-width="1.5" fill="none"/>
<path d="M422.8 591.9H495.5" stroke="#1e1e1e" stroke-width="1.5"/>
<path d="M468.85 573.65L468.85 576.35M467.68 574.33L470.02 575.67M467.68 575.67L470.02 574.33M473.6 573.65L473.6 576.35M472.43 574.33L474.77 575.67M472.43 575.67L474.77 574.33M478.35 573.65L478.35 576.35M477.18 574.33L479.52 575.67M477.18 575.67L479.52 574.33" stroke="#2e2e2e" stroke-width="1.35" stroke-linecap="round" fill="none"/>
<text class="b" transform="translate(395.4 659.8) rotate(-90)" text-anchor="middle" font-size="8" fill="#2b2b2b">QRS Duration (ms)</text>
<text class="sb" x="383.4" y="601.6" font-size="11.8" fill="#111">J</text>
<path d="M589.7 624.9V624 M587.4 624H592" stroke="#4a4a4a" stroke-width="0.75" fill="none"/>
<rect x="585" y="625.65" width="9.4" height="83.65" fill="#ffffff" stroke="#1c1c1c" stroke-width="1.5"/>
<path d="M605.55 625.3V620.6 M603.25 620.6H607.85" stroke="#4a4a4a" stroke-width="0.75" fill="none"/>
<rect x="601" y="626.05" width="9.1" height="83.25" fill="#d5d5d5" stroke="#1c1c1c" stroke-width="1.5"/>
<path d="M621.55 630.4V618.1 M619.25 618.1H623.85" stroke="#4a4a4a" stroke-width="0.75" fill="none"/>
<rect x="617" y="631.15" width="9.1" height="78.15" fill="#a3a3aa" stroke="#1c1c1c" stroke-width="1.5"/>
<path d="M637.9 631.4V623.4 M635.6 623.4H640.2" stroke="#4a4a4a" stroke-width="0.75" fill="none"/>
<rect x="633.1" y="632.15" width="9.6" height="77.15" fill="#818181" stroke="#1c1c1c" stroke-width="1.5"/>
<path d="M654.2 632.9V627 M651.9 627H656.5" stroke="#4a4a4a" stroke-width="0.75" fill="none"/>
<rect x="649.2" y="633.65" width="10" height="75.65" fill="#5d5d5d" stroke="#1c1c1c" stroke-width="1.5"/>
<path d="M670.75 633.3V628.7 M668.45 628.7H673.05" stroke="#4a4a4a" stroke-width="0.75" fill="none"/>
<rect x="665.5" y="634.05" width="10.5" height="75.25" fill="#333333" stroke="#1c1c1c" stroke-width="1.5"/>
<path d="M578.9 605.8V709.3 H682" stroke="#262626" stroke-width="1.27" fill="none"/>
<path d="M574.5 605.8H578.9" stroke="#262626" stroke-width="1.2"/>
<text class="b" x="572.9" y="608.54" text-anchor="end" font-size="7.6" fill="#2b2b2b">400</text>
<path d="M574.5 631.67H578.9" stroke="#262626" stroke-width="1.2"/>
<text class="b" x="572.9" y="634.41" text-anchor="end" font-size="7.6" fill="#2b2b2b">300</text>
<path d="M574.5 657.55H578.9" stroke="#262626" stroke-width="1.2"/>
<text class="b" x="572.9" y="660.29" text-anchor="end" font-size="7.6" fill="#2b2b2b">200</text>
<path d="M574.5 683.42H578.9" stroke="#262626" stroke-width="1.2"/>
<text class="b" x="572.9" y="686.16" text-anchor="end" font-size="7.6" fill="#2b2b2b">100</text>
<path d="M574.5 709.3H578.9" stroke="#262626" stroke-width="1.2"/>
<text class="b" x="572.9" y="712.04" text-anchor="end" font-size="7.6" fill="#2b2b2b">0</text>
<path d="M589.7 709.3V713.7" stroke="#262626" stroke-width="1.2"/>
<text class="b" transform="translate(589.9 722.3) rotate(-45)" text-anchor="end" font-size="7.5" fill="#2b2b2b">Control</text>
<path d="M605.55 709.3V713.7" stroke="#262626" stroke-width="1.2"/>
<text class="b" transform="translate(605.75 722.3) rotate(-45)" text-anchor="end" font-size="7.5" fill="#2b2b2b">Vehicle</text>
<path d="M621.55 709.3V713.7" stroke="#262626" stroke-width="1.2"/>
<text class="b" transform="translate(621.75 722.3) rotate(-45)" text-anchor="end" font-size="7.5" fill="#2b2b2b">150 mg.L<tspan font-size="4.65" dy="-3.15">-1</tspan></text>
<path d="M637.9 709.3V713.7" stroke="#262626" stroke-width="1.2"/>
<text class="b" transform="translate(638.1 722.3) rotate(-45)" text-anchor="end" font-size="7.5" fill="#2b2b2b">200 mg.L<tspan font-size="4.65" dy="-3.15">-1</tspan></text>
<path d="M654.2 709.3V713.7" stroke="#262626" stroke-width="1.2"/>
<text class="b" transform="translate(654.4 722.3) rotate(-45)" text-anchor="end" font-size="7.5" fill="#2b2b2b">250 mg.L<tspan font-size="4.65" dy="-3.15">-1</tspan></text>
<path d="M670.75 709.3V713.7" stroke="#262626" stroke-width="1.2"/>
<text class="b" transform="translate(670.95 722.3) rotate(-45)" text-anchor="end" font-size="7.5" fill="#2b2b2b">300 mg.L<tspan font-size="4.65" dy="-3.15">-1</tspan></text>
<text class="b" transform="translate(555.6 656.7) rotate(-90)" text-anchor="middle" font-size="8.1" fill="#2b2b2b">Q-T Interval (ms)</text>
<text class="sb" x="544" y="603" font-size="11.0" fill="#111">K</text>
<text class="sb" x="2.3" y="12.6" font-size="14.2" fill="#111">A</text>
<text class="sb" x="3.6" y="118" font-size="14.2" fill="#111">B</text>
<text class="sb" x="4" y="211.6" font-size="14.2" fill="#111">C</text>
<text class="sb" x="2.6" y="305.3" font-size="14.2" fill="#111">D</text>
<text class="sb" x="2.6" y="399" font-size="14.2" fill="#111">E</text>
</svg></body></html>
